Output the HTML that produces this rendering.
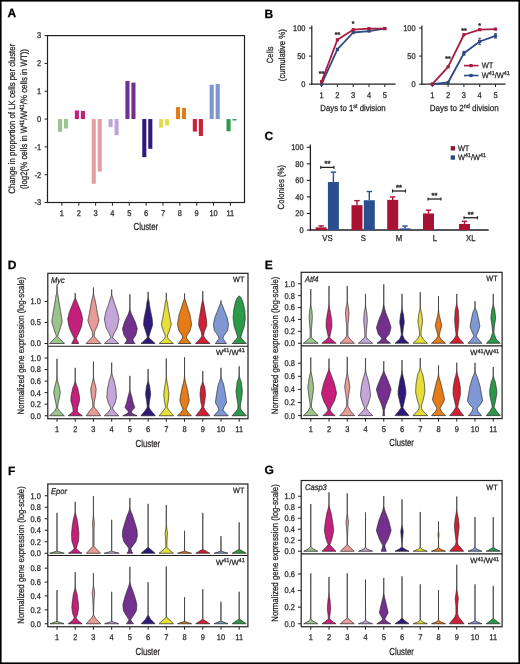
<!DOCTYPE html>
<html><head><meta charset="utf-8"><style>
html,body{margin:0;padding:0;background:#fff;}
svg{display:block;will-change:transform;font-family:"Liberation Sans", sans-serif;text-rendering:geometricPrecision;}
</style></head><body>
<svg width="520" height="664" viewBox="0 0 520 664">
<rect x="0" y="0" width="520" height="664" fill="#fff"/>
<rect x="0" y="0" width="520" height="664" fill="none" stroke="#000" stroke-width="3.2"/>
<text x="7.40" y="17.30" font-size="12" text-anchor="start" font-weight="bold" font-style="normal" fill="#000" stroke="#000" stroke-width="0.25" >A</text>
<rect x="47.5" y="35.6" width="197.0" height="166.9" fill="none" stroke="#231f20" stroke-width="1.2"/>
<line x1="44.60" y1="202.51" x2="47.50" y2="202.51" stroke="#231f20" stroke-width="1" />
<text transform="translate(41.20,205.41) scale(0.9,1)" x="0" y="0" font-size="8.3" text-anchor="end" font-weight="normal" font-style="normal" fill="#231f20" stroke="#231f20" stroke-width="0.25" >-3</text>
<line x1="44.60" y1="174.69" x2="47.50" y2="174.69" stroke="#231f20" stroke-width="1" />
<text transform="translate(41.20,177.59) scale(0.9,1)" x="0" y="0" font-size="8.3" text-anchor="end" font-weight="normal" font-style="normal" fill="#231f20" stroke="#231f20" stroke-width="0.25" >-2</text>
<line x1="44.60" y1="146.87" x2="47.50" y2="146.87" stroke="#231f20" stroke-width="1" />
<text transform="translate(41.20,149.77) scale(0.9,1)" x="0" y="0" font-size="8.3" text-anchor="end" font-weight="normal" font-style="normal" fill="#231f20" stroke="#231f20" stroke-width="0.25" >-1</text>
<line x1="44.60" y1="119.05" x2="47.50" y2="119.05" stroke="#231f20" stroke-width="1" />
<text transform="translate(41.20,121.95) scale(0.9,1)" x="0" y="0" font-size="8.3" text-anchor="end" font-weight="normal" font-style="normal" fill="#231f20" stroke="#231f20" stroke-width="0.25" >0</text>
<line x1="44.60" y1="91.23" x2="47.50" y2="91.23" stroke="#231f20" stroke-width="1" />
<text transform="translate(41.20,94.13) scale(0.9,1)" x="0" y="0" font-size="8.3" text-anchor="end" font-weight="normal" font-style="normal" fill="#231f20" stroke="#231f20" stroke-width="0.25" >1</text>
<line x1="44.60" y1="63.41" x2="47.50" y2="63.41" stroke="#231f20" stroke-width="1" />
<text transform="translate(41.20,66.31) scale(0.9,1)" x="0" y="0" font-size="8.3" text-anchor="end" font-weight="normal" font-style="normal" fill="#231f20" stroke="#231f20" stroke-width="0.25" >2</text>
<line x1="44.60" y1="35.59" x2="47.50" y2="35.59" stroke="#231f20" stroke-width="1" />
<text transform="translate(41.20,38.49) scale(0.9,1)" x="0" y="0" font-size="8.3" text-anchor="end" font-weight="normal" font-style="normal" fill="#231f20" stroke="#231f20" stroke-width="0.25" >3</text>
<rect x="58.00" y="119.05" width="4.10" height="12.80" fill="#9cc48e" />
<rect x="64.00" y="119.05" width="4.10" height="9.46" fill="#9cc48e" />
<line x1="61.90" y1="202.50" x2="61.90" y2="205.70" stroke="#231f20" stroke-width="1" />
<text transform="translate(61.90,216.30) scale(0.9,1)" x="0" y="0" font-size="8.3" text-anchor="middle" font-weight="normal" font-style="normal" fill="#231f20" stroke="#231f20" stroke-width="0.25" >1</text>
<rect x="74.85" y="110.43" width="4.10" height="8.62" fill="#c21f77" />
<rect x="80.85" y="110.98" width="4.10" height="8.07" fill="#c21f77" />
<line x1="78.75" y1="202.50" x2="78.75" y2="205.70" stroke="#231f20" stroke-width="1" />
<text transform="translate(78.75,216.30) scale(0.9,1)" x="0" y="0" font-size="8.3" text-anchor="middle" font-weight="normal" font-style="normal" fill="#231f20" stroke="#231f20" stroke-width="0.25" >2</text>
<rect x="91.70" y="119.05" width="4.10" height="64.82" fill="#e4a0a0" />
<rect x="97.70" y="119.05" width="4.10" height="52.58" fill="#e4a0a0" />
<line x1="95.60" y1="202.50" x2="95.60" y2="205.70" stroke="#231f20" stroke-width="1" />
<text transform="translate(95.60,216.30) scale(0.9,1)" x="0" y="0" font-size="8.3" text-anchor="middle" font-weight="normal" font-style="normal" fill="#231f20" stroke="#231f20" stroke-width="0.25" >3</text>
<rect x="108.55" y="119.05" width="4.10" height="8.07" fill="#c2a4d4" />
<rect x="114.55" y="119.05" width="4.10" height="16.14" fill="#c2a4d4" />
<line x1="112.45" y1="202.50" x2="112.45" y2="205.70" stroke="#231f20" stroke-width="1" />
<text transform="translate(112.45,216.30) scale(0.9,1)" x="0" y="0" font-size="8.3" text-anchor="middle" font-weight="normal" font-style="normal" fill="#231f20" stroke="#231f20" stroke-width="0.25" >4</text>
<rect x="125.40" y="80.94" width="4.10" height="38.11" fill="#703090" />
<rect x="131.40" y="82.61" width="4.10" height="36.44" fill="#703090" />
<line x1="129.30" y1="202.50" x2="129.30" y2="205.70" stroke="#231f20" stroke-width="1" />
<text transform="translate(129.30,216.30) scale(0.9,1)" x="0" y="0" font-size="8.3" text-anchor="middle" font-weight="normal" font-style="normal" fill="#231f20" stroke="#231f20" stroke-width="0.25" >5</text>
<rect x="142.25" y="119.05" width="4.10" height="38.11" fill="#2f1a78" />
<rect x="148.25" y="119.05" width="4.10" height="29.77" fill="#2f1a78" />
<line x1="146.15" y1="202.50" x2="146.15" y2="205.70" stroke="#231f20" stroke-width="1" />
<text transform="translate(146.15,216.30) scale(0.9,1)" x="0" y="0" font-size="8.3" text-anchor="middle" font-weight="normal" font-style="normal" fill="#231f20" stroke="#231f20" stroke-width="0.25" >6</text>
<rect x="159.10" y="119.05" width="4.10" height="8.62" fill="#e2dc4a" />
<rect x="165.10" y="119.05" width="4.10" height="6.40" fill="#e2dc4a" />
<line x1="163.00" y1="202.50" x2="163.00" y2="205.70" stroke="#231f20" stroke-width="1" />
<text transform="translate(163.00,216.30) scale(0.9,1)" x="0" y="0" font-size="8.3" text-anchor="middle" font-weight="normal" font-style="normal" fill="#231f20" stroke="#231f20" stroke-width="0.25" >7</text>
<rect x="175.95" y="107.09" width="4.10" height="11.96" fill="#e07c1a" />
<rect x="181.95" y="107.92" width="4.10" height="11.13" fill="#e07c1a" />
<line x1="179.85" y1="202.50" x2="179.85" y2="205.70" stroke="#231f20" stroke-width="1" />
<text transform="translate(179.85,216.30) scale(0.9,1)" x="0" y="0" font-size="8.3" text-anchor="middle" font-weight="normal" font-style="normal" fill="#231f20" stroke="#231f20" stroke-width="0.25" >8</text>
<rect x="192.80" y="119.05" width="4.10" height="12.52" fill="#cc2035" />
<rect x="198.80" y="119.05" width="4.10" height="16.97" fill="#cc2035" />
<line x1="196.70" y1="202.50" x2="196.70" y2="205.70" stroke="#231f20" stroke-width="1" />
<text transform="translate(196.70,216.30) scale(0.9,1)" x="0" y="0" font-size="8.3" text-anchor="middle" font-weight="normal" font-style="normal" fill="#231f20" stroke="#231f20" stroke-width="0.25" >9</text>
<rect x="209.65" y="84.83" width="4.10" height="34.22" fill="#7e96d0" />
<rect x="215.65" y="84.00" width="4.10" height="35.05" fill="#7e96d0" />
<line x1="213.55" y1="202.50" x2="213.55" y2="205.70" stroke="#231f20" stroke-width="1" />
<text transform="translate(213.55,216.30) scale(0.9,1)" x="0" y="0" font-size="8.3" text-anchor="middle" font-weight="normal" font-style="normal" fill="#231f20" stroke="#231f20" stroke-width="0.25" >10</text>
<rect x="226.50" y="119.05" width="4.10" height="12.24" fill="#2c9a4c" />
<rect x="232.50" y="119.05" width="4.10" height="1.39" fill="#2c9a4c" />
<line x1="230.40" y1="202.50" x2="230.40" y2="205.70" stroke="#231f20" stroke-width="1" />
<text transform="translate(230.40,216.30) scale(0.9,1)" x="0" y="0" font-size="8.3" text-anchor="middle" font-weight="normal" font-style="normal" fill="#231f20" stroke="#231f20" stroke-width="0.25" >11</text>
<text x="145.85" y="230.40" font-size="10.2" text-anchor="middle" font-weight="normal" font-style="normal" fill="#231f20" stroke="#231f20" stroke-width="0.25" textLength="24.6" lengthAdjust="spacingAndGlyphs" >Cluster</text>
<g transform="translate(15.4,118.75) rotate(-90)">
<text x="0.00" y="0.00" font-size="9.3" text-anchor="middle" font-weight="normal" font-style="normal" fill="#231f20" stroke="#231f20" stroke-width="0.25" textLength="150" lengthAdjust="spacingAndGlyphs" >Change in proportion of LK cells per cluster</text>
</g>
<g transform="translate(27.1,119) rotate(-90)">
<text x="0.00" y="0.00" font-size="9.3" text-anchor="middle" font-weight="normal" font-style="normal" fill="#231f20" stroke="#231f20" stroke-width="0.25" textLength="140" lengthAdjust="spacingAndGlyphs" >(log2(% cells in W<tspan font-size="6.3" dy="-3.3">41</tspan><tspan dy="3.3">/W</tspan><tspan font-size="6.3" dy="-3.3">41</tspan><tspan dy="3.3">/% cells in WT))</tspan></text>
</g>
<text x="264.50" y="17.60" font-size="12" text-anchor="start" font-weight="bold" font-style="normal" fill="#000" stroke="#000" stroke-width="0.25" >B</text>
<line x1="311.80" y1="25.40" x2="311.80" y2="84.70" stroke="#231f20" stroke-width="1.2" />
<line x1="311.20" y1="84.20" x2="395.60" y2="84.20" stroke="#231f20" stroke-width="1.2" />
<line x1="309.00" y1="84.20" x2="311.80" y2="84.20" stroke="#231f20" stroke-width="1" />
<text transform="translate(305.50,87.10) scale(0.9,1)" x="0" y="0" font-size="8.3" text-anchor="end" font-weight="normal" font-style="normal" fill="#231f20" stroke="#231f20" stroke-width="0.25" >0</text>
<line x1="309.00" y1="56.10" x2="311.80" y2="56.10" stroke="#231f20" stroke-width="1" />
<text transform="translate(305.50,59.00) scale(0.9,1)" x="0" y="0" font-size="8.3" text-anchor="end" font-weight="normal" font-style="normal" fill="#231f20" stroke="#231f20" stroke-width="0.25" >50</text>
<line x1="309.00" y1="28.00" x2="311.80" y2="28.00" stroke="#231f20" stroke-width="1" />
<text transform="translate(305.50,30.90) scale(0.9,1)" x="0" y="0" font-size="8.3" text-anchor="end" font-weight="normal" font-style="normal" fill="#231f20" stroke="#231f20" stroke-width="0.25" >100</text>
<line x1="321.60" y1="84.20" x2="321.60" y2="87.00" stroke="#231f20" stroke-width="1" />
<text transform="translate(321.60,97.90) scale(0.9,1)" x="0" y="0" font-size="8.3" text-anchor="middle" font-weight="normal" font-style="normal" fill="#231f20" stroke="#231f20" stroke-width="0.25" >1</text>
<line x1="337.40" y1="84.20" x2="337.40" y2="87.00" stroke="#231f20" stroke-width="1" />
<text transform="translate(337.40,97.90) scale(0.9,1)" x="0" y="0" font-size="8.3" text-anchor="middle" font-weight="normal" font-style="normal" fill="#231f20" stroke="#231f20" stroke-width="0.25" >2</text>
<line x1="353.20" y1="84.20" x2="353.20" y2="87.00" stroke="#231f20" stroke-width="1" />
<text transform="translate(353.20,97.90) scale(0.9,1)" x="0" y="0" font-size="8.3" text-anchor="middle" font-weight="normal" font-style="normal" fill="#231f20" stroke="#231f20" stroke-width="0.25" >3</text>
<line x1="369.00" y1="84.20" x2="369.00" y2="87.00" stroke="#231f20" stroke-width="1" />
<text transform="translate(369.00,97.90) scale(0.9,1)" x="0" y="0" font-size="8.3" text-anchor="middle" font-weight="normal" font-style="normal" fill="#231f20" stroke="#231f20" stroke-width="0.25" >4</text>
<line x1="384.80" y1="84.20" x2="384.80" y2="87.00" stroke="#231f20" stroke-width="1" />
<text transform="translate(384.80,97.90) scale(0.9,1)" x="0" y="0" font-size="8.3" text-anchor="middle" font-weight="normal" font-style="normal" fill="#231f20" stroke="#231f20" stroke-width="0.25" >5</text>
<polyline points="321.60,84.20 337.40,49.36 353.20,32.50 369.00,31.09 384.80,28.56" fill="none" stroke="#2e4a80" stroke-width="1.8" stroke-linejoin="round"/>
<rect x="320.00" y="82.60" width="3.20" height="3.20" fill="#2e4a80" />
<rect x="335.80" y="47.76" width="3.20" height="3.20" fill="#2e4a80" />
<rect x="351.60" y="30.90" width="3.20" height="3.20" fill="#2e4a80" />
<rect x="367.40" y="29.49" width="3.20" height="3.20" fill="#2e4a80" />
<rect x="383.20" y="26.96" width="3.20" height="3.20" fill="#2e4a80" />
<polyline points="321.60,81.67 337.40,39.80 353.20,29.69 369.00,28.56 384.80,28.56" fill="none" stroke="#ab1a40" stroke-width="1.8" stroke-linejoin="round"/>
<rect x="320.00" y="80.07" width="3.20" height="3.20" fill="#ab1a40" />
<rect x="335.80" y="38.20" width="3.20" height="3.20" fill="#ab1a40" />
<rect x="351.60" y="28.09" width="3.20" height="3.20" fill="#ab1a40" />
<rect x="367.40" y="26.96" width="3.20" height="3.20" fill="#ab1a40" />
<rect x="383.20" y="26.96" width="3.20" height="3.20" fill="#ab1a40" />
<text x="321.60" y="76.00" font-size="7" text-anchor="middle" font-weight="bold" font-style="normal" fill="#231f20" stroke="#231f20" stroke-width="0.25" >**</text>
<text x="337.40" y="36.50" font-size="7" text-anchor="middle" font-weight="bold" font-style="normal" fill="#231f20" stroke="#231f20" stroke-width="0.25" >**</text>
<text x="353.20" y="26.00" font-size="7" text-anchor="middle" font-weight="bold" font-style="normal" fill="#231f20" stroke="#231f20" stroke-width="0.25" >*</text>
<text x="353.00" y="111.20" font-size="8.8" text-anchor="middle" font-weight="normal" font-style="normal" fill="#231f20" stroke="#231f20" stroke-width="0.25" textLength="65.5" lengthAdjust="spacingAndGlyphs" >Days to 1<tspan font-size="6" dy="-3.2">st</tspan><tspan dy="3.2"> division</tspan></text>
<line x1="421.90" y1="25.40" x2="421.90" y2="84.70" stroke="#231f20" stroke-width="1.2" />
<line x1="421.30" y1="84.20" x2="505.50" y2="84.20" stroke="#231f20" stroke-width="1.2" />
<line x1="419.10" y1="84.20" x2="421.90" y2="84.20" stroke="#231f20" stroke-width="1" />
<text transform="translate(415.60,87.10) scale(0.9,1)" x="0" y="0" font-size="8.3" text-anchor="end" font-weight="normal" font-style="normal" fill="#231f20" stroke="#231f20" stroke-width="0.25" >0</text>
<line x1="419.10" y1="56.10" x2="421.90" y2="56.10" stroke="#231f20" stroke-width="1" />
<text transform="translate(415.60,59.00) scale(0.9,1)" x="0" y="0" font-size="8.3" text-anchor="end" font-weight="normal" font-style="normal" fill="#231f20" stroke="#231f20" stroke-width="0.25" >50</text>
<line x1="419.10" y1="28.00" x2="421.90" y2="28.00" stroke="#231f20" stroke-width="1" />
<text transform="translate(415.60,30.90) scale(0.9,1)" x="0" y="0" font-size="8.3" text-anchor="end" font-weight="normal" font-style="normal" fill="#231f20" stroke="#231f20" stroke-width="0.25" >100</text>
<line x1="432.30" y1="84.20" x2="432.30" y2="87.00" stroke="#231f20" stroke-width="1" />
<text transform="translate(432.30,97.90) scale(0.9,1)" x="0" y="0" font-size="8.3" text-anchor="middle" font-weight="normal" font-style="normal" fill="#231f20" stroke="#231f20" stroke-width="0.25" >1</text>
<line x1="448.10" y1="84.20" x2="448.10" y2="87.00" stroke="#231f20" stroke-width="1" />
<text transform="translate(448.10,97.90) scale(0.9,1)" x="0" y="0" font-size="8.3" text-anchor="middle" font-weight="normal" font-style="normal" fill="#231f20" stroke="#231f20" stroke-width="0.25" >2</text>
<line x1="463.90" y1="84.20" x2="463.90" y2="87.00" stroke="#231f20" stroke-width="1" />
<text transform="translate(463.90,97.90) scale(0.9,1)" x="0" y="0" font-size="8.3" text-anchor="middle" font-weight="normal" font-style="normal" fill="#231f20" stroke="#231f20" stroke-width="0.25" >3</text>
<line x1="479.70" y1="84.20" x2="479.70" y2="87.00" stroke="#231f20" stroke-width="1" />
<text transform="translate(479.70,97.90) scale(0.9,1)" x="0" y="0" font-size="8.3" text-anchor="middle" font-weight="normal" font-style="normal" fill="#231f20" stroke="#231f20" stroke-width="0.25" >4</text>
<line x1="495.50" y1="84.20" x2="495.50" y2="87.00" stroke="#231f20" stroke-width="1" />
<text transform="translate(495.50,97.90) scale(0.9,1)" x="0" y="0" font-size="8.3" text-anchor="middle" font-weight="normal" font-style="normal" fill="#231f20" stroke="#231f20" stroke-width="0.25" >5</text>
<polyline points="432.30,84.20 448.10,82.51 463.90,53.29 479.70,41.49 495.50,35.87" fill="none" stroke="#2e4a80" stroke-width="1.8" stroke-linejoin="round"/>
<rect x="430.70" y="82.60" width="3.20" height="3.20" fill="#2e4a80" />
<rect x="446.50" y="80.91" width="3.20" height="3.20" fill="#2e4a80" />
<rect x="462.30" y="51.69" width="3.20" height="3.20" fill="#2e4a80" />
<rect x="478.10" y="39.89" width="3.20" height="3.20" fill="#2e4a80" />
<rect x="493.90" y="34.27" width="3.20" height="3.20" fill="#2e4a80" />
<polyline points="432.30,84.20 448.10,66.78 463.90,34.74 479.70,29.69 495.50,29.12" fill="none" stroke="#ab1a40" stroke-width="1.8" stroke-linejoin="round"/>
<rect x="430.70" y="82.60" width="3.20" height="3.20" fill="#ab1a40" />
<rect x="446.50" y="65.18" width="3.20" height="3.20" fill="#ab1a40" />
<rect x="462.30" y="33.14" width="3.20" height="3.20" fill="#ab1a40" />
<rect x="478.10" y="28.09" width="3.20" height="3.20" fill="#ab1a40" />
<rect x="493.90" y="27.52" width="3.20" height="3.20" fill="#ab1a40" />
<line x1="463.90" y1="51.29" x2="463.90" y2="55.29" stroke="#2e4a80" stroke-width="0.9" />
<line x1="462.40" y1="51.29" x2="465.40" y2="51.29" stroke="#2e4a80" stroke-width="0.9" />
<line x1="462.40" y1="55.29" x2="465.40" y2="55.29" stroke="#2e4a80" stroke-width="0.9" />
<line x1="479.70" y1="38.29" x2="479.70" y2="44.69" stroke="#2e4a80" stroke-width="0.9" />
<line x1="478.20" y1="38.29" x2="481.20" y2="38.29" stroke="#2e4a80" stroke-width="0.9" />
<line x1="478.20" y1="44.69" x2="481.20" y2="44.69" stroke="#2e4a80" stroke-width="0.9" />
<line x1="495.50" y1="33.67" x2="495.50" y2="38.07" stroke="#2e4a80" stroke-width="0.9" />
<line x1="494.00" y1="33.67" x2="497.00" y2="33.67" stroke="#2e4a80" stroke-width="0.9" />
<line x1="494.00" y1="38.07" x2="497.00" y2="38.07" stroke="#2e4a80" stroke-width="0.9" />
<text x="448.10" y="61.30" font-size="7" text-anchor="middle" font-weight="bold" font-style="normal" fill="#231f20" stroke="#231f20" stroke-width="0.25" >**</text>
<text x="463.90" y="33.30" font-size="7" text-anchor="middle" font-weight="bold" font-style="normal" fill="#231f20" stroke="#231f20" stroke-width="0.25" >**</text>
<text x="479.70" y="28.00" font-size="7" text-anchor="middle" font-weight="bold" font-style="normal" fill="#231f20" stroke="#231f20" stroke-width="0.25" >*</text>
<text x="464.30" y="111.20" font-size="8.8" text-anchor="middle" font-weight="normal" font-style="normal" fill="#231f20" stroke="#231f20" stroke-width="0.25" textLength="69" lengthAdjust="spacingAndGlyphs" >Days to 2<tspan font-size="6" dy="-3.2">nd</tspan><tspan dy="3.2"> division</tspan></text>
<g transform="translate(273,54.8) rotate(-90)">
<text x="0.00" y="0.00" font-size="9.0" text-anchor="middle" font-weight="normal" font-style="normal" fill="#231f20" stroke="#231f20" stroke-width="0.25" textLength="16.8" lengthAdjust="spacingAndGlyphs" >Cells</text>
</g>
<g transform="translate(284.6,55.2) rotate(-90)">
<text x="0.00" y="0.00" font-size="9.0" text-anchor="middle" font-weight="normal" font-style="normal" fill="#231f20" stroke="#231f20" stroke-width="0.25" textLength="52" lengthAdjust="spacingAndGlyphs" >(cumulative %)</text>
</g>
<line x1="464.00" y1="65.60" x2="478.50" y2="65.60" stroke="#ab1a40" stroke-width="1.6" />
<rect x="469.40" y="64.00" width="3.20" height="3.20" fill="#ab1a40" />
<text transform="translate(481.70,68.30) scale(0.93,1)" x="0" y="0" font-size="8" text-anchor="start" font-weight="normal" font-style="normal" fill="#231f20" stroke="#231f20" stroke-width="0.25" >WT</text>
<line x1="464.00" y1="75.50" x2="478.50" y2="75.50" stroke="#2e4a80" stroke-width="1.6" />
<rect x="469.40" y="73.90" width="3.20" height="3.20" fill="#2e4a80" />
<text transform="translate(481.70,78.20) scale(0.93,1)" x="0" y="0" font-size="8" text-anchor="start" font-weight="normal" font-style="normal" fill="#231f20" stroke="#231f20" stroke-width="0.25" >W<tspan font-size="5.8" dy="-2.9">41</tspan><tspan dy="2.9">/W</tspan><tspan font-size="5.8" dy="-2.9">41</tspan></text>
<text x="264.60" y="140.10" font-size="12" text-anchor="start" font-weight="bold" font-style="normal" fill="#000" stroke="#000" stroke-width="0.25" >C</text>
<line x1="310.40" y1="144.50" x2="310.40" y2="230.60" stroke="#231f20" stroke-width="1.3" />
<line x1="309.80" y1="230.00" x2="488.75" y2="230.00" stroke="#231f20" stroke-width="1.3" />
<line x1="306.80" y1="230.00" x2="310.40" y2="230.00" stroke="#231f20" stroke-width="1.1" />
<text transform="translate(303.60,232.90) scale(0.9,1)" x="0" y="0" font-size="8.3" text-anchor="end" font-weight="normal" font-style="normal" fill="#231f20" stroke="#231f20" stroke-width="0.25" >0</text>
<line x1="306.80" y1="213.46" x2="310.40" y2="213.46" stroke="#231f20" stroke-width="1.1" />
<text transform="translate(303.60,216.36) scale(0.9,1)" x="0" y="0" font-size="8.3" text-anchor="end" font-weight="normal" font-style="normal" fill="#231f20" stroke="#231f20" stroke-width="0.25" >20</text>
<line x1="306.80" y1="196.92" x2="310.40" y2="196.92" stroke="#231f20" stroke-width="1.1" />
<text transform="translate(303.60,199.82) scale(0.9,1)" x="0" y="0" font-size="8.3" text-anchor="end" font-weight="normal" font-style="normal" fill="#231f20" stroke="#231f20" stroke-width="0.25" >40</text>
<line x1="306.80" y1="180.38" x2="310.40" y2="180.38" stroke="#231f20" stroke-width="1.1" />
<text transform="translate(303.60,183.28) scale(0.9,1)" x="0" y="0" font-size="8.3" text-anchor="end" font-weight="normal" font-style="normal" fill="#231f20" stroke="#231f20" stroke-width="0.25" >60</text>
<line x1="306.80" y1="163.84" x2="310.40" y2="163.84" stroke="#231f20" stroke-width="1.1" />
<text transform="translate(303.60,166.74) scale(0.9,1)" x="0" y="0" font-size="8.3" text-anchor="end" font-weight="normal" font-style="normal" fill="#231f20" stroke="#231f20" stroke-width="0.25" >80</text>
<line x1="306.80" y1="147.30" x2="310.40" y2="147.30" stroke="#231f20" stroke-width="1.1" />
<text transform="translate(303.60,150.20) scale(0.9,1)" x="0" y="0" font-size="8.3" text-anchor="end" font-weight="normal" font-style="normal" fill="#231f20" stroke="#231f20" stroke-width="0.25" >100</text>
<line x1="321.10" y1="227.35" x2="321.10" y2="225.87" stroke="#aa1234" stroke-width="1.4" />
<line x1="318.40" y1="225.87" x2="323.80" y2="225.87" stroke="#aa1234" stroke-width="1.4" />
<rect x="315.60" y="227.35" width="11.00" height="2.65" fill="#aa1234" />
<line x1="333.40" y1="182.03" x2="333.40" y2="172.11" stroke="#2a4f8f" stroke-width="1.4" />
<line x1="330.70" y1="172.11" x2="336.10" y2="172.11" stroke="#2a4f8f" stroke-width="1.4" />
<rect x="327.90" y="182.03" width="11.00" height="47.97" fill="#2a4f8f" />
<text transform="translate(327.40,240.60) scale(0.9,1)" x="0" y="0" font-size="8.6" text-anchor="middle" font-weight="normal" font-style="normal" fill="#231f20" stroke="#231f20" stroke-width="0.25" >VS</text>
<line x1="357.00" y1="205.19" x2="357.00" y2="200.64" stroke="#aa1234" stroke-width="1.4" />
<line x1="354.30" y1="200.64" x2="359.70" y2="200.64" stroke="#aa1234" stroke-width="1.4" />
<rect x="351.50" y="205.19" width="11.00" height="24.81" fill="#aa1234" />
<line x1="369.30" y1="200.23" x2="369.30" y2="191.54" stroke="#2a4f8f" stroke-width="1.4" />
<line x1="366.60" y1="191.54" x2="372.00" y2="191.54" stroke="#2a4f8f" stroke-width="1.4" />
<rect x="363.80" y="200.23" width="11.00" height="29.77" fill="#2a4f8f" />
<text transform="translate(363.30,240.60) scale(0.9,1)" x="0" y="0" font-size="8.6" text-anchor="middle" font-weight="normal" font-style="normal" fill="#231f20" stroke="#231f20" stroke-width="0.25" >S</text>
<line x1="392.70" y1="199.90" x2="392.70" y2="196.92" stroke="#aa1234" stroke-width="1.4" />
<line x1="390.00" y1="196.92" x2="395.40" y2="196.92" stroke="#aa1234" stroke-width="1.4" />
<rect x="387.20" y="199.90" width="11.00" height="30.10" fill="#aa1234" />
<line x1="405.00" y1="228.35" x2="405.00" y2="226.03" stroke="#2a4f8f" stroke-width="1.4" />
<line x1="402.30" y1="226.03" x2="407.70" y2="226.03" stroke="#2a4f8f" stroke-width="1.4" />
<rect x="399.50" y="228.35" width="11.00" height="1.65" fill="#2a4f8f" />
<text transform="translate(399.00,240.60) scale(0.9,1)" x="0" y="0" font-size="8.6" text-anchor="middle" font-weight="normal" font-style="normal" fill="#231f20" stroke="#231f20" stroke-width="0.25" >M</text>
<line x1="428.50" y1="213.46" x2="428.50" y2="210.15" stroke="#aa1234" stroke-width="1.4" />
<line x1="425.80" y1="210.15" x2="431.20" y2="210.15" stroke="#aa1234" stroke-width="1.4" />
<rect x="423.00" y="213.46" width="11.00" height="16.54" fill="#aa1234" />
<rect x="435.30" y="229.50" width="11.00" height="0.50" fill="#2a4f8f" />
<text transform="translate(434.80,240.60) scale(0.9,1)" x="0" y="0" font-size="8.6" text-anchor="middle" font-weight="normal" font-style="normal" fill="#231f20" stroke="#231f20" stroke-width="0.25" >L</text>
<line x1="464.50" y1="223.96" x2="464.50" y2="221.32" stroke="#aa1234" stroke-width="1.4" />
<line x1="461.80" y1="221.32" x2="467.20" y2="221.32" stroke="#aa1234" stroke-width="1.4" />
<rect x="459.00" y="223.96" width="11.00" height="6.04" fill="#aa1234" />
<rect x="471.30" y="229.67" width="11.00" height="0.33" fill="#2a4f8f" />
<text transform="translate(470.80,240.60) scale(0.9,1)" x="0" y="0" font-size="8.6" text-anchor="middle" font-weight="normal" font-style="normal" fill="#231f20" stroke="#231f20" stroke-width="0.25" >XL</text>
<line x1="320.80" y1="167.40" x2="334.00" y2="167.40" stroke="#231f20" stroke-width="1.3" />
<line x1="320.80" y1="165.80" x2="320.80" y2="169.00" stroke="#231f20" stroke-width="1.1" />
<line x1="334.00" y1="165.80" x2="334.00" y2="169.00" stroke="#231f20" stroke-width="1.1" />
<text x="327.40" y="166.40" font-size="7.4" text-anchor="middle" font-weight="bold" font-style="normal" fill="#231f20" stroke="#231f20" stroke-width="0.25" >**</text>
<line x1="392.50" y1="191.00" x2="405.50" y2="191.00" stroke="#231f20" stroke-width="1.3" />
<line x1="392.50" y1="189.40" x2="392.50" y2="192.60" stroke="#231f20" stroke-width="1.1" />
<line x1="405.50" y1="189.40" x2="405.50" y2="192.60" stroke="#231f20" stroke-width="1.1" />
<text x="399.00" y="190.00" font-size="7.4" text-anchor="middle" font-weight="bold" font-style="normal" fill="#231f20" stroke="#231f20" stroke-width="0.25" >**</text>
<line x1="428.00" y1="199.00" x2="441.00" y2="199.00" stroke="#231f20" stroke-width="1.3" />
<line x1="428.00" y1="197.40" x2="428.00" y2="200.60" stroke="#231f20" stroke-width="1.1" />
<line x1="441.00" y1="197.40" x2="441.00" y2="200.60" stroke="#231f20" stroke-width="1.1" />
<text x="434.50" y="198.00" font-size="7.4" text-anchor="middle" font-weight="bold" font-style="normal" fill="#231f20" stroke="#231f20" stroke-width="0.25" >**</text>
<line x1="464.00" y1="217.75" x2="477.50" y2="217.75" stroke="#231f20" stroke-width="1.3" />
<line x1="464.00" y1="216.15" x2="464.00" y2="219.35" stroke="#231f20" stroke-width="1.1" />
<line x1="477.50" y1="216.15" x2="477.50" y2="219.35" stroke="#231f20" stroke-width="1.1" />
<text x="470.75" y="216.75" font-size="7.4" text-anchor="middle" font-weight="bold" font-style="normal" fill="#231f20" stroke="#231f20" stroke-width="0.25" >**</text>
<g transform="translate(284.3,187.2) rotate(-90)">
<text x="0.00" y="0.00" font-size="9.0" text-anchor="middle" font-weight="normal" font-style="normal" fill="#231f20" stroke="#231f20" stroke-width="0.25" textLength="44.5" lengthAdjust="spacingAndGlyphs" >Colonies (%)</text>
</g>
<rect x="450.70" y="146.10" width="4.30" height="4.40" fill="#8e1a30" />
<text x="457.90" y="150.60" font-size="8" text-anchor="start" font-weight="normal" font-style="normal" fill="#231f20" stroke="#231f20" stroke-width="0.25" textLength="11.5" lengthAdjust="spacingAndGlyphs" >WT</text>
<rect x="450.70" y="155.30" width="4.30" height="4.40" fill="#2c4a7e" />
<text transform="translate(457.90,159.80) scale(0.93,1)" x="0" y="0" font-size="8" text-anchor="start" font-weight="normal" font-style="normal" fill="#231f20" stroke="#231f20" stroke-width="0.25" >W<tspan font-size="5.8" dy="-2.9">41</tspan><tspan dy="2.9">/W</tspan><tspan font-size="5.8" dy="-2.9">41</tspan></text>
<text x="7.70" y="268.70" font-size="12" text-anchor="start" font-weight="bold" font-style="normal" fill="#000" stroke="#000" stroke-width="0.25" >D</text>
<path d="M64.50,343.50 63.90,342.90 63.30,342.30 62.70,341.70 62.10,341.10 61.50,340.50 60.90,339.90 60.30,339.30 59.70,338.70 59.10,338.10 58.50,337.50 57.93,336.90 57.65,336.30 57.77,335.70 57.97,335.10 58.17,334.50 58.37,333.90 58.57,333.30 58.78,332.70 58.99,332.10 59.20,331.50 59.41,330.90 59.62,330.30 59.83,329.70 60.04,329.10 60.25,328.50 60.46,327.90 60.64,327.30 60.81,326.70 60.97,326.10 61.13,325.50 61.29,324.90 61.45,324.30 61.61,323.70 61.77,323.10 61.93,322.50 62.07,321.90 62.12,321.30 62.07,320.70 61.98,320.10 61.89,319.50 61.80,318.90 61.70,318.30 61.61,317.70 61.52,317.10 61.42,316.50 61.33,315.90 61.24,315.30 61.14,314.70 61.05,314.10 60.96,313.50 60.86,312.90 60.76,312.30 60.66,311.70 60.55,311.10 60.44,310.50 60.34,309.90 60.23,309.30 60.12,308.70 60.02,308.10 59.91,307.50 59.80,306.90 59.70,306.30 59.59,305.70 59.48,305.10 59.38,304.50 59.27,303.90 59.17,303.30 59.08,302.70 58.99,302.10 58.90,301.50 58.81,300.90 58.72,300.30 58.63,299.70 58.54,299.10 58.45,298.50 58.36,297.90 58.27,297.30 58.18,296.70 58.09,296.10 57.97,295.50 57.81,294.90 57.65,294.30 57.50,293.70 57.37,293.10 57.26,292.50 57.17,291.90 57.11,291.30 57.06,290.70 57.03,290.10 57.02,289.50 57.02,288.90 57.01,288.30 57.01,287.70 57.01,287.10 57.01,286.50 57.00,285.90 57.00,285.30 57.00,285.30 57.00,285.30 57.00,285.90 56.99,286.50 56.99,287.10 56.99,287.70 56.99,288.30 56.98,288.90 56.98,289.50 56.97,290.10 56.94,290.70 56.89,291.30 56.83,291.90 56.74,292.50 56.63,293.10 56.50,293.70 56.35,294.30 56.19,294.90 56.03,295.50 55.91,296.10 55.82,296.70 55.73,297.30 55.64,297.90 55.55,298.50 55.46,299.10 55.37,299.70 55.28,300.30 55.19,300.90 55.10,301.50 55.01,302.10 54.92,302.70 54.83,303.30 54.73,303.90 54.62,304.50 54.52,305.10 54.41,305.70 54.30,306.30 54.20,306.90 54.09,307.50 53.98,308.10 53.88,308.70 53.77,309.30 53.66,309.90 53.56,310.50 53.45,311.10 53.34,311.70 53.24,312.30 53.14,312.90 53.04,313.50 52.95,314.10 52.86,314.70 52.76,315.30 52.67,315.90 52.58,316.50 52.48,317.10 52.39,317.70 52.30,318.30 52.20,318.90 52.11,319.50 52.02,320.10 51.93,320.70 51.88,321.30 51.93,321.90 52.07,322.50 52.23,323.10 52.39,323.70 52.55,324.30 52.71,324.90 52.87,325.50 53.03,326.10 53.19,326.70 53.36,327.30 53.54,327.90 53.75,328.50 53.96,329.10 54.17,329.70 54.38,330.30 54.59,330.90 54.80,331.50 55.01,332.10 55.22,332.70 55.43,333.30 55.63,333.90 55.83,334.50 56.03,335.10 56.23,335.70 56.35,336.30 56.07,336.90 55.50,337.50 54.90,338.10 54.30,338.70 53.70,339.30 53.10,339.90 52.50,340.50 51.90,341.10 51.30,341.70 50.70,342.30 50.10,342.90 49.50,343.50Z" fill="#9cc48e" stroke="#231f20" stroke-width="0.7" stroke-linejoin="round"/>
<path d="M64.40,415.75 63.75,415.15 63.09,414.55 62.44,413.95 61.79,413.35 61.13,412.75 60.48,412.15 59.83,411.55 59.33,410.95 58.97,410.35 58.61,409.75 58.25,409.15 57.91,408.55 57.67,407.95 57.65,407.35 57.68,406.75 57.72,406.15 57.76,405.55 57.82,404.95 57.92,404.35 58.04,403.75 58.18,403.15 58.31,402.55 58.44,401.95 58.58,401.35 58.71,400.75 58.84,400.15 58.98,399.55 59.11,398.95 59.23,398.35 59.34,397.75 59.44,397.15 59.54,396.55 59.65,395.95 59.75,395.35 59.85,394.75 59.96,394.15 60.06,393.55 60.16,392.95 60.22,392.35 60.20,391.75 60.09,391.15 59.97,390.55 59.85,389.95 59.72,389.35 59.60,388.75 59.47,388.15 59.35,387.55 59.23,386.95 59.10,386.35 58.95,385.75 58.78,385.15 58.60,384.55 58.42,383.95 58.26,383.35 58.11,382.75 57.96,382.15 57.83,381.55 57.71,380.95 57.59,380.35 57.49,379.75 57.40,379.15 57.32,378.55 57.25,377.95 57.18,377.35 57.13,376.75 57.09,376.15 57.06,375.55 57.04,374.95 57.03,374.35 57.02,373.75 57.02,373.15 57.02,372.55 57.02,371.95 57.02,371.35 57.02,370.75 57.01,370.15 57.01,369.55 57.01,368.95 57.01,368.35 57.01,367.75 57.01,367.15 57.01,366.55 57.01,365.95 57.01,365.35 57.01,364.75 57.01,364.15 57.01,363.55 57.01,362.95 57.00,362.35 57.00,361.75 57.00,361.15 57.00,360.55 57.00,359.95 57.00,359.35 57.00,358.85 57.00,359.35 57.00,359.95 57.00,360.55 57.00,361.15 57.00,361.75 57.00,362.35 56.99,362.95 56.99,363.55 56.99,364.15 56.99,364.75 56.99,365.35 56.99,365.95 56.99,366.55 56.99,367.15 56.99,367.75 56.99,368.35 56.99,368.95 56.99,369.55 56.99,370.15 56.98,370.75 56.98,371.35 56.98,371.95 56.98,372.55 56.98,373.15 56.98,373.75 56.97,374.35 56.96,374.95 56.94,375.55 56.91,376.15 56.87,376.75 56.82,377.35 56.75,377.95 56.68,378.55 56.60,379.15 56.51,379.75 56.41,380.35 56.29,380.95 56.17,381.55 56.04,382.15 55.89,382.75 55.74,383.35 55.58,383.95 55.40,384.55 55.22,385.15 55.05,385.75 54.90,386.35 54.77,386.95 54.65,387.55 54.53,388.15 54.40,388.75 54.28,389.35 54.15,389.95 54.03,390.55 53.91,391.15 53.80,391.75 53.78,392.35 53.84,392.95 53.94,393.55 54.04,394.15 54.15,394.75 54.25,395.35 54.35,395.95 54.46,396.55 54.56,397.15 54.66,397.75 54.77,398.35 54.89,398.95 55.02,399.55 55.16,400.15 55.29,400.75 55.42,401.35 55.56,401.95 55.69,402.55 55.82,403.15 55.96,403.75 56.08,404.35 56.18,404.95 56.24,405.55 56.28,406.15 56.32,406.75 56.35,407.35 56.33,407.95 56.09,408.55 55.75,409.15 55.39,409.75 55.03,410.35 54.67,410.95 54.17,411.55 53.52,412.15 52.87,412.75 52.21,413.35 51.56,413.95 50.91,414.55 50.25,415.15 49.60,415.75Z" fill="#9cc48e" stroke="#231f20" stroke-width="0.7" stroke-linejoin="round"/>
<path d="M78.72,343.50 78.43,342.90 78.15,342.30 77.86,341.70 77.55,341.10 77.20,340.50 76.85,339.90 76.51,339.30 76.28,338.70 76.50,338.10 76.74,337.50 76.98,336.90 77.23,336.30 77.51,335.70 77.79,335.10 78.08,334.50 78.36,333.90 78.65,333.30 78.93,332.70 79.22,332.10 79.51,331.50 79.79,330.90 80.07,330.30 80.31,329.70 80.52,329.10 80.72,328.50 80.92,327.90 81.12,327.30 81.32,326.70 81.52,326.10 81.69,325.50 81.81,324.90 81.90,324.30 81.99,323.70 82.08,323.10 82.17,322.50 82.26,321.90 82.35,321.30 82.44,320.70 82.53,320.10 82.61,319.50 82.65,318.90 82.59,318.30 82.46,317.70 82.32,317.10 82.17,316.50 82.03,315.90 81.89,315.30 81.74,314.70 81.60,314.10 81.46,313.50 81.31,312.90 81.12,312.30 80.90,311.70 80.66,311.10 80.42,310.50 80.18,309.90 79.94,309.30 79.70,308.70 79.46,308.10 79.22,307.50 78.98,306.90 78.74,306.30 78.50,305.70 78.26,305.10 78.02,304.50 77.78,303.90 77.54,303.30 77.30,302.70 77.06,302.10 76.82,301.50 76.57,300.90 76.31,300.30 76.04,299.70 75.80,299.10 75.60,298.50 75.45,297.90 75.34,297.30 75.27,296.70 75.25,296.10 75.24,295.50 75.23,294.90 75.23,294.30 75.22,293.70 75.22,293.10 75.22,293.00 75.22,293.10 75.22,293.70 75.21,294.30 75.21,294.90 75.20,295.50 75.19,296.10 75.17,296.70 75.10,297.30 74.99,297.90 74.84,298.50 74.64,299.10 74.40,299.70 74.13,300.30 73.87,300.90 73.62,301.50 73.38,302.10 73.14,302.70 72.90,303.30 72.66,303.90 72.42,304.50 72.18,305.10 71.94,305.70 71.70,306.30 71.46,306.90 71.22,307.50 70.98,308.10 70.74,308.70 70.50,309.30 70.26,309.90 70.02,310.50 69.78,311.10 69.54,311.70 69.32,312.30 69.13,312.90 68.98,313.50 68.84,314.10 68.70,314.70 68.55,315.30 68.41,315.90 68.27,316.50 68.12,317.10 67.98,317.70 67.85,318.30 67.79,318.90 67.83,319.50 67.91,320.10 68.00,320.70 68.09,321.30 68.18,321.90 68.27,322.50 68.36,323.10 68.45,323.70 68.54,324.30 68.63,324.90 68.75,325.50 68.92,326.10 69.12,326.70 69.32,327.30 69.52,327.90 69.72,328.50 69.92,329.10 70.13,329.70 70.37,330.30 70.65,330.90 70.93,331.50 71.22,332.10 71.51,332.70 71.79,333.30 72.08,333.90 72.36,334.50 72.65,335.10 72.93,335.70 73.21,336.30 73.46,336.90 73.70,337.50 73.94,338.10 74.16,338.70 73.93,339.30 73.59,339.90 73.24,340.50 72.89,341.10 72.58,341.70 72.29,342.30 72.01,342.90 71.72,343.50Z" fill="#c41f7a" stroke="#231f20" stroke-width="0.7" stroke-linejoin="round"/>
<path d="M82.42,415.75 81.57,415.15 80.71,414.55 79.86,413.95 79.24,413.35 78.66,412.75 78.09,412.15 77.51,411.55 77.27,410.95 77.33,410.35 77.40,409.75 77.47,409.15 77.54,408.55 77.61,407.95 77.69,407.35 77.82,406.75 77.99,406.15 78.17,405.55 78.34,404.95 78.52,404.35 78.70,403.75 78.88,403.15 79.06,402.55 79.23,401.95 79.41,401.35 79.54,400.75 79.58,400.15 79.57,399.55 79.54,398.95 79.51,398.35 79.48,397.75 79.45,397.15 79.40,396.55 79.31,395.95 79.20,395.35 79.08,394.75 78.96,394.15 78.84,393.55 78.72,392.95 78.60,392.35 78.48,391.75 78.36,391.15 78.24,390.55 78.12,389.95 78.00,389.35 77.88,388.75 77.73,388.15 77.51,387.55 77.25,386.95 76.98,386.35 76.73,385.75 76.50,385.15 76.30,384.55 76.11,383.95 75.93,383.35 75.78,382.75 75.65,382.15 75.54,381.55 75.44,380.95 75.37,380.35 75.31,379.75 75.27,379.15 75.25,378.55 75.24,377.95 75.24,377.35 75.24,376.75 75.24,376.15 75.23,375.55 75.23,374.95 75.23,374.35 75.23,373.75 75.23,373.15 75.23,372.55 75.23,371.95 75.23,371.35 75.23,370.75 75.22,370.15 75.22,369.55 75.22,368.95 75.22,368.35 75.22,367.85 75.22,368.35 75.22,368.95 75.22,369.55 75.22,370.15 75.21,370.75 75.21,371.35 75.21,371.95 75.21,372.55 75.21,373.15 75.21,373.75 75.21,374.35 75.21,374.95 75.21,375.55 75.20,376.15 75.20,376.75 75.20,377.35 75.20,377.95 75.19,378.55 75.17,379.15 75.13,379.75 75.07,380.35 75.00,380.95 74.90,381.55 74.79,382.15 74.66,382.75 74.51,383.35 74.33,383.95 74.14,384.55 73.94,385.15 73.71,385.75 73.46,386.35 73.19,386.95 72.93,387.55 72.71,388.15 72.56,388.75 72.44,389.35 72.32,389.95 72.20,390.55 72.08,391.15 71.96,391.75 71.84,392.35 71.72,392.95 71.60,393.55 71.48,394.15 71.36,394.75 71.24,395.35 71.13,395.95 71.04,396.55 70.99,397.15 70.96,397.75 70.93,398.35 70.90,398.95 70.87,399.55 70.86,400.15 70.90,400.75 71.03,401.35 71.21,401.95 71.38,402.55 71.56,403.15 71.74,403.75 71.92,404.35 72.10,404.95 72.27,405.55 72.45,406.15 72.62,406.75 72.75,407.35 72.83,407.95 72.90,408.55 72.97,409.15 73.04,409.75 73.11,410.35 73.17,410.95 72.93,411.55 72.35,412.15 71.78,412.75 71.20,413.35 70.58,413.95 69.73,414.55 68.87,415.15 68.02,415.75Z" fill="#c41f7a" stroke="#231f20" stroke-width="0.7" stroke-linejoin="round"/>
<path d="M100.84,343.50 100.26,342.90 99.67,342.30 99.09,341.70 98.51,341.10 97.93,340.50 97.35,339.90 96.78,339.30 96.21,338.70 95.65,338.10 95.08,337.50 94.54,336.90 94.22,336.30 94.22,335.70 94.28,335.10 94.34,334.50 94.40,333.90 94.46,333.30 94.52,332.70 94.59,332.10 94.71,331.50 94.94,330.90 95.22,330.30 95.50,329.70 95.79,329.10 96.08,328.50 96.37,327.90 96.66,327.30 96.93,326.70 97.17,326.10 97.37,325.50 97.57,324.90 97.77,324.30 97.97,323.70 98.17,323.10 98.37,322.50 98.57,321.90 98.77,321.30 98.91,320.70 98.92,320.10 98.81,319.50 98.67,318.90 98.54,318.30 98.40,317.70 98.26,317.10 98.13,316.50 97.99,315.90 97.85,315.30 97.71,314.70 97.58,314.10 97.45,313.50 97.34,312.90 97.25,312.30 97.15,311.70 97.05,311.10 96.96,310.50 96.86,309.90 96.76,309.30 96.67,308.70 96.57,308.10 96.47,307.50 96.38,306.90 96.28,306.30 96.18,305.70 96.08,305.10 95.97,304.50 95.84,303.90 95.71,303.30 95.58,302.70 95.45,302.10 95.32,301.50 95.19,300.90 95.05,300.30 94.92,299.70 94.79,299.10 94.66,298.50 94.52,297.90 94.37,297.30 94.20,296.70 94.03,296.10 93.89,295.50 93.77,294.90 93.67,294.30 93.59,293.70 93.53,293.10 93.49,292.50 93.47,291.90 93.46,291.30 93.46,290.70 93.45,290.10 93.45,289.50 93.45,288.90 93.44,288.30 93.44,287.70 93.44,287.50 93.44,287.70 93.44,288.30 93.43,288.90 93.43,289.50 93.43,290.10 93.42,290.70 93.42,291.30 93.41,291.90 93.39,292.50 93.35,293.10 93.29,293.70 93.21,294.30 93.11,294.90 92.99,295.50 92.85,296.10 92.68,296.70 92.51,297.30 92.36,297.90 92.22,298.50 92.09,299.10 91.96,299.70 91.83,300.30 91.69,300.90 91.56,301.50 91.43,302.10 91.30,302.70 91.17,303.30 91.04,303.90 90.91,304.50 90.80,305.10 90.70,305.70 90.60,306.30 90.50,306.90 90.41,307.50 90.31,308.10 90.21,308.70 90.12,309.30 90.02,309.90 89.92,310.50 89.83,311.10 89.73,311.70 89.63,312.30 89.54,312.90 89.43,313.50 89.30,314.10 89.17,314.70 89.03,315.30 88.89,315.90 88.75,316.50 88.62,317.10 88.48,317.70 88.34,318.30 88.21,318.90 88.07,319.50 87.96,320.10 87.97,320.70 88.11,321.30 88.31,321.90 88.51,322.50 88.71,323.10 88.91,323.70 89.11,324.30 89.31,324.90 89.51,325.50 89.71,326.10 89.95,326.70 90.22,327.30 90.51,327.90 90.80,328.50 91.09,329.10 91.38,329.70 91.66,330.30 91.94,330.90 92.17,331.50 92.29,332.10 92.36,332.70 92.42,333.30 92.48,333.90 92.54,334.50 92.60,335.10 92.66,335.70 92.66,336.30 92.34,336.90 91.80,337.50 91.23,338.10 90.67,338.70 90.10,339.30 89.53,339.90 88.95,340.50 88.37,341.10 87.79,341.70 87.21,342.30 86.62,342.90 86.04,343.50Z" fill="#e89c98" stroke="#231f20" stroke-width="0.7" stroke-linejoin="round"/>
<path d="M100.64,415.75 100.21,415.15 99.79,414.55 99.36,413.95 98.93,413.35 98.51,412.75 98.08,412.15 97.65,411.55 97.20,410.95 96.71,410.35 96.23,409.75 95.74,409.15 95.25,408.55 94.77,407.95 94.33,407.35 94.10,406.75 94.07,406.15 94.10,405.55 94.12,404.95 94.14,404.35 94.16,403.75 94.19,403.15 94.21,402.55 94.25,401.95 94.34,401.35 94.47,400.75 94.60,400.15 94.74,399.55 94.87,398.95 95.01,398.35 95.15,397.75 95.28,397.15 95.40,396.55 95.49,395.95 95.55,395.35 95.61,394.75 95.67,394.15 95.73,393.55 95.79,392.95 95.86,392.35 95.92,391.75 95.98,391.15 96.04,390.55 96.10,389.95 96.13,389.35 96.09,388.75 95.98,388.15 95.84,387.55 95.69,386.95 95.55,386.35 95.41,385.75 95.27,385.15 95.13,384.55 94.98,383.95 94.81,383.35 94.63,382.75 94.46,382.15 94.31,381.55 94.16,380.95 94.03,380.35 93.92,379.75 93.81,379.15 93.72,378.55 93.65,377.95 93.58,377.35 93.54,376.75 93.50,376.15 93.48,375.55 93.46,374.95 93.46,374.35 93.46,373.75 93.46,373.15 93.46,372.55 93.46,371.95 93.45,371.35 93.45,370.75 93.45,370.15 93.45,369.55 93.45,368.95 93.45,368.35 93.45,367.75 93.45,367.15 93.45,366.55 93.45,365.95 93.45,365.35 93.44,364.75 93.44,364.15 93.44,363.55 93.44,362.95 93.44,362.35 93.44,361.75 93.44,361.55 93.44,361.75 93.44,362.35 93.44,362.95 93.44,363.55 93.44,364.15 93.44,364.75 93.43,365.35 93.43,365.95 93.43,366.55 93.43,367.15 93.43,367.75 93.43,368.35 93.43,368.95 93.43,369.55 93.43,370.15 93.43,370.75 93.43,371.35 93.42,371.95 93.42,372.55 93.42,373.15 93.42,373.75 93.42,374.35 93.42,374.95 93.40,375.55 93.38,376.15 93.34,376.75 93.30,377.35 93.23,377.95 93.16,378.55 93.07,379.15 92.96,379.75 92.85,380.35 92.72,380.95 92.57,381.55 92.42,382.15 92.25,382.75 92.07,383.35 91.90,383.95 91.75,384.55 91.61,385.15 91.47,385.75 91.33,386.35 91.19,386.95 91.04,387.55 90.90,388.15 90.79,388.75 90.75,389.35 90.78,389.95 90.84,390.55 90.90,391.15 90.96,391.75 91.02,392.35 91.09,392.95 91.15,393.55 91.21,394.15 91.27,394.75 91.33,395.35 91.39,395.95 91.48,396.55 91.60,397.15 91.73,397.75 91.87,398.35 92.01,398.95 92.14,399.55 92.28,400.15 92.41,400.75 92.54,401.35 92.63,401.95 92.67,402.55 92.69,403.15 92.72,403.75 92.74,404.35 92.76,404.95 92.78,405.55 92.81,406.15 92.78,406.75 92.55,407.35 92.11,407.95 91.63,408.55 91.14,409.15 90.65,409.75 90.17,410.35 89.68,410.95 89.23,411.55 88.80,412.15 88.37,412.75 87.95,413.35 87.52,413.95 87.09,414.55 86.67,415.15 86.24,415.75Z" fill="#e89c98" stroke="#231f20" stroke-width="0.7" stroke-linejoin="round"/>
<path d="M118.76,343.50 118.10,342.90 117.43,342.30 116.77,341.70 116.10,341.10 115.46,340.50 114.86,339.90 114.26,339.30 113.66,338.70 113.07,338.10 112.55,337.50 112.71,336.90 112.94,336.30 113.18,335.70 113.42,335.10 113.66,334.50 113.91,333.90 114.18,333.30 114.49,332.70 114.81,332.10 115.13,331.50 115.45,330.90 115.77,330.30 116.09,329.70 116.41,329.10 116.73,328.50 117.03,327.90 117.26,327.30 117.42,326.70 117.55,326.10 117.67,325.50 117.79,324.90 117.92,324.30 118.04,323.70 118.16,323.10 118.28,322.50 118.41,321.90 118.53,321.30 118.65,320.70 118.78,320.10 118.87,319.50 118.87,318.90 118.78,318.30 118.66,317.70 118.53,317.10 118.41,316.50 118.29,315.90 118.17,315.30 118.05,314.70 117.93,314.10 117.80,313.50 117.68,312.90 117.56,312.30 117.40,311.70 117.21,311.10 116.99,310.50 116.77,309.90 116.56,309.30 116.34,308.70 116.12,308.10 115.91,307.50 115.69,306.90 115.47,306.30 115.26,305.70 115.04,305.10 114.82,304.50 114.61,303.90 114.41,303.30 114.23,302.70 114.05,302.10 113.88,301.50 113.70,300.90 113.53,300.30 113.35,299.70 113.18,299.10 113.00,298.50 112.79,297.90 112.56,297.30 112.34,296.70 112.14,296.10 111.98,295.50 111.86,294.90 111.77,294.30 111.71,293.70 111.69,293.10 111.68,292.50 111.67,291.90 111.67,291.30 111.67,290.70 111.66,290.10 111.66,289.60 111.66,290.10 111.65,290.70 111.65,291.30 111.65,291.90 111.64,292.50 111.63,293.10 111.61,293.70 111.55,294.30 111.46,294.90 111.34,295.50 111.18,296.10 110.98,296.70 110.76,297.30 110.53,297.90 110.32,298.50 110.14,299.10 109.97,299.70 109.79,300.30 109.62,300.90 109.44,301.50 109.27,302.10 109.09,302.70 108.91,303.30 108.71,303.90 108.50,304.50 108.28,305.10 108.06,305.70 107.85,306.30 107.63,306.90 107.41,307.50 107.20,308.10 106.98,308.70 106.76,309.30 106.55,309.90 106.33,310.50 106.11,311.10 105.92,311.70 105.76,312.30 105.64,312.90 105.52,313.50 105.39,314.10 105.27,314.70 105.15,315.30 105.03,315.90 104.91,316.50 104.79,317.10 104.66,317.70 104.54,318.30 104.45,318.90 104.45,319.50 104.54,320.10 104.67,320.70 104.79,321.30 104.91,321.90 105.04,322.50 105.16,323.10 105.28,323.70 105.40,324.30 105.53,324.90 105.65,325.50 105.77,326.10 105.90,326.70 106.06,327.30 106.29,327.90 106.59,328.50 106.91,329.10 107.23,329.70 107.55,330.30 107.87,330.90 108.19,331.50 108.51,332.10 108.83,332.70 109.14,333.30 109.41,333.90 109.66,334.50 109.90,335.10 110.14,335.70 110.38,336.30 110.61,336.90 110.77,337.50 110.25,338.10 109.66,338.70 109.06,339.30 108.46,339.90 107.86,340.50 107.22,341.10 106.55,341.70 105.89,342.30 105.22,342.90 104.56,343.50Z" fill="#c4a6d8" stroke="#231f20" stroke-width="0.7" stroke-linejoin="round"/>
<path d="M118.86,415.75 118.23,415.15 117.61,414.55 116.98,413.95 116.35,413.35 115.73,412.75 115.10,412.15 114.47,411.55 114.01,410.95 113.68,410.35 113.36,409.75 113.04,409.15 112.75,408.55 112.61,407.95 112.84,407.35 113.14,406.75 113.46,406.15 113.77,405.55 114.08,404.95 114.39,404.35 114.66,403.75 114.86,403.15 115.05,402.55 115.22,401.95 115.40,401.35 115.58,400.75 115.76,400.15 115.94,399.55 116.11,398.95 116.29,398.35 116.44,397.75 116.51,397.15 116.48,396.55 116.44,395.95 116.38,395.35 116.33,394.75 116.28,394.15 116.23,393.55 116.19,392.95 116.13,392.35 116.08,391.75 116.03,391.15 115.98,390.55 115.94,389.95 115.88,389.35 115.79,388.75 115.67,388.15 115.54,387.55 115.42,386.95 115.29,386.35 115.17,385.75 115.04,385.15 114.91,384.55 114.79,383.95 114.66,383.35 114.53,382.75 114.41,382.15 114.28,381.55 114.15,380.95 114.03,380.35 113.88,379.75 113.68,379.15 113.44,378.55 113.20,377.95 112.98,377.35 112.78,376.75 112.60,376.15 112.43,375.55 112.28,374.95 112.15,374.35 112.03,373.75 111.93,373.15 111.85,372.55 111.78,371.95 111.74,371.35 111.71,370.75 111.69,370.15 111.68,369.55 111.68,368.95 111.68,368.35 111.67,367.75 111.67,367.15 111.67,366.55 111.67,365.95 111.67,365.35 111.67,364.75 111.66,364.15 111.66,363.55 111.66,362.95 111.66,362.55 111.66,362.95 111.66,363.55 111.66,364.15 111.65,364.75 111.65,365.35 111.65,365.95 111.65,366.55 111.65,367.15 111.65,367.75 111.64,368.35 111.64,368.95 111.64,369.55 111.63,370.15 111.61,370.75 111.58,371.35 111.54,371.95 111.47,372.55 111.39,373.15 111.29,373.75 111.17,374.35 111.04,374.95 110.89,375.55 110.72,376.15 110.54,376.75 110.34,377.35 110.12,377.95 109.88,378.55 109.64,379.15 109.44,379.75 109.29,380.35 109.17,380.95 109.04,381.55 108.91,382.15 108.79,382.75 108.66,383.35 108.53,383.95 108.41,384.55 108.28,385.15 108.15,385.75 108.03,386.35 107.90,386.95 107.78,387.55 107.65,388.15 107.53,388.75 107.44,389.35 107.38,389.95 107.33,390.55 107.28,391.15 107.23,391.75 107.19,392.35 107.13,392.95 107.08,393.55 107.03,394.15 106.98,394.75 106.94,395.35 106.88,395.95 106.83,396.55 106.81,397.15 106.88,397.75 107.03,398.35 107.21,398.95 107.38,399.55 107.56,400.15 107.74,400.75 107.92,401.35 108.10,401.95 108.27,402.55 108.46,403.15 108.66,403.75 108.93,404.35 109.24,404.95 109.55,405.55 109.86,406.15 110.18,406.75 110.48,407.35 110.71,407.95 110.57,408.55 110.28,409.15 109.96,409.75 109.64,410.35 109.31,410.95 108.85,411.55 108.22,412.15 107.59,412.75 106.97,413.35 106.34,413.95 105.71,414.55 105.09,415.15 104.46,415.75Z" fill="#c4a6d8" stroke="#231f20" stroke-width="0.7" stroke-linejoin="round"/>
<path d="M135.08,343.50 134.59,342.90 134.11,342.30 133.62,341.70 133.31,341.10 133.17,340.50 133.02,339.90 132.89,339.30 133.30,338.70 133.72,338.10 134.14,337.50 134.55,336.90 134.97,336.30 135.39,335.70 135.76,335.10 135.98,334.50 136.12,333.90 136.26,333.30 136.39,332.70 136.52,332.10 136.66,331.50 136.79,330.90 136.92,330.30 137.06,329.70 137.16,329.10 137.16,328.50 137.04,327.90 136.86,327.30 136.69,326.70 136.51,326.10 136.33,325.50 136.15,324.90 135.97,324.30 135.80,323.70 135.62,323.10 135.42,322.50 135.18,321.90 134.90,321.30 134.62,320.70 134.33,320.10 134.05,319.50 133.76,318.90 133.48,318.30 133.19,317.70 132.90,317.10 132.62,316.50 132.33,315.90 132.04,315.30 131.76,314.70 131.50,314.10 131.25,313.50 131.03,312.90 130.83,312.30 130.65,311.70 130.49,311.10 130.35,310.50 130.22,309.90 130.12,309.30 130.04,308.70 129.98,308.10 129.94,307.50 129.91,306.90 129.90,306.30 129.90,305.70 129.90,305.10 129.90,304.50 129.90,303.90 129.89,303.30 129.89,302.70 129.89,302.10 129.89,301.50 129.89,300.90 129.89,300.30 129.89,299.70 129.89,299.10 129.89,298.50 129.89,297.90 129.88,297.30 129.88,296.70 129.88,296.10 129.88,295.50 129.88,294.90 129.88,294.30 129.88,294.30 129.88,294.30 129.88,294.90 129.88,295.50 129.88,296.10 129.88,296.70 129.88,297.30 129.87,297.90 129.87,298.50 129.87,299.10 129.87,299.70 129.87,300.30 129.87,300.90 129.87,301.50 129.87,302.10 129.87,302.70 129.87,303.30 129.86,303.90 129.86,304.50 129.86,305.10 129.86,305.70 129.86,306.30 129.85,306.90 129.82,307.50 129.78,308.10 129.72,308.70 129.64,309.30 129.54,309.90 129.41,310.50 129.27,311.10 129.11,311.70 128.93,312.30 128.73,312.90 128.51,313.50 128.26,314.10 128.00,314.70 127.72,315.30 127.43,315.90 127.14,316.50 126.86,317.10 126.57,317.70 126.28,318.30 126.00,318.90 125.71,319.50 125.43,320.10 125.14,320.70 124.86,321.30 124.58,321.90 124.34,322.50 124.14,323.10 123.96,323.70 123.79,324.30 123.61,324.90 123.43,325.50 123.25,326.10 123.07,326.70 122.90,327.30 122.72,327.90 122.60,328.50 122.60,329.10 122.70,329.70 122.84,330.30 122.97,330.90 123.10,331.50 123.24,332.10 123.37,332.70 123.50,333.30 123.64,333.90 123.78,334.50 124.00,335.10 124.37,335.70 124.79,336.30 125.21,336.90 125.62,337.50 126.04,338.10 126.46,338.70 126.87,339.30 126.74,339.90 126.59,340.50 126.45,341.10 126.14,341.70 125.65,342.30 125.17,342.90 124.68,343.50Z" fill="#73308f" stroke="#231f20" stroke-width="0.7" stroke-linejoin="round"/>
<path d="M136.98,415.75 135.70,415.15 134.43,414.55 133.16,413.95 131.88,413.35 131.74,412.75 131.59,412.15 131.45,411.55 131.68,410.95 132.23,410.35 132.80,409.75 133.37,409.15 133.93,408.55 134.45,407.95 134.70,407.35 134.57,406.75 134.35,406.15 134.13,405.55 133.91,404.95 133.68,404.35 133.45,403.75 133.24,403.15 133.05,402.55 132.90,401.95 132.77,401.35 132.64,400.75 132.50,400.15 132.37,399.55 132.24,398.95 132.10,398.35 131.97,397.75 131.83,397.15 131.68,396.55 131.51,395.95 131.31,395.35 131.13,394.75 130.96,394.15 130.80,393.55 130.65,392.95 130.52,392.35 130.40,391.75 130.29,391.15 130.20,390.55 130.12,389.95 130.05,389.35 130.00,388.75 129.95,388.15 129.93,387.55 129.91,386.95 129.90,386.35 129.90,385.75 129.90,385.15 129.90,384.55 129.90,383.95 129.89,383.35 129.89,382.75 129.89,382.15 129.89,381.55 129.89,380.95 129.89,380.35 129.89,379.75 129.89,379.15 129.89,378.55 129.88,377.95 129.88,377.35 129.88,376.75 129.88,376.15 129.88,375.85 129.88,376.15 129.88,376.75 129.88,377.35 129.88,377.95 129.87,378.55 129.87,379.15 129.87,379.75 129.87,380.35 129.87,380.95 129.87,381.55 129.87,382.15 129.87,382.75 129.87,383.35 129.86,383.95 129.86,384.55 129.86,385.15 129.86,385.75 129.86,386.35 129.85,386.95 129.83,387.55 129.81,388.15 129.76,388.75 129.71,389.35 129.64,389.95 129.56,390.55 129.47,391.15 129.36,391.75 129.24,392.35 129.11,392.95 128.96,393.55 128.80,394.15 128.63,394.75 128.45,395.35 128.25,395.95 128.08,396.55 127.93,397.15 127.79,397.75 127.66,398.35 127.52,398.95 127.39,399.55 127.26,400.15 127.12,400.75 126.99,401.35 126.86,401.95 126.71,402.55 126.52,403.15 126.30,403.75 126.08,404.35 125.85,404.95 125.63,405.55 125.41,406.15 125.19,406.75 125.06,407.35 125.31,407.95 125.83,408.55 126.39,409.15 126.96,409.75 127.53,410.35 128.08,410.95 128.31,411.55 128.17,412.15 128.02,412.75 127.88,413.35 126.60,413.95 125.33,414.55 124.05,415.15 122.78,415.75Z" fill="#73308f" stroke="#231f20" stroke-width="0.7" stroke-linejoin="round"/>
<path d="M155.20,343.50 154.53,342.90 153.85,342.30 153.17,341.70 152.50,341.10 151.82,340.50 151.20,339.90 150.60,339.30 150.00,338.70 149.40,338.10 148.86,337.50 148.87,336.90 149.03,336.30 149.20,335.70 149.38,335.10 149.56,334.50 149.74,333.90 149.92,333.30 150.10,332.70 150.27,332.10 150.45,331.50 150.64,330.90 150.83,330.30 151.03,329.70 151.23,329.10 151.43,328.50 151.63,327.90 151.83,327.30 152.03,326.70 152.23,326.10 152.43,325.50 152.59,324.90 152.64,324.30 152.61,323.70 152.55,323.10 152.49,322.50 152.44,321.90 152.38,321.30 152.32,320.70 152.27,320.10 152.21,319.50 152.15,318.90 152.08,318.30 151.97,317.70 151.85,317.10 151.73,316.50 151.60,315.90 151.48,315.30 151.35,314.70 151.23,314.10 151.10,313.50 150.98,312.90 150.85,312.30 150.73,311.70 150.61,311.10 150.48,310.50 150.36,309.90 150.23,309.30 150.11,308.70 149.99,308.10 149.88,307.50 149.80,306.90 149.72,306.30 149.64,305.70 149.56,305.10 149.49,304.50 149.41,303.90 149.33,303.30 149.25,302.70 149.17,302.10 149.06,301.50 148.91,300.90 148.74,300.30 148.59,299.70 148.46,299.10 148.35,298.50 148.26,297.90 148.20,297.30 148.15,296.70 148.13,296.10 148.12,295.50 148.12,294.90 148.11,294.30 148.11,293.70 148.11,293.10 148.10,292.50 148.10,291.90 148.10,292.50 148.09,293.10 148.09,293.70 148.09,294.30 148.08,294.90 148.08,295.50 148.07,296.10 148.05,296.70 148.00,297.30 147.94,297.90 147.85,298.50 147.74,299.10 147.61,299.70 147.46,300.30 147.29,300.90 147.14,301.50 147.03,302.10 146.95,302.70 146.87,303.30 146.79,303.90 146.71,304.50 146.64,305.10 146.56,305.70 146.48,306.30 146.40,306.90 146.32,307.50 146.21,308.10 146.09,308.70 145.97,309.30 145.84,309.90 145.72,310.50 145.59,311.10 145.47,311.70 145.35,312.30 145.22,312.90 145.10,313.50 144.97,314.10 144.85,314.70 144.72,315.30 144.60,315.90 144.47,316.50 144.35,317.10 144.23,317.70 144.12,318.30 144.05,318.90 143.99,319.50 143.93,320.10 143.88,320.70 143.82,321.30 143.76,321.90 143.71,322.50 143.65,323.10 143.59,323.70 143.56,324.30 143.61,324.90 143.77,325.50 143.97,326.10 144.17,326.70 144.37,327.30 144.57,327.90 144.77,328.50 144.97,329.10 145.17,329.70 145.37,330.30 145.56,330.90 145.75,331.50 145.93,332.10 146.10,332.70 146.28,333.30 146.46,333.90 146.64,334.50 146.82,335.10 147.00,335.70 147.17,336.30 147.33,336.90 147.34,337.50 146.80,338.10 146.20,338.70 145.60,339.30 145.00,339.90 144.38,340.50 143.70,341.10 143.03,341.70 142.35,342.30 141.67,342.90 141.00,343.50Z" fill="#2e1a7a" stroke="#231f20" stroke-width="0.7" stroke-linejoin="round"/>
<path d="M155.30,415.75 154.80,415.15 154.29,414.55 153.79,413.95 153.29,413.35 152.78,412.75 152.28,412.15 151.78,411.55 151.27,410.95 150.78,410.35 150.39,409.75 150.05,409.15 149.72,408.55 149.39,407.95 149.10,407.35 148.97,406.75 149.00,406.15 149.06,405.55 149.13,404.95 149.20,404.35 149.26,403.75 149.33,403.15 149.39,402.55 149.46,401.95 149.52,401.35 149.60,400.75 149.69,400.15 149.79,399.55 149.90,398.95 150.00,398.35 150.11,397.75 150.21,397.15 150.32,396.55 150.42,395.95 150.53,395.35 150.61,394.75 150.64,394.15 150.59,393.55 150.52,392.95 150.44,392.35 150.36,391.75 150.29,391.15 150.21,390.55 150.13,389.95 150.05,389.35 149.98,388.75 149.90,388.15 149.82,387.55 149.74,386.95 149.66,386.35 149.53,385.75 149.36,385.15 149.17,384.55 148.99,383.95 148.83,383.35 148.69,382.75 148.56,382.15 148.45,381.55 148.35,380.95 148.27,380.35 148.21,379.75 148.17,379.15 148.14,378.55 148.13,377.95 148.12,377.35 148.12,376.75 148.12,376.15 148.11,375.55 148.11,374.95 148.11,374.35 148.11,373.75 148.11,373.15 148.11,372.55 148.11,371.95 148.11,371.35 148.10,370.75 148.10,370.15 148.10,369.55 148.10,368.95 148.10,369.55 148.10,370.15 148.10,370.75 148.09,371.35 148.09,371.95 148.09,372.55 148.09,373.15 148.09,373.75 148.09,374.35 148.09,374.95 148.09,375.55 148.08,376.15 148.08,376.75 148.08,377.35 148.07,377.95 148.06,378.55 148.03,379.15 147.99,379.75 147.93,380.35 147.85,380.95 147.75,381.55 147.64,382.15 147.51,382.75 147.37,383.35 147.21,383.95 147.03,384.55 146.84,385.15 146.67,385.75 146.54,386.35 146.46,386.95 146.38,387.55 146.30,388.15 146.22,388.75 146.15,389.35 146.07,389.95 145.99,390.55 145.91,391.15 145.84,391.75 145.76,392.35 145.68,392.95 145.61,393.55 145.56,394.15 145.59,394.75 145.67,395.35 145.78,395.95 145.88,396.55 145.99,397.15 146.09,397.75 146.20,398.35 146.30,398.95 146.41,399.55 146.51,400.15 146.60,400.75 146.68,401.35 146.74,401.95 146.81,402.55 146.87,403.15 146.94,403.75 147.00,404.35 147.07,404.95 147.14,405.55 147.20,406.15 147.23,406.75 147.10,407.35 146.81,407.95 146.48,408.55 146.15,409.15 145.81,409.75 145.42,410.35 144.93,410.95 144.42,411.55 143.92,412.15 143.42,412.75 142.91,413.35 142.41,413.95 141.91,414.55 141.40,415.15 140.90,415.75Z" fill="#2e1a7a" stroke="#231f20" stroke-width="0.7" stroke-linejoin="round"/>
<path d="M173.42,343.50 172.68,342.90 171.93,342.30 171.19,341.70 170.54,341.10 169.98,340.50 169.41,339.90 168.85,339.30 168.29,338.70 167.83,338.10 167.69,337.50 167.57,336.90 167.46,336.30 167.40,335.70 167.55,335.10 167.78,334.50 168.03,333.90 168.28,333.30 168.53,332.70 168.78,332.10 169.03,331.50 169.26,330.90 169.48,330.30 169.67,329.70 169.86,329.10 170.05,328.50 170.24,327.90 170.43,327.30 170.62,326.70 170.81,326.10 171.00,325.50 171.16,324.90 171.22,324.30 171.15,323.70 171.03,323.10 170.90,322.50 170.77,321.90 170.65,321.30 170.52,320.70 170.40,320.10 170.27,319.50 170.15,318.90 170.02,318.30 169.91,317.70 169.79,317.10 169.68,316.50 169.56,315.90 169.45,315.30 169.33,314.70 169.22,314.10 169.11,313.50 168.99,312.90 168.88,312.30 168.76,311.70 168.65,311.10 168.54,310.50 168.43,309.90 168.33,309.30 168.24,308.70 168.15,308.10 168.06,307.50 167.97,306.90 167.88,306.30 167.80,305.70 167.71,305.10 167.62,304.50 167.53,303.90 167.44,303.30 167.33,302.70 167.18,302.10 167.01,301.50 166.86,300.90 166.72,300.30 166.60,299.70 166.51,299.10 166.44,298.50 166.38,297.90 166.36,297.30 166.34,296.70 166.34,296.10 166.33,295.50 166.33,294.90 166.33,294.30 166.32,293.70 166.32,293.10 166.32,292.90 166.32,293.10 166.32,293.70 166.31,294.30 166.31,294.90 166.31,295.50 166.30,296.10 166.30,296.70 166.28,297.30 166.26,297.90 166.20,298.50 166.13,299.10 166.04,299.70 165.92,300.30 165.78,300.90 165.63,301.50 165.46,302.10 165.31,302.70 165.20,303.30 165.11,303.90 165.02,304.50 164.93,305.10 164.84,305.70 164.76,306.30 164.67,306.90 164.58,307.50 164.49,308.10 164.40,308.70 164.31,309.30 164.21,309.90 164.10,310.50 163.99,311.10 163.88,311.70 163.76,312.30 163.65,312.90 163.53,313.50 163.42,314.10 163.31,314.70 163.19,315.30 163.08,315.90 162.96,316.50 162.85,317.10 162.73,317.70 162.62,318.30 162.49,318.90 162.37,319.50 162.24,320.10 162.12,320.70 161.99,321.30 161.87,321.90 161.74,322.50 161.61,323.10 161.49,323.70 161.42,324.30 161.48,324.90 161.64,325.50 161.83,326.10 162.02,326.70 162.21,327.30 162.40,327.90 162.59,328.50 162.78,329.10 162.97,329.70 163.16,330.30 163.38,330.90 163.61,331.50 163.86,332.10 164.11,332.70 164.36,333.30 164.61,333.90 164.86,334.50 165.09,335.10 165.24,335.70 165.18,336.30 165.07,336.90 164.95,337.50 164.81,338.10 164.35,338.70 163.79,339.30 163.23,339.90 162.66,340.50 162.10,341.10 161.45,341.70 160.71,342.30 159.96,342.90 159.22,343.50Z" fill="#e6df3a" stroke="#231f20" stroke-width="0.7" stroke-linejoin="round"/>
<path d="M173.52,415.75 173.02,415.15 172.51,414.55 172.01,413.95 171.51,413.35 171.00,412.75 170.50,412.15 170.00,411.55 169.49,410.95 168.99,410.35 168.59,409.75 168.24,409.15 167.89,408.55 167.54,407.95 167.24,407.35 167.13,406.75 167.21,406.15 167.33,405.55 167.46,404.95 167.58,404.35 167.70,403.75 167.83,403.15 167.95,402.55 168.07,401.95 168.16,401.35 168.23,400.75 168.29,400.15 168.36,399.55 168.42,398.95 168.49,398.35 168.55,397.75 168.62,397.15 168.68,396.55 168.75,395.95 168.81,395.35 168.86,394.75 168.87,394.15 168.81,393.55 168.74,392.95 168.66,392.35 168.58,391.75 168.51,391.15 168.43,390.55 168.35,389.95 168.27,389.35 168.20,388.75 168.12,388.15 168.04,387.55 167.96,386.95 167.88,386.35 167.78,385.75 167.67,385.15 167.54,384.55 167.41,383.95 167.30,383.35 167.19,382.75 167.09,382.15 166.99,381.55 166.90,380.95 166.82,380.35 166.74,379.75 166.67,379.15 166.61,378.55 166.55,377.95 166.51,377.35 166.46,376.75 166.43,376.15 166.40,375.55 166.37,374.95 166.36,374.35 166.35,373.75 166.34,373.15 166.34,372.55 166.34,371.95 166.34,371.35 166.34,370.75 166.34,370.15 166.34,369.55 166.33,368.95 166.33,368.35 166.33,367.75 166.33,367.15 166.33,366.55 166.33,365.95 166.33,365.35 166.33,364.75 166.33,364.15 166.33,363.55 166.33,362.95 166.33,362.35 166.32,361.75 166.32,361.15 166.32,360.55 166.32,359.95 166.32,359.35 166.32,358.75 166.32,358.35 166.32,358.75 166.32,359.35 166.32,359.95 166.32,360.55 166.32,361.15 166.32,361.75 166.31,362.35 166.31,362.95 166.31,363.55 166.31,364.15 166.31,364.75 166.31,365.35 166.31,365.95 166.31,366.55 166.31,367.15 166.31,367.75 166.31,368.35 166.31,368.95 166.30,369.55 166.30,370.15 166.30,370.75 166.30,371.35 166.30,371.95 166.30,372.55 166.30,373.15 166.29,373.75 166.28,374.35 166.27,374.95 166.24,375.55 166.21,376.15 166.18,376.75 166.13,377.35 166.09,377.95 166.03,378.55 165.97,379.15 165.90,379.75 165.82,380.35 165.74,380.95 165.65,381.55 165.55,382.15 165.45,382.75 165.34,383.35 165.23,383.95 165.10,384.55 164.97,385.15 164.86,385.75 164.76,386.35 164.68,386.95 164.60,387.55 164.52,388.15 164.44,388.75 164.37,389.35 164.29,389.95 164.21,390.55 164.13,391.15 164.06,391.75 163.98,392.35 163.90,392.95 163.83,393.55 163.77,394.15 163.78,394.75 163.83,395.35 163.89,395.95 163.96,396.55 164.02,397.15 164.09,397.75 164.15,398.35 164.22,398.95 164.28,399.55 164.35,400.15 164.41,400.75 164.48,401.35 164.57,401.95 164.69,402.55 164.81,403.15 164.94,403.75 165.06,404.35 165.18,404.95 165.31,405.55 165.43,406.15 165.51,406.75 165.40,407.35 165.10,407.95 164.75,408.55 164.40,409.15 164.05,409.75 163.65,410.35 163.15,410.95 162.64,411.55 162.14,412.15 161.64,412.75 161.13,413.35 160.63,413.95 160.13,414.55 159.62,415.15 159.12,415.75Z" fill="#e6df3a" stroke="#231f20" stroke-width="0.7" stroke-linejoin="round"/>
<path d="M190.94,343.50 190.40,342.90 189.85,342.30 189.31,341.70 188.81,341.10 188.34,340.50 187.87,339.90 187.40,339.30 186.93,338.70 186.57,338.10 186.54,337.50 186.54,336.90 186.58,336.30 186.83,335.70 187.20,335.10 187.60,334.50 187.99,333.90 188.39,333.30 188.79,332.70 189.18,332.10 189.57,331.50 189.91,330.90 190.15,330.30 190.32,329.70 190.47,329.10 190.62,328.50 190.78,327.90 190.93,327.30 191.08,326.70 191.23,326.10 191.39,325.50 191.51,324.90 191.56,324.30 191.50,323.70 191.41,323.10 191.31,322.50 191.21,321.90 191.11,321.30 191.01,320.70 190.91,320.10 190.81,319.50 190.71,318.90 190.61,318.30 190.51,317.70 190.41,317.10 190.31,316.50 190.21,315.90 190.10,315.30 189.95,314.70 189.77,314.10 189.57,313.50 189.36,312.90 189.16,312.30 188.96,311.70 188.76,311.10 188.55,310.50 188.35,309.90 188.15,309.30 187.95,308.70 187.74,308.10 187.55,307.50 187.36,306.90 187.18,306.30 187.00,305.70 186.82,305.10 186.64,304.50 186.46,303.90 186.28,303.30 186.10,302.70 185.92,302.10 185.71,301.50 185.46,300.90 185.21,300.30 185.00,299.70 184.83,299.10 184.71,298.50 184.62,297.90 184.58,297.30 184.56,296.70 184.55,296.10 184.55,295.50 184.55,294.90 184.54,294.30 184.54,293.70 184.54,293.50 184.54,293.70 184.54,294.30 184.53,294.90 184.53,295.50 184.53,296.10 184.52,296.70 184.50,297.30 184.46,297.90 184.37,298.50 184.25,299.10 184.08,299.70 183.87,300.30 183.62,300.90 183.37,301.50 183.16,302.10 182.98,302.70 182.80,303.30 182.62,303.90 182.44,304.50 182.26,305.10 182.08,305.70 181.90,306.30 181.72,306.90 181.53,307.50 181.34,308.10 181.13,308.70 180.93,309.30 180.73,309.90 180.53,310.50 180.32,311.10 180.12,311.70 179.92,312.30 179.72,312.90 179.51,313.50 179.31,314.10 179.13,314.70 178.98,315.30 178.87,315.90 178.77,316.50 178.67,317.10 178.57,317.70 178.47,318.30 178.37,318.90 178.27,319.50 178.17,320.10 178.07,320.70 177.97,321.30 177.87,321.90 177.77,322.50 177.67,323.10 177.58,323.70 177.52,324.30 177.57,324.90 177.69,325.50 177.85,326.10 178.00,326.70 178.15,327.30 178.30,327.90 178.46,328.50 178.61,329.10 178.76,329.70 178.93,330.30 179.17,330.90 179.51,331.50 179.90,332.10 180.29,332.70 180.69,333.30 181.09,333.90 181.48,334.50 181.88,335.10 182.25,335.70 182.50,336.30 182.54,336.90 182.54,337.50 182.51,338.10 182.15,338.70 181.68,339.30 181.21,339.90 180.74,340.50 180.27,341.10 179.77,341.70 179.23,342.30 178.68,342.90 178.14,343.50Z" fill="#e57c17" stroke="#231f20" stroke-width="0.7" stroke-linejoin="round"/>
<path d="M191.44,415.75 190.84,415.15 190.24,414.55 189.64,413.95 189.04,413.35 188.44,412.75 187.91,412.15 187.54,411.55 187.16,410.95 186.79,410.35 186.42,409.75 186.13,409.15 186.33,408.55 186.60,407.95 186.88,407.35 187.16,406.75 187.43,406.15 187.66,405.55 187.86,404.95 188.05,404.35 188.25,403.75 188.44,403.15 188.63,402.55 188.82,401.95 189.01,401.35 189.14,400.75 189.15,400.15 189.08,399.55 189.00,398.95 188.91,398.35 188.83,397.75 188.74,397.15 188.65,396.55 188.57,395.95 188.48,395.35 188.39,394.75 188.29,394.15 188.17,393.55 188.04,392.95 187.92,392.35 187.79,391.75 187.66,391.15 187.54,390.55 187.41,389.95 187.28,389.35 187.15,388.75 187.03,388.15 186.90,387.55 186.77,386.95 186.64,386.35 186.49,385.75 186.31,385.15 186.13,384.55 185.95,383.95 185.78,383.35 185.63,382.75 185.48,382.15 185.35,381.55 185.22,380.95 185.11,380.35 185.01,379.75 184.92,379.15 184.83,378.55 184.76,377.95 184.70,377.35 184.66,376.75 184.62,376.15 184.59,375.55 184.57,374.95 184.56,374.35 184.56,373.75 184.56,373.15 184.56,372.55 184.56,371.95 184.56,371.35 184.56,370.75 184.56,370.15 184.55,369.55 184.55,368.95 184.55,368.35 184.55,367.75 184.55,367.15 184.55,366.55 184.55,365.95 184.55,365.35 184.55,364.75 184.55,364.15 184.55,363.55 184.55,362.95 184.55,362.35 184.55,361.75 184.54,361.15 184.54,360.55 184.54,359.95 184.54,359.35 184.54,358.75 184.54,358.15 184.54,357.55 184.54,357.25 184.54,357.55 184.54,358.15 184.54,358.75 184.54,359.35 184.54,359.95 184.54,360.55 184.54,361.15 184.53,361.75 184.53,362.35 184.53,362.95 184.53,363.55 184.53,364.15 184.53,364.75 184.53,365.35 184.53,365.95 184.53,366.55 184.53,367.15 184.53,367.75 184.53,368.35 184.53,368.95 184.53,369.55 184.52,370.15 184.52,370.75 184.52,371.35 184.52,371.95 184.52,372.55 184.52,373.15 184.52,373.75 184.52,374.35 184.51,374.95 184.49,375.55 184.46,376.15 184.42,376.75 184.38,377.35 184.32,377.95 184.25,378.55 184.16,379.15 184.07,379.75 183.97,380.35 183.86,380.95 183.73,381.55 183.60,382.15 183.45,382.75 183.30,383.35 183.13,383.95 182.95,384.55 182.77,385.15 182.59,385.75 182.44,386.35 182.31,386.95 182.18,387.55 182.05,388.15 181.93,388.75 181.80,389.35 181.67,389.95 181.54,390.55 181.42,391.15 181.29,391.75 181.16,392.35 181.04,392.95 180.91,393.55 180.79,394.15 180.69,394.75 180.60,395.35 180.51,395.95 180.43,396.55 180.34,397.15 180.25,397.75 180.17,398.35 180.08,398.95 180.00,399.55 179.93,400.15 179.94,400.75 180.07,401.35 180.26,401.95 180.45,402.55 180.64,403.15 180.83,403.75 181.03,404.35 181.22,404.95 181.42,405.55 181.65,406.15 181.92,406.75 182.20,407.35 182.48,407.95 182.75,408.55 182.95,409.15 182.66,409.75 182.29,410.35 181.91,410.95 181.54,411.55 181.16,412.15 180.64,412.75 180.04,413.35 179.44,413.95 178.84,414.55 178.24,415.15 177.64,415.75Z" fill="#e57c17" stroke="#231f20" stroke-width="0.7" stroke-linejoin="round"/>
<path d="M210.06,343.50 209.45,342.90 208.83,342.30 208.22,341.70 207.60,341.10 206.99,340.50 206.37,339.90 205.76,339.30 205.35,338.70 204.94,338.10 204.52,337.50 204.11,336.90 203.75,336.30 203.66,335.70 203.73,335.10 203.83,334.50 203.93,333.90 204.03,333.30 204.13,332.70 204.25,332.10 204.44,331.50 204.67,330.90 204.91,330.30 205.15,329.70 205.40,329.10 205.64,328.50 205.88,327.90 206.13,327.30 206.37,326.70 206.61,326.10 206.77,325.50 206.82,324.90 206.79,324.30 206.76,323.70 206.72,323.10 206.69,322.50 206.66,321.90 206.62,321.30 206.58,320.70 206.53,320.10 206.44,319.50 206.34,318.90 206.23,318.30 206.13,317.70 206.03,317.10 205.93,316.50 205.82,315.90 205.72,315.30 205.62,314.70 205.51,314.10 205.41,313.50 205.31,312.90 205.21,312.30 205.10,311.70 205.00,311.10 204.90,310.50 204.80,309.90 204.70,309.30 204.60,308.70 204.50,308.10 204.41,307.50 204.31,306.90 204.21,306.30 204.11,305.70 204.02,305.10 203.92,304.50 203.82,303.90 203.69,303.30 203.54,302.70 203.39,302.10 203.26,301.50 203.14,300.90 203.04,300.30 202.96,299.70 202.89,299.10 202.84,298.50 202.81,297.90 202.79,297.30 202.78,296.70 202.78,296.10 202.77,295.50 202.77,294.90 202.77,294.30 202.77,293.70 202.77,293.10 202.76,292.50 202.76,291.90 202.76,291.30 202.76,291.10 202.76,291.30 202.76,291.90 202.76,292.50 202.75,293.10 202.75,293.70 202.75,294.30 202.75,294.90 202.75,295.50 202.74,296.10 202.74,296.70 202.73,297.30 202.71,297.90 202.68,298.50 202.63,299.10 202.56,299.70 202.48,300.30 202.38,300.90 202.26,301.50 202.13,302.10 201.98,302.70 201.83,303.30 201.70,303.90 201.60,304.50 201.50,305.10 201.41,305.70 201.31,306.30 201.21,306.90 201.11,307.50 201.02,308.10 200.92,308.70 200.82,309.30 200.72,309.90 200.62,310.50 200.52,311.10 200.42,311.70 200.31,312.30 200.21,312.90 200.11,313.50 200.01,314.10 199.90,314.70 199.80,315.30 199.70,315.90 199.59,316.50 199.49,317.10 199.39,317.70 199.29,318.30 199.18,318.90 199.08,319.50 198.99,320.10 198.94,320.70 198.90,321.30 198.86,321.90 198.83,322.50 198.80,323.10 198.76,323.70 198.73,324.30 198.70,324.90 198.75,325.50 198.91,326.10 199.15,326.70 199.39,327.30 199.63,327.90 199.88,328.50 200.12,329.10 200.37,329.70 200.61,330.30 200.85,330.90 201.08,331.50 201.27,332.10 201.39,332.70 201.49,333.30 201.59,333.90 201.69,334.50 201.79,335.10 201.86,335.70 201.77,336.30 201.41,336.90 201.00,337.50 200.58,338.10 200.17,338.70 199.76,339.30 199.15,339.90 198.53,340.50 197.92,341.10 197.30,341.70 196.69,342.30 196.07,342.90 195.46,343.50Z" fill="#d21f35" stroke="#231f20" stroke-width="0.7" stroke-linejoin="round"/>
<path d="M209.76,415.75 209.28,415.15 208.80,414.55 208.31,413.95 207.83,413.35 207.35,412.75 206.87,412.15 206.38,411.55 205.90,410.95 205.43,410.35 205.05,409.75 204.71,409.15 204.38,408.55 204.05,407.95 203.77,407.35 203.68,406.75 203.76,406.15 203.90,405.55 204.04,404.95 204.17,404.35 204.31,403.75 204.44,403.15 204.58,402.55 204.70,401.95 204.79,401.35 204.86,400.75 204.92,400.15 204.98,399.55 205.04,398.95 205.10,398.35 205.17,397.75 205.23,397.15 205.29,396.55 205.35,395.95 205.41,395.35 205.46,394.75 205.47,394.15 205.43,393.55 205.37,392.95 205.31,392.35 205.25,391.75 205.19,391.15 205.12,390.55 205.06,389.95 205.00,389.35 204.94,388.75 204.88,388.15 204.81,387.55 204.69,386.95 204.47,386.35 204.20,385.75 203.96,385.15 203.73,384.55 203.53,383.95 203.36,383.35 203.20,382.75 203.07,382.15 202.97,381.55 202.89,380.95 202.83,380.35 202.80,379.75 202.78,379.15 202.78,378.55 202.78,377.95 202.78,377.35 202.77,376.75 202.77,376.15 202.77,375.55 202.77,374.95 202.77,374.35 202.77,373.75 202.77,373.15 202.76,372.55 202.76,371.95 202.76,371.35 202.76,371.05 202.76,371.35 202.76,371.95 202.76,372.55 202.75,373.15 202.75,373.75 202.75,374.35 202.75,374.95 202.75,375.55 202.75,376.15 202.75,376.75 202.74,377.35 202.74,377.95 202.74,378.55 202.74,379.15 202.72,379.75 202.69,380.35 202.63,380.95 202.55,381.55 202.45,382.15 202.32,382.75 202.16,383.35 201.99,383.95 201.79,384.55 201.56,385.15 201.32,385.75 201.05,386.35 200.83,386.95 200.71,387.55 200.64,388.15 200.58,388.75 200.52,389.35 200.46,389.95 200.40,390.55 200.33,391.15 200.27,391.75 200.21,392.35 200.15,392.95 200.09,393.55 200.05,394.15 200.06,394.75 200.11,395.35 200.17,395.95 200.23,396.55 200.29,397.15 200.35,397.75 200.42,398.35 200.48,398.95 200.54,399.55 200.60,400.15 200.66,400.75 200.73,401.35 200.82,401.95 200.94,402.55 201.08,403.15 201.21,403.75 201.35,404.35 201.48,404.95 201.62,405.55 201.76,406.15 201.84,406.75 201.75,407.35 201.47,407.95 201.14,408.55 200.81,409.15 200.47,409.75 200.09,410.35 199.62,410.95 199.13,411.55 198.65,412.15 198.17,412.75 197.69,413.35 197.21,413.95 196.72,414.55 196.24,415.15 195.76,415.75Z" fill="#d21f35" stroke="#231f20" stroke-width="0.7" stroke-linejoin="round"/>
<path d="M226.48,343.50 226.05,342.90 225.62,342.30 225.19,341.70 224.76,341.10 224.31,340.50 223.87,339.90 223.43,339.30 223.00,338.70 223.10,338.10 223.21,337.50 223.33,336.90 223.48,336.30 223.80,335.70 224.23,335.10 224.69,334.50 225.14,333.90 225.59,333.30 226.05,332.70 226.50,332.10 226.94,331.50 227.32,330.90 227.55,330.30 227.67,329.70 227.78,329.10 227.88,328.50 227.99,327.90 228.09,327.30 228.20,326.70 228.30,326.10 228.41,325.50 228.49,324.90 228.49,324.30 228.40,323.70 228.28,323.10 228.15,322.50 228.02,321.90 227.89,321.30 227.76,320.70 227.63,320.10 227.50,319.50 227.37,318.90 227.24,318.30 227.11,317.70 226.94,317.10 226.73,316.50 226.49,315.90 226.25,315.30 226.01,314.70 225.76,314.10 225.52,313.50 225.28,312.90 225.03,312.30 224.79,311.70 224.55,311.10 224.30,310.50 224.07,309.90 223.85,309.30 223.64,308.70 223.44,308.10 223.23,307.50 223.03,306.90 222.82,306.30 222.61,305.70 222.34,305.10 221.98,304.50 221.61,303.90 221.32,303.30 221.13,302.70 221.03,302.10 221.00,301.50 220.99,300.90 220.98,300.50 220.97,300.90 220.96,301.50 220.93,302.10 220.83,302.70 220.64,303.30 220.35,303.90 219.98,304.50 219.62,305.10 219.35,305.70 219.14,306.30 218.93,306.90 218.73,307.50 218.52,308.10 218.32,308.70 218.11,309.30 217.89,309.90 217.66,310.50 217.41,311.10 217.17,311.70 216.93,312.30 216.68,312.90 216.44,313.50 216.20,314.10 215.95,314.70 215.71,315.30 215.47,315.90 215.23,316.50 215.02,317.10 214.85,317.70 214.72,318.30 214.59,318.90 214.46,319.50 214.33,320.10 214.20,320.70 214.07,321.30 213.94,321.90 213.81,322.50 213.68,323.10 213.56,323.70 213.47,324.30 213.47,324.90 213.55,325.50 213.66,326.10 213.76,326.70 213.87,327.30 213.97,327.90 214.08,328.50 214.18,329.10 214.29,329.70 214.41,330.30 214.64,330.90 215.02,331.50 215.46,332.10 215.91,332.70 216.37,333.30 216.82,333.90 217.27,334.50 217.73,335.10 218.16,335.70 218.48,336.30 218.63,336.90 218.75,337.50 218.86,338.10 218.96,338.70 218.53,339.30 218.09,339.90 217.65,340.50 217.20,341.10 216.77,341.70 216.34,342.30 215.91,342.90 215.48,343.50Z" fill="#7f98d4" stroke="#231f20" stroke-width="0.7" stroke-linejoin="round"/>
<path d="M228.18,415.75 227.63,415.15 227.08,414.55 226.53,413.95 225.98,413.35 225.42,412.75 224.85,412.15 224.29,411.55 223.73,410.95 223.20,410.35 223.13,409.75 223.30,409.15 223.50,408.55 223.69,407.95 223.90,407.35 224.18,406.75 224.52,406.15 224.89,405.55 225.25,404.95 225.61,404.35 225.98,403.75 226.30,403.15 226.47,402.55 226.47,401.95 226.40,401.35 226.32,400.75 226.24,400.15 226.16,399.55 226.08,398.95 226.00,398.35 225.93,397.75 225.85,397.15 225.77,396.55 225.69,395.95 225.61,395.35 225.53,394.75 225.44,394.15 225.33,393.55 225.22,392.95 225.10,392.35 224.99,391.75 224.88,391.15 224.76,390.55 224.65,389.95 224.54,389.35 224.42,388.75 224.31,388.15 224.20,387.55 224.08,386.95 223.97,386.35 223.86,385.75 223.74,385.15 223.63,384.55 223.49,383.95 223.28,383.35 223.02,382.75 222.76,382.15 222.52,381.55 222.29,380.95 222.09,380.35 221.90,379.75 221.73,379.15 221.58,378.55 221.44,377.95 221.33,377.35 221.23,376.75 221.15,376.15 221.09,375.55 221.05,374.95 221.02,374.35 221.00,373.75 221.00,373.15 221.00,372.55 220.99,371.95 220.99,371.35 220.99,370.75 220.99,370.15 220.99,369.55 220.98,368.95 220.98,368.35 220.98,367.85 220.98,368.35 220.98,368.95 220.97,369.55 220.97,370.15 220.97,370.75 220.97,371.35 220.97,371.95 220.96,372.55 220.96,373.15 220.96,373.75 220.94,374.35 220.91,374.95 220.87,375.55 220.81,376.15 220.73,376.75 220.63,377.35 220.52,377.95 220.38,378.55 220.23,379.15 220.06,379.75 219.87,380.35 219.67,380.95 219.44,381.55 219.20,382.15 218.94,382.75 218.68,383.35 218.47,383.95 218.33,384.55 218.22,385.15 218.10,385.75 217.99,386.35 217.88,386.95 217.76,387.55 217.65,388.15 217.54,388.75 217.42,389.35 217.31,389.95 217.20,390.55 217.08,391.15 216.97,391.75 216.86,392.35 216.74,392.95 216.63,393.55 216.52,394.15 216.43,394.75 216.35,395.35 216.27,395.95 216.19,396.55 216.11,397.15 216.03,397.75 215.96,398.35 215.88,398.95 215.80,399.55 215.72,400.15 215.64,400.75 215.56,401.35 215.49,401.95 215.49,402.55 215.66,403.15 215.98,403.75 216.35,404.35 216.71,404.95 217.07,405.55 217.44,406.15 217.78,406.75 218.06,407.35 218.27,407.95 218.46,408.55 218.66,409.15 218.83,409.75 218.76,410.35 218.23,410.95 217.67,411.55 217.10,412.15 216.54,412.75 215.98,413.35 215.43,413.95 214.88,414.55 214.33,415.15 213.78,415.75Z" fill="#7f98d4" stroke="#231f20" stroke-width="0.7" stroke-linejoin="round"/>
<path d="M246.30,343.50 245.70,342.90 245.10,342.30 244.50,341.70 243.90,341.10 243.38,340.50 242.89,339.90 242.40,339.30 241.92,338.70 241.43,338.10 240.97,337.50 240.83,336.90 240.98,336.30 241.17,335.70 241.36,335.10 241.54,334.50 241.74,333.90 241.94,333.30 242.14,332.70 242.34,332.10 242.54,331.50 242.75,330.90 242.95,330.30 243.15,329.70 243.36,329.10 243.56,328.50 243.76,327.90 243.96,327.30 244.13,326.70 244.26,326.10 244.34,325.50 244.42,324.90 244.50,324.30 244.58,323.70 244.65,323.10 244.73,322.50 244.81,321.90 244.89,321.30 244.96,320.70 245.04,320.10 245.12,319.50 245.20,318.90 245.25,318.30 245.26,317.70 245.23,317.10 245.19,316.50 245.14,315.90 245.10,315.30 245.06,314.70 245.01,314.10 244.97,313.50 244.93,312.90 244.89,312.30 244.84,311.70 244.80,311.10 244.76,310.50 244.70,309.90 244.60,309.30 244.46,308.70 244.32,308.10 244.18,307.50 244.04,306.90 243.90,306.30 243.76,305.70 243.62,305.10 243.48,304.50 243.34,303.90 243.19,303.30 243.05,302.70 242.91,302.10 242.75,301.50 242.54,300.90 242.27,300.30 241.99,299.70 241.70,299.10 241.41,298.50 241.13,297.90 240.78,297.30 240.23,296.70 239.63,296.10 239.20,295.90 238.77,296.10 238.17,296.70 237.62,297.30 237.27,297.90 236.99,298.50 236.70,299.10 236.41,299.70 236.13,300.30 235.86,300.90 235.65,301.50 235.49,302.10 235.35,302.70 235.21,303.30 235.06,303.90 234.92,304.50 234.78,305.10 234.64,305.70 234.50,306.30 234.36,306.90 234.22,307.50 234.08,308.10 233.94,308.70 233.80,309.30 233.70,309.90 233.64,310.50 233.60,311.10 233.56,311.70 233.51,312.30 233.47,312.90 233.43,313.50 233.39,314.10 233.34,314.70 233.30,315.30 233.26,315.90 233.21,316.50 233.17,317.10 233.14,317.70 233.15,318.30 233.20,318.90 233.28,319.50 233.36,320.10 233.44,320.70 233.51,321.30 233.59,321.90 233.67,322.50 233.75,323.10 233.82,323.70 233.90,324.30 233.98,324.90 234.06,325.50 234.14,326.10 234.27,326.70 234.44,327.30 234.64,327.90 234.84,328.50 235.04,329.10 235.25,329.70 235.45,330.30 235.65,330.90 235.86,331.50 236.06,332.10 236.26,332.70 236.46,333.30 236.66,333.90 236.86,334.50 237.04,335.10 237.23,335.70 237.42,336.30 237.57,336.90 237.43,337.50 236.97,338.10 236.48,338.70 236.00,339.30 235.51,339.90 235.02,340.50 234.50,341.10 233.90,341.70 233.30,342.30 232.70,342.90 232.10,343.50Z" fill="#2a9a48" stroke="#231f20" stroke-width="0.7" stroke-linejoin="round"/>
<path d="M246.40,415.75 245.84,415.15 245.27,414.55 244.71,413.95 244.14,413.35 243.58,412.75 243.04,412.15 242.58,411.55 242.11,410.95 241.64,410.35 241.17,409.75 240.76,409.15 240.67,408.55 240.62,407.95 240.57,407.35 240.53,406.75 240.49,406.15 240.45,405.55 240.44,404.95 240.50,404.35 240.59,403.75 240.70,403.15 240.80,402.55 240.91,401.95 241.01,401.35 241.12,400.75 241.23,400.15 241.33,399.55 241.44,398.95 241.54,398.35 241.64,397.75 241.73,397.15 241.80,396.55 241.87,395.95 241.93,395.35 242.00,394.75 242.07,394.15 242.13,393.55 242.20,392.95 242.27,392.35 242.33,391.75 242.36,391.15 242.32,390.55 242.25,389.95 242.17,389.35 242.10,388.75 242.02,388.15 241.95,387.55 241.87,386.95 241.79,386.35 241.72,385.75 241.64,385.15 241.57,384.55 241.49,383.95 241.41,383.35 241.34,382.75 241.25,382.15 241.11,381.55 240.89,380.95 240.64,380.35 240.41,379.75 240.20,379.15 240.01,378.55 239.84,377.95 239.69,377.35 239.56,376.75 239.46,376.15 239.37,375.55 239.31,374.95 239.26,374.35 239.23,373.75 239.22,373.15 239.22,372.55 239.22,371.95 239.21,371.35 239.21,370.75 239.21,370.15 239.21,369.55 239.21,368.95 239.21,368.35 239.20,367.75 239.20,367.15 239.20,366.55 239.20,366.35 239.20,366.55 239.20,367.15 239.20,367.75 239.19,368.35 239.19,368.95 239.19,369.55 239.19,370.15 239.19,370.75 239.19,371.35 239.18,371.95 239.18,372.55 239.18,373.15 239.17,373.75 239.14,374.35 239.09,374.95 239.03,375.55 238.94,376.15 238.84,376.75 238.71,377.35 238.56,377.95 238.39,378.55 238.20,379.15 237.99,379.75 237.76,380.35 237.51,380.95 237.29,381.55 237.15,382.15 237.06,382.75 236.99,383.35 236.91,383.95 236.83,384.55 236.76,385.15 236.68,385.75 236.61,386.35 236.53,386.95 236.45,387.55 236.38,388.15 236.30,388.75 236.23,389.35 236.15,389.95 236.08,390.55 236.04,391.15 236.07,391.75 236.13,392.35 236.20,392.95 236.27,393.55 236.33,394.15 236.40,394.75 236.47,395.35 236.53,395.95 236.60,396.55 236.67,397.15 236.76,397.75 236.86,398.35 236.96,398.95 237.07,399.55 237.17,400.15 237.28,400.75 237.39,401.35 237.49,401.95 237.60,402.55 237.70,403.15 237.81,403.75 237.90,404.35 237.96,404.95 237.95,405.55 237.91,406.15 237.87,406.75 237.83,407.35 237.78,407.95 237.73,408.55 237.64,409.15 237.23,409.75 236.76,410.35 236.29,410.95 235.82,411.55 235.36,412.15 234.82,412.75 234.26,413.35 233.69,413.95 233.13,414.55 232.56,415.15 232.00,415.75Z" fill="#2a9a48" stroke="#231f20" stroke-width="0.7" stroke-linejoin="round"/>
<rect x="47.8" y="273.3" width="200.2" height="145.45" fill="none" stroke="#231f20" stroke-width="1.2"/>
<line x1="47.80" y1="346.25" x2="248.00" y2="346.25" stroke="#231f20" stroke-width="1.2" />
<text transform="translate(51.00,282.50) scale(0.92,1)" x="0" y="0" font-size="8.2" text-anchor="start" font-weight="normal" font-style="italic" fill="#231f20" stroke="#231f20" stroke-width="0.25" >Myc</text>
<text transform="translate(244.40,282.40) scale(0.93,1)" x="0" y="0" font-size="7.8" text-anchor="end" font-weight="normal" font-style="normal" fill="#231f20" stroke="#231f20" stroke-width="0.25" >WT</text>
<text x="244.80" y="355.00" font-size="7.6" text-anchor="end" font-weight="normal" font-style="normal" fill="#231f20" stroke="#231f20" stroke-width="0.25" >W<tspan font-size="5.6" dy="-2.9">41</tspan><tspan dy="2.9">/W</tspan><tspan font-size="5.6" dy="-2.9">41</tspan></text>
<line x1="44.60" y1="343.50" x2="47.80" y2="343.50" stroke="#231f20" stroke-width="1" />
<text transform="translate(40.80,346.40) scale(0.9,1)" x="0" y="0" font-size="8.3" text-anchor="end" font-weight="normal" font-style="normal" fill="#231f20" stroke="#231f20" stroke-width="0.25" >0.0</text>
<line x1="44.60" y1="322.50" x2="47.80" y2="322.50" stroke="#231f20" stroke-width="1" />
<text transform="translate(40.80,325.40) scale(0.9,1)" x="0" y="0" font-size="8.3" text-anchor="end" font-weight="normal" font-style="normal" fill="#231f20" stroke="#231f20" stroke-width="0.25" >0.5</text>
<line x1="44.60" y1="301.50" x2="47.80" y2="301.50" stroke="#231f20" stroke-width="1" />
<text transform="translate(40.80,304.40) scale(0.9,1)" x="0" y="0" font-size="8.3" text-anchor="end" font-weight="normal" font-style="normal" fill="#231f20" stroke="#231f20" stroke-width="0.25" >1.0</text>
<line x1="44.60" y1="415.75" x2="47.80" y2="415.75" stroke="#231f20" stroke-width="1" />
<text transform="translate(40.80,418.65) scale(0.9,1)" x="0" y="0" font-size="8.3" text-anchor="end" font-weight="normal" font-style="normal" fill="#231f20" stroke="#231f20" stroke-width="0.25" >0.0</text>
<line x1="44.60" y1="404.20" x2="47.80" y2="404.20" stroke="#231f20" stroke-width="1" />
<text transform="translate(40.80,407.10) scale(0.9,1)" x="0" y="0" font-size="8.3" text-anchor="end" font-weight="normal" font-style="normal" fill="#231f20" stroke="#231f20" stroke-width="0.25" >0.2</text>
<line x1="44.60" y1="392.65" x2="47.80" y2="392.65" stroke="#231f20" stroke-width="1" />
<text transform="translate(40.80,395.55) scale(0.9,1)" x="0" y="0" font-size="8.3" text-anchor="end" font-weight="normal" font-style="normal" fill="#231f20" stroke="#231f20" stroke-width="0.25" >0.4</text>
<line x1="44.60" y1="381.10" x2="47.80" y2="381.10" stroke="#231f20" stroke-width="1" />
<text transform="translate(40.80,384.00) scale(0.9,1)" x="0" y="0" font-size="8.3" text-anchor="end" font-weight="normal" font-style="normal" fill="#231f20" stroke="#231f20" stroke-width="0.25" >0.6</text>
<line x1="44.60" y1="369.55" x2="47.80" y2="369.55" stroke="#231f20" stroke-width="1" />
<text transform="translate(40.80,372.45) scale(0.9,1)" x="0" y="0" font-size="8.3" text-anchor="end" font-weight="normal" font-style="normal" fill="#231f20" stroke="#231f20" stroke-width="0.25" >0.8</text>
<line x1="44.60" y1="358.00" x2="47.80" y2="358.00" stroke="#231f20" stroke-width="1" />
<text transform="translate(40.80,360.90) scale(0.9,1)" x="0" y="0" font-size="8.3" text-anchor="end" font-weight="normal" font-style="normal" fill="#231f20" stroke="#231f20" stroke-width="0.25" >1.0</text>
<line x1="57.00" y1="418.75" x2="57.00" y2="421.75" stroke="#231f20" stroke-width="1" />
<text transform="translate(57.00,432.35) scale(0.9,1)" x="0" y="0" font-size="8.3" text-anchor="middle" font-weight="normal" font-style="normal" fill="#231f20" stroke="#231f20" stroke-width="0.25" >1</text>
<line x1="75.22" y1="418.75" x2="75.22" y2="421.75" stroke="#231f20" stroke-width="1" />
<text transform="translate(75.22,432.35) scale(0.9,1)" x="0" y="0" font-size="8.3" text-anchor="middle" font-weight="normal" font-style="normal" fill="#231f20" stroke="#231f20" stroke-width="0.25" >2</text>
<line x1="93.44" y1="418.75" x2="93.44" y2="421.75" stroke="#231f20" stroke-width="1" />
<text transform="translate(93.44,432.35) scale(0.9,1)" x="0" y="0" font-size="8.3" text-anchor="middle" font-weight="normal" font-style="normal" fill="#231f20" stroke="#231f20" stroke-width="0.25" >3</text>
<line x1="111.66" y1="418.75" x2="111.66" y2="421.75" stroke="#231f20" stroke-width="1" />
<text transform="translate(111.66,432.35) scale(0.9,1)" x="0" y="0" font-size="8.3" text-anchor="middle" font-weight="normal" font-style="normal" fill="#231f20" stroke="#231f20" stroke-width="0.25" >4</text>
<line x1="129.88" y1="418.75" x2="129.88" y2="421.75" stroke="#231f20" stroke-width="1" />
<text transform="translate(129.88,432.35) scale(0.9,1)" x="0" y="0" font-size="8.3" text-anchor="middle" font-weight="normal" font-style="normal" fill="#231f20" stroke="#231f20" stroke-width="0.25" >5</text>
<line x1="148.10" y1="418.75" x2="148.10" y2="421.75" stroke="#231f20" stroke-width="1" />
<text transform="translate(148.10,432.35) scale(0.9,1)" x="0" y="0" font-size="8.3" text-anchor="middle" font-weight="normal" font-style="normal" fill="#231f20" stroke="#231f20" stroke-width="0.25" >6</text>
<line x1="166.32" y1="418.75" x2="166.32" y2="421.75" stroke="#231f20" stroke-width="1" />
<text transform="translate(166.32,432.35) scale(0.9,1)" x="0" y="0" font-size="8.3" text-anchor="middle" font-weight="normal" font-style="normal" fill="#231f20" stroke="#231f20" stroke-width="0.25" >7</text>
<line x1="184.54" y1="418.75" x2="184.54" y2="421.75" stroke="#231f20" stroke-width="1" />
<text transform="translate(184.54,432.35) scale(0.9,1)" x="0" y="0" font-size="8.3" text-anchor="middle" font-weight="normal" font-style="normal" fill="#231f20" stroke="#231f20" stroke-width="0.25" >8</text>
<line x1="202.76" y1="418.75" x2="202.76" y2="421.75" stroke="#231f20" stroke-width="1" />
<text transform="translate(202.76,432.35) scale(0.9,1)" x="0" y="0" font-size="8.3" text-anchor="middle" font-weight="normal" font-style="normal" fill="#231f20" stroke="#231f20" stroke-width="0.25" >9</text>
<line x1="220.98" y1="418.75" x2="220.98" y2="421.75" stroke="#231f20" stroke-width="1" />
<text transform="translate(220.98,432.35) scale(0.9,1)" x="0" y="0" font-size="8.3" text-anchor="middle" font-weight="normal" font-style="normal" fill="#231f20" stroke="#231f20" stroke-width="0.25" >10</text>
<line x1="239.20" y1="418.75" x2="239.20" y2="421.75" stroke="#231f20" stroke-width="1" />
<text transform="translate(239.20,432.35) scale(0.9,1)" x="0" y="0" font-size="8.3" text-anchor="middle" font-weight="normal" font-style="normal" fill="#231f20" stroke="#231f20" stroke-width="0.25" >11</text>
<text x="147.90" y="446.55" font-size="10.2" text-anchor="middle" font-weight="normal" font-style="normal" fill="#231f20" stroke="#231f20" stroke-width="0.25" textLength="24.6" lengthAdjust="spacingAndGlyphs" >Cluster</text>
<g transform="translate(23.9,345.65) rotate(-90)">
<text x="0.00" y="0.00" font-size="9.3" text-anchor="middle" font-weight="normal" font-style="normal" fill="#231f20" stroke="#231f20" stroke-width="0.25" textLength="137.5" lengthAdjust="spacingAndGlyphs" >Normalized gene expression (log-scale)</text>
</g>
<text x="264.80" y="268.70" font-size="12" text-anchor="start" font-weight="bold" font-style="normal" fill="#000" stroke="#000" stroke-width="0.25" >E</text>
<path d="M318.15,343.25 317.37,342.65 316.60,342.05 315.82,341.45 315.04,340.85 314.27,340.25 313.57,339.65 313.01,339.05 312.46,338.45 311.91,337.85 311.41,337.25 311.36,336.65 311.35,336.05 311.35,335.45 311.35,334.85 311.35,334.25 311.35,333.65 311.35,333.05 311.35,332.45 311.35,331.85 311.35,331.25 311.38,330.65 311.42,330.05 311.46,329.45 311.51,328.85 311.56,328.25 311.61,327.65 311.66,327.05 311.71,326.45 311.76,325.85 311.80,325.25 311.85,324.65 311.90,324.05 311.95,323.45 311.99,322.85 312.03,322.25 312.06,321.65 312.10,321.05 312.14,320.45 312.18,319.85 312.22,319.25 312.25,318.65 312.29,318.05 312.32,317.45 312.32,316.85 312.29,316.25 312.26,315.65 312.22,315.05 312.18,314.45 312.14,313.85 312.11,313.25 312.07,312.65 312.03,312.05 311.99,311.45 311.93,310.85 311.83,310.25 311.70,309.65 311.57,309.05 311.45,308.45 311.34,307.85 311.24,307.25 311.15,306.65 311.07,306.05 311.00,305.45 310.94,304.85 310.89,304.25 310.85,303.65 310.82,303.05 310.79,302.45 310.78,301.85 310.77,301.25 310.77,300.65 310.77,300.05 310.77,299.45 310.77,298.85 310.77,298.25 310.76,297.65 310.76,297.05 310.76,296.45 310.76,295.85 310.76,295.25 310.76,294.65 310.76,294.05 310.76,293.45 310.76,292.85 310.76,292.25 310.75,291.65 310.75,291.05 310.75,290.45 310.75,289.85 310.75,289.25 310.75,289.05 310.75,289.25 310.75,289.85 310.75,290.45 310.75,291.05 310.75,291.65 310.74,292.25 310.74,292.85 310.74,293.45 310.74,294.05 310.74,294.65 310.74,295.25 310.74,295.85 310.74,296.45 310.74,297.05 310.74,297.65 310.73,298.25 310.73,298.85 310.73,299.45 310.73,300.05 310.73,300.65 310.73,301.25 310.72,301.85 310.71,302.45 310.68,303.05 310.65,303.65 310.61,304.25 310.56,304.85 310.50,305.45 310.43,306.05 310.35,306.65 310.26,307.25 310.16,307.85 310.05,308.45 309.93,309.05 309.80,309.65 309.67,310.25 309.57,310.85 309.51,311.45 309.47,312.05 309.43,312.65 309.39,313.25 309.36,313.85 309.32,314.45 309.28,315.05 309.24,315.65 309.21,316.25 309.18,316.85 309.18,317.45 309.21,318.05 309.25,318.65 309.28,319.25 309.32,319.85 309.36,320.45 309.40,321.05 309.44,321.65 309.47,322.25 309.51,322.85 309.55,323.45 309.60,324.05 309.65,324.65 309.70,325.25 309.74,325.85 309.79,326.45 309.84,327.05 309.89,327.65 309.94,328.25 309.99,328.85 310.04,329.45 310.08,330.05 310.12,330.65 310.15,331.25 310.15,331.85 310.15,332.45 310.15,333.05 310.15,333.65 310.15,334.25 310.15,334.85 310.15,335.45 310.15,336.05 310.14,336.65 310.09,337.25 309.59,337.85 309.04,338.45 308.49,339.05 307.93,339.65 307.23,340.25 306.46,340.85 305.68,341.45 304.90,342.05 304.13,342.65 303.35,343.25Z" fill="#9cc48e" stroke="#231f20" stroke-width="0.7" stroke-linejoin="round"/>
<path d="M318.15,415.60 317.52,415.00 316.89,414.40 316.26,413.80 315.64,413.20 315.01,412.60 314.38,412.00 313.75,411.40 313.42,410.80 313.08,410.20 312.75,409.60 312.41,409.00 312.08,408.40 311.75,407.80 311.47,407.20 311.39,406.60 311.40,406.00 311.43,405.40 311.46,404.80 311.49,404.20 311.52,403.60 311.56,403.00 311.64,402.40 311.73,401.80 311.83,401.20 311.92,400.60 312.02,400.00 312.12,399.40 312.21,398.80 312.31,398.20 312.41,397.60 312.51,397.00 312.60,396.40 312.70,395.80 312.78,395.20 312.85,394.60 312.91,394.00 312.97,393.40 313.04,392.80 313.10,392.20 313.16,391.60 313.23,391.00 313.29,390.40 313.35,389.80 313.42,389.20 313.48,388.60 313.54,388.00 313.59,387.40 313.59,386.80 313.53,386.20 313.44,385.60 313.36,385.00 313.27,384.40 313.18,383.80 313.09,383.20 313.00,382.60 312.91,382.00 312.82,381.40 312.74,380.80 312.65,380.20 312.56,379.60 312.47,379.00 312.38,378.40 312.29,377.80 312.16,377.20 312.01,376.60 311.86,376.00 311.72,375.40 311.59,374.80 311.47,374.20 311.36,373.60 311.26,373.00 311.16,372.40 311.08,371.80 311.01,371.20 310.95,370.60 310.89,370.00 310.85,369.40 310.82,368.80 310.79,368.20 310.78,367.60 310.77,367.00 310.77,366.40 310.77,365.80 310.77,365.20 310.76,364.60 310.76,364.00 310.76,363.40 310.76,362.80 310.76,362.20 310.76,361.60 310.76,361.00 310.76,360.40 310.75,359.80 310.75,359.20 310.75,358.60 310.75,358.00 310.75,357.40 310.75,357.40 310.75,357.40 310.75,358.00 310.75,358.60 310.75,359.20 310.75,359.80 310.74,360.40 310.74,361.00 310.74,361.60 310.74,362.20 310.74,362.80 310.74,363.40 310.74,364.00 310.74,364.60 310.73,365.20 310.73,365.80 310.73,366.40 310.73,367.00 310.72,367.60 310.71,368.20 310.68,368.80 310.65,369.40 310.61,370.00 310.55,370.60 310.49,371.20 310.42,371.80 310.34,372.40 310.24,373.00 310.14,373.60 310.03,374.20 309.91,374.80 309.78,375.40 309.64,376.00 309.49,376.60 309.34,377.20 309.21,377.80 309.12,378.40 309.03,379.00 308.94,379.60 308.85,380.20 308.76,380.80 308.68,381.40 308.59,382.00 308.50,382.60 308.41,383.20 308.32,383.80 308.23,384.40 308.14,385.00 308.06,385.60 307.97,386.20 307.91,386.80 307.91,387.40 307.96,388.00 308.02,388.60 308.08,389.20 308.15,389.80 308.21,390.40 308.27,391.00 308.34,391.60 308.40,392.20 308.46,392.80 308.53,393.40 308.59,394.00 308.65,394.60 308.72,395.20 308.80,395.80 308.90,396.40 308.99,397.00 309.09,397.60 309.19,398.20 309.29,398.80 309.38,399.40 309.48,400.00 309.58,400.60 309.67,401.20 309.77,401.80 309.86,402.40 309.94,403.00 309.98,403.60 310.01,404.20 310.04,404.80 310.07,405.40 310.10,406.00 310.11,406.60 310.03,407.20 309.75,407.80 309.42,408.40 309.09,409.00 308.75,409.60 308.42,410.20 308.08,410.80 307.75,411.40 307.12,412.00 306.49,412.60 305.86,413.20 305.24,413.80 304.61,414.40 303.98,415.00 303.35,415.60Z" fill="#9cc48e" stroke="#231f20" stroke-width="0.7" stroke-linejoin="round"/>
<path d="M336.20,343.25 335.43,342.65 334.67,342.05 333.90,341.45 333.14,340.85 332.41,340.25 331.85,339.65 331.28,339.05 330.72,338.45 330.17,337.85 329.67,337.25 329.75,336.65 329.88,336.05 330.02,335.45 330.16,334.85 330.30,334.25 330.44,333.65 330.57,333.05 330.70,332.45 330.83,331.85 330.95,331.25 331.07,330.65 331.20,330.05 331.32,329.45 331.45,328.85 331.57,328.25 331.69,327.65 331.80,327.05 331.87,326.45 331.87,325.85 331.86,325.25 331.84,324.65 331.82,324.05 331.80,323.45 331.78,322.85 331.76,322.25 331.74,321.65 331.72,321.05 331.69,320.45 331.63,319.85 331.54,319.25 331.44,318.65 331.34,318.05 331.25,317.45 331.15,316.85 331.05,316.25 330.95,315.65 330.86,315.05 330.76,314.45 330.66,313.85 330.56,313.25 330.45,312.65 330.32,312.05 330.19,311.45 330.07,310.85 329.95,310.25 329.84,309.65 329.74,309.05 329.65,308.45 329.56,307.85 329.48,307.25 329.40,306.65 329.33,306.05 329.27,305.45 329.22,304.85 329.17,304.25 329.13,303.65 329.09,303.05 329.07,302.45 329.05,301.85 329.03,301.25 329.03,300.65 329.02,300.05 329.02,299.45 329.02,298.85 329.02,298.25 329.02,297.65 329.02,297.05 329.01,296.45 329.01,295.85 329.01,295.25 329.01,294.65 329.01,294.05 329.01,293.45 329.01,292.85 329.01,292.25 329.01,291.65 329.01,291.05 329.01,290.45 329.01,289.85 329.00,289.25 329.00,288.65 329.00,288.05 329.00,287.45 329.00,286.85 329.00,286.25 329.00,285.95 329.00,286.25 329.00,286.85 329.00,287.45 329.00,288.05 329.00,288.65 329.00,289.25 328.99,289.85 328.99,290.45 328.99,291.05 328.99,291.65 328.99,292.25 328.99,292.85 328.99,293.45 328.99,294.05 328.99,294.65 328.99,295.25 328.99,295.85 328.99,296.45 328.98,297.05 328.98,297.65 328.98,298.25 328.98,298.85 328.98,299.45 328.98,300.05 328.97,300.65 328.97,301.25 328.95,301.85 328.93,302.45 328.91,303.05 328.87,303.65 328.83,304.25 328.78,304.85 328.73,305.45 328.67,306.05 328.60,306.65 328.52,307.25 328.44,307.85 328.35,308.45 328.26,309.05 328.16,309.65 328.05,310.25 327.93,310.85 327.81,311.45 327.68,312.05 327.55,312.65 327.44,313.25 327.34,313.85 327.24,314.45 327.14,315.05 327.05,315.65 326.95,316.25 326.85,316.85 326.75,317.45 326.66,318.05 326.56,318.65 326.46,319.25 326.37,319.85 326.31,320.45 326.28,321.05 326.26,321.65 326.24,322.25 326.22,322.85 326.20,323.45 326.18,324.05 326.16,324.65 326.14,325.25 326.13,325.85 326.13,326.45 326.20,327.05 326.31,327.65 326.43,328.25 326.55,328.85 326.68,329.45 326.80,330.05 326.93,330.65 327.05,331.25 327.17,331.85 327.30,332.45 327.43,333.05 327.56,333.65 327.70,334.25 327.84,334.85 327.98,335.45 328.12,336.05 328.25,336.65 328.33,337.25 327.83,337.85 327.28,338.45 326.72,339.05 326.15,339.65 325.59,340.25 324.86,340.85 324.10,341.45 323.33,342.05 322.57,342.65 321.80,343.25Z" fill="#c41f7a" stroke="#231f20" stroke-width="0.7" stroke-linejoin="round"/>
<path d="M335.20,415.60 334.43,415.00 333.66,414.40 332.89,413.80 332.27,413.20 331.80,412.60 331.33,412.00 330.86,411.40 330.40,410.80 330.07,410.20 330.22,409.60 330.41,409.00 330.59,408.40 330.78,407.80 331.00,407.20 331.29,406.60 331.61,406.00 331.94,405.40 332.28,404.80 332.61,404.20 332.94,403.60 333.28,403.00 333.61,402.40 333.94,401.80 334.26,401.20 334.53,400.60 334.73,400.00 334.90,399.40 335.07,398.80 335.24,398.20 335.41,397.60 335.58,397.00 335.75,396.40 335.92,395.80 336.09,395.20 336.26,394.60 336.42,394.00 336.51,393.40 336.46,392.80 336.33,392.20 336.20,391.60 336.07,391.00 335.94,390.40 335.80,389.80 335.67,389.20 335.54,388.60 335.41,388.00 335.27,387.40 335.14,386.80 335.01,386.20 334.88,385.60 334.74,385.00 334.61,384.40 334.44,383.80 334.24,383.20 334.02,382.60 333.80,382.00 333.58,381.40 333.36,380.80 333.14,380.20 332.92,379.60 332.69,379.00 332.47,378.40 332.25,377.80 332.03,377.20 331.81,376.60 331.59,376.00 331.37,375.40 331.14,374.80 330.90,374.20 330.65,373.60 330.41,373.00 330.19,372.40 329.98,371.80 329.80,371.20 329.63,370.60 329.49,370.00 329.36,369.40 329.26,368.80 329.17,368.20 329.11,367.60 329.06,367.00 329.04,366.40 329.02,365.80 329.02,365.20 329.02,364.60 329.01,364.00 329.01,363.40 329.01,362.80 329.01,362.20 329.01,361.60 329.01,361.00 329.01,360.40 329.00,359.80 329.00,359.20 329.00,358.60 329.00,358.50 329.00,358.60 329.00,359.20 329.00,359.80 328.99,360.40 328.99,361.00 328.99,361.60 328.99,362.20 328.99,362.80 328.99,363.40 328.99,364.00 328.98,364.60 328.98,365.20 328.98,365.80 328.96,366.40 328.94,367.00 328.89,367.60 328.83,368.20 328.74,368.80 328.64,369.40 328.51,370.00 328.37,370.60 328.20,371.20 328.02,371.80 327.81,372.40 327.59,373.00 327.35,373.60 327.10,374.20 326.86,374.80 326.63,375.40 326.41,376.00 326.19,376.60 325.97,377.20 325.75,377.80 325.53,378.40 325.31,379.00 325.08,379.60 324.86,380.20 324.64,380.80 324.42,381.40 324.20,382.00 323.98,382.60 323.76,383.20 323.56,383.80 323.39,384.40 323.26,385.00 323.12,385.60 322.99,386.20 322.86,386.80 322.73,387.40 322.59,388.00 322.46,388.60 322.33,389.20 322.20,389.80 322.06,390.40 321.93,391.00 321.80,391.60 321.67,392.20 321.54,392.80 321.49,393.40 321.58,394.00 321.74,394.60 321.91,395.20 322.08,395.80 322.25,396.40 322.42,397.00 322.59,397.60 322.76,398.20 322.93,398.80 323.10,399.40 323.27,400.00 323.47,400.60 323.74,401.20 324.06,401.80 324.39,402.40 324.72,403.00 325.06,403.60 325.39,404.20 325.72,404.80 326.06,405.40 326.39,406.00 326.71,406.60 327.00,407.20 327.22,407.80 327.41,408.40 327.59,409.00 327.78,409.60 327.93,410.20 327.60,410.80 327.14,411.40 326.67,412.00 326.20,412.60 325.73,413.20 325.11,413.80 324.34,414.40 323.57,415.00 322.80,415.60Z" fill="#c41f7a" stroke="#231f20" stroke-width="0.7" stroke-linejoin="round"/>
<path d="M354.45,343.25 353.80,342.65 353.16,342.05 352.51,341.45 351.87,340.85 351.22,340.25 350.57,339.65 350.03,339.05 349.57,338.45 349.12,337.85 348.68,337.25 348.24,336.65 347.91,336.05 347.86,335.45 347.85,334.85 347.85,334.25 347.85,333.65 347.85,333.05 347.85,332.45 347.85,331.85 347.85,331.25 347.85,330.65 347.85,330.05 347.85,329.45 347.85,328.85 347.85,328.25 347.85,327.65 347.85,327.05 347.85,326.45 347.86,325.85 347.89,325.25 347.95,324.65 348.02,324.05 348.09,323.45 348.16,322.85 348.22,322.25 348.29,321.65 348.36,321.05 348.42,320.45 348.48,319.85 348.53,319.25 348.58,318.65 348.63,318.05 348.68,317.45 348.73,316.85 348.77,316.25 348.82,315.65 348.87,315.05 348.92,314.45 348.97,313.85 349.01,313.25 349.00,312.65 348.96,312.05 348.89,311.45 348.82,310.85 348.75,310.25 348.68,309.65 348.61,309.05 348.54,308.45 348.46,307.85 348.35,307.25 348.22,306.65 348.09,306.05 347.97,305.45 347.86,304.85 347.76,304.25 347.67,303.65 347.59,303.05 347.52,302.45 347.46,301.85 347.40,301.25 347.36,300.65 347.32,300.05 347.30,299.45 347.28,298.85 347.27,298.25 347.27,297.65 347.27,297.05 347.27,296.45 347.27,295.85 347.27,295.25 347.26,294.65 347.26,294.05 347.26,293.45 347.26,292.85 347.26,292.25 347.26,291.65 347.26,291.05 347.26,290.45 347.26,289.85 347.26,289.25 347.25,288.65 347.25,288.05 347.25,287.45 347.25,286.85 347.25,286.25 347.25,285.95 347.25,286.25 347.25,286.85 347.25,287.45 347.25,288.05 347.25,288.65 347.24,289.25 347.24,289.85 347.24,290.45 347.24,291.05 347.24,291.65 347.24,292.25 347.24,292.85 347.24,293.45 347.24,294.05 347.24,294.65 347.23,295.25 347.23,295.85 347.23,296.45 347.23,297.05 347.23,297.65 347.23,298.25 347.22,298.85 347.20,299.45 347.18,300.05 347.14,300.65 347.10,301.25 347.04,301.85 346.98,302.45 346.91,303.05 346.83,303.65 346.74,304.25 346.64,304.85 346.53,305.45 346.41,306.05 346.28,306.65 346.15,307.25 346.04,307.85 345.96,308.45 345.89,309.05 345.82,309.65 345.75,310.25 345.68,310.85 345.61,311.45 345.54,312.05 345.50,312.65 345.49,313.25 345.53,313.85 345.58,314.45 345.63,315.05 345.68,315.65 345.73,316.25 345.77,316.85 345.82,317.45 345.87,318.05 345.92,318.65 345.97,319.25 346.02,319.85 346.08,320.45 346.14,321.05 346.21,321.65 346.28,322.25 346.34,322.85 346.41,323.45 346.48,324.05 346.55,324.65 346.61,325.25 346.64,325.85 346.65,326.45 346.65,327.05 346.65,327.65 346.65,328.25 346.65,328.85 346.65,329.45 346.65,330.05 346.65,330.65 346.65,331.25 346.65,331.85 346.65,332.45 346.65,333.05 346.65,333.65 346.65,334.25 346.65,334.85 346.64,335.45 346.59,336.05 346.26,336.65 345.82,337.25 345.38,337.85 344.93,338.45 344.47,339.05 343.93,339.65 343.28,340.25 342.63,340.85 341.99,341.45 341.34,342.05 340.70,342.65 340.05,343.25Z" fill="#e89c98" stroke="#231f20" stroke-width="0.7" stroke-linejoin="round"/>
<path d="M354.65,415.60 354.09,415.00 353.54,414.40 352.98,413.80 352.42,413.20 351.86,412.60 351.31,412.00 350.75,411.40 350.42,410.80 350.09,410.20 349.77,409.60 349.44,409.00 349.11,408.40 348.78,407.80 348.45,407.20 348.14,406.60 347.93,406.00 347.86,405.40 347.85,404.80 347.85,404.20 347.85,403.60 347.85,403.00 347.85,402.40 347.85,401.80 347.86,401.20 347.89,400.60 347.96,400.00 348.05,399.40 348.13,398.80 348.22,398.20 348.30,397.60 348.38,397.00 348.47,396.40 348.55,395.80 348.64,395.20 348.72,394.60 348.81,394.00 348.90,393.40 348.99,392.80 349.08,392.20 349.17,391.60 349.26,391.00 349.34,390.40 349.43,389.80 349.52,389.20 349.61,388.60 349.70,388.00 349.77,387.40 349.79,386.80 349.73,386.20 349.64,385.60 349.55,385.00 349.46,384.40 349.37,383.80 349.29,383.20 349.20,382.60 349.11,382.00 349.02,381.40 348.93,380.80 348.84,380.20 348.73,379.60 348.60,379.00 348.46,378.40 348.32,377.80 348.19,377.20 348.07,376.60 347.96,376.00 347.86,375.40 347.76,374.80 347.67,374.20 347.60,373.60 347.53,373.00 347.47,372.40 347.41,371.80 347.37,371.20 347.33,370.60 347.31,370.00 347.29,369.40 347.28,368.80 347.27,368.20 347.27,367.60 347.27,367.00 347.27,366.40 347.27,365.80 347.26,365.20 347.26,364.60 347.26,364.00 347.26,363.40 347.26,362.80 347.26,362.20 347.26,361.60 347.26,361.00 347.26,360.40 347.26,359.80 347.25,359.20 347.25,358.60 347.25,358.00 347.25,357.40 347.25,356.90 347.25,357.40 347.25,358.00 347.25,358.60 347.25,359.20 347.24,359.80 347.24,360.40 347.24,361.00 347.24,361.60 347.24,362.20 347.24,362.80 347.24,363.40 347.24,364.00 347.24,364.60 347.24,365.20 347.23,365.80 347.23,366.40 347.23,367.00 347.23,367.60 347.23,368.20 347.22,368.80 347.21,369.40 347.19,370.00 347.17,370.60 347.13,371.20 347.09,371.80 347.03,372.40 346.97,373.00 346.90,373.60 346.83,374.20 346.74,374.80 346.64,375.40 346.54,376.00 346.43,376.60 346.31,377.20 346.18,377.80 346.04,378.40 345.90,379.00 345.77,379.60 345.66,380.20 345.57,380.80 345.48,381.40 345.39,382.00 345.30,382.60 345.21,383.20 345.13,383.80 345.04,384.40 344.95,385.00 344.86,385.60 344.77,386.20 344.71,386.80 344.73,387.40 344.80,388.00 344.89,388.60 344.98,389.20 345.07,389.80 345.16,390.40 345.24,391.00 345.33,391.60 345.42,392.20 345.51,392.80 345.60,393.40 345.69,394.00 345.78,394.60 345.86,395.20 345.95,395.80 346.03,396.40 346.12,397.00 346.20,397.60 346.28,398.20 346.37,398.80 346.45,399.40 346.54,400.00 346.61,400.60 346.64,401.20 346.65,401.80 346.65,402.40 346.65,403.00 346.65,403.60 346.65,404.20 346.65,404.80 346.64,405.40 346.57,406.00 346.36,406.60 346.05,407.20 345.72,407.80 345.39,408.40 345.06,409.00 344.73,409.60 344.41,410.20 344.08,410.80 343.75,411.40 343.19,412.00 342.64,412.60 342.08,413.20 341.52,413.80 340.96,414.40 340.41,415.00 339.85,415.60Z" fill="#e89c98" stroke="#231f20" stroke-width="0.7" stroke-linejoin="round"/>
<path d="M372.70,343.25 371.93,342.65 371.17,342.05 370.40,341.45 369.64,340.85 368.91,340.25 368.37,339.65 367.83,339.05 367.28,338.45 366.75,337.85 366.25,337.25 366.19,336.65 366.16,336.05 366.14,335.45 366.13,334.85 366.12,334.25 366.14,333.65 366.19,333.05 366.25,332.45 366.31,331.85 366.36,331.25 366.42,330.65 366.48,330.05 366.53,329.45 366.59,328.85 366.64,328.25 366.70,327.65 366.75,327.05 366.81,326.45 366.86,325.85 366.91,325.25 366.96,324.65 367.02,324.05 367.07,323.45 367.12,322.85 367.17,322.25 367.23,321.65 367.28,321.05 367.31,320.45 367.31,319.85 367.27,319.25 367.23,318.65 367.18,318.05 367.13,317.45 367.09,316.85 367.04,316.25 366.99,315.65 366.95,315.05 366.90,314.45 366.85,313.85 366.81,313.25 366.76,312.65 366.70,312.05 366.59,311.45 366.46,310.85 366.33,310.25 366.21,309.65 366.09,309.05 365.99,308.45 365.90,307.85 365.82,307.25 365.74,306.65 365.68,306.05 365.63,305.45 365.59,304.85 365.56,304.25 365.54,303.65 365.53,303.05 365.52,302.45 365.52,301.85 365.52,301.25 365.52,300.65 365.51,300.05 365.51,299.45 365.51,298.85 365.51,298.25 365.51,297.65 365.51,297.05 365.51,296.45 365.50,295.85 365.50,295.25 365.50,294.65 365.50,294.05 365.50,293.85 365.50,294.05 365.50,294.65 365.50,295.25 365.50,295.85 365.49,296.45 365.49,297.05 365.49,297.65 365.49,298.25 365.49,298.85 365.49,299.45 365.49,300.05 365.48,300.65 365.48,301.25 365.48,301.85 365.48,302.45 365.47,303.05 365.46,303.65 365.44,304.25 365.41,304.85 365.37,305.45 365.32,306.05 365.26,306.65 365.18,307.25 365.10,307.85 365.01,308.45 364.91,309.05 364.79,309.65 364.67,310.25 364.54,310.85 364.41,311.45 364.30,312.05 364.24,312.65 364.19,313.25 364.15,313.85 364.10,314.45 364.05,315.05 364.01,315.65 363.96,316.25 363.91,316.85 363.87,317.45 363.82,318.05 363.77,318.65 363.73,319.25 363.69,319.85 363.69,320.45 363.72,321.05 363.77,321.65 363.83,322.25 363.88,322.85 363.93,323.45 363.98,324.05 364.04,324.65 364.09,325.25 364.14,325.85 364.19,326.45 364.25,327.05 364.30,327.65 364.36,328.25 364.41,328.85 364.47,329.45 364.52,330.05 364.58,330.65 364.64,331.25 364.69,331.85 364.75,332.45 364.81,333.05 364.86,333.65 364.88,334.25 364.87,334.85 364.86,335.45 364.84,336.05 364.81,336.65 364.75,337.25 364.25,337.85 363.72,338.45 363.17,339.05 362.63,339.65 362.09,340.25 361.36,340.85 360.60,341.45 359.83,342.05 359.07,342.65 358.30,343.25Z" fill="#c4a6d8" stroke="#231f20" stroke-width="0.7" stroke-linejoin="round"/>
<path d="M372.90,415.60 372.27,415.00 371.64,414.40 371.01,413.80 370.39,413.20 369.76,412.60 369.13,412.00 368.50,411.40 368.09,410.80 367.68,410.20 367.26,409.60 366.85,409.00 366.50,408.40 366.51,407.80 366.72,407.20 366.96,406.60 367.21,406.00 367.46,405.40 367.71,404.80 367.96,404.20 368.21,403.60 368.44,403.00 368.64,402.40 368.81,401.80 368.98,401.20 369.15,400.60 369.32,400.00 369.49,399.40 369.66,398.80 369.83,398.20 370.00,397.60 370.17,397.00 370.34,396.40 370.48,395.80 370.54,395.20 370.50,394.60 370.43,394.00 370.36,393.40 370.29,392.80 370.22,392.20 370.15,391.60 370.08,391.00 370.01,390.40 369.94,389.80 369.87,389.20 369.80,388.60 369.73,388.00 369.66,387.40 369.59,386.80 369.51,386.20 369.40,385.60 369.26,385.00 369.12,384.40 368.98,383.80 368.84,383.20 368.70,382.60 368.56,382.00 368.42,381.40 368.28,380.80 368.14,380.20 367.99,379.60 367.85,379.00 367.71,378.40 367.56,377.80 367.38,377.20 367.18,376.60 366.97,376.00 366.78,375.40 366.60,374.80 366.44,374.20 366.29,373.60 366.15,373.00 366.03,372.40 365.92,371.80 365.82,371.20 365.74,370.60 365.67,370.00 365.62,369.40 365.58,368.80 365.55,368.20 365.53,367.60 365.52,367.00 365.52,366.40 365.52,365.80 365.52,365.20 365.51,364.60 365.51,364.00 365.51,363.40 365.51,362.80 365.51,362.20 365.51,361.60 365.51,361.00 365.51,360.40 365.50,359.80 365.50,359.20 365.50,358.60 365.50,358.00 365.50,358.60 365.50,359.20 365.50,359.80 365.49,360.40 365.49,361.00 365.49,361.60 365.49,362.20 365.49,362.80 365.49,363.40 365.49,364.00 365.49,364.60 365.48,365.20 365.48,365.80 365.48,366.40 365.48,367.00 365.47,367.60 365.45,368.20 365.42,368.80 365.38,369.40 365.33,370.00 365.26,370.60 365.18,371.20 365.08,371.80 364.97,372.40 364.85,373.00 364.71,373.60 364.56,374.20 364.40,374.80 364.22,375.40 364.03,376.00 363.82,376.60 363.62,377.20 363.44,377.80 363.29,378.40 363.15,379.00 363.01,379.60 362.86,380.20 362.72,380.80 362.58,381.40 362.44,382.00 362.30,382.60 362.16,383.20 362.02,383.80 361.88,384.40 361.74,385.00 361.60,385.60 361.49,386.20 361.41,386.80 361.34,387.40 361.27,388.00 361.20,388.60 361.13,389.20 361.06,389.80 360.99,390.40 360.92,391.00 360.85,391.60 360.78,392.20 360.71,392.80 360.64,393.40 360.57,394.00 360.50,394.60 360.46,395.20 360.52,395.80 360.66,396.40 360.83,397.00 361.00,397.60 361.17,398.20 361.34,398.80 361.51,399.40 361.68,400.00 361.85,400.60 362.02,401.20 362.19,401.80 362.36,402.40 362.56,403.00 362.79,403.60 363.04,404.20 363.29,404.80 363.54,405.40 363.79,406.00 364.04,406.60 364.28,407.20 364.49,407.80 364.50,408.40 364.15,409.00 363.74,409.60 363.32,410.20 362.91,410.80 362.50,411.40 361.87,412.00 361.24,412.60 360.61,413.20 359.99,413.80 359.36,414.40 358.73,415.00 358.10,415.60Z" fill="#c4a6d8" stroke="#231f20" stroke-width="0.7" stroke-linejoin="round"/>
<path d="M390.55,343.25 389.76,342.65 388.98,342.05 388.19,341.45 387.41,340.85 386.70,340.25 386.42,339.65 386.13,339.05 385.86,338.45 386.10,337.85 386.58,337.25 387.08,336.65 387.58,336.05 388.08,335.45 388.58,334.85 389.03,334.25 389.33,333.65 389.53,333.05 389.70,332.45 389.87,331.85 390.04,331.25 390.21,330.65 390.38,330.05 390.54,329.45 390.71,328.85 390.87,328.25 390.94,327.65 390.85,327.05 390.68,326.45 390.49,325.85 390.30,325.25 390.12,324.65 389.93,324.05 389.74,323.45 389.56,322.85 389.37,322.25 389.19,321.65 389.00,321.05 388.80,320.45 388.58,319.85 388.34,319.25 388.10,318.65 387.86,318.05 387.61,317.45 387.37,316.85 387.13,316.25 386.89,315.65 386.64,315.05 386.40,314.45 386.16,313.85 385.92,313.25 385.70,312.65 385.51,312.05 385.33,311.45 385.16,310.85 385.00,310.25 384.85,309.65 384.72,309.05 384.59,308.45 384.47,307.85 384.36,307.25 384.26,306.65 384.17,306.05 384.08,305.45 384.01,304.85 383.95,304.25 383.90,303.65 383.85,303.05 383.82,302.45 383.80,301.85 383.78,301.25 383.77,300.65 383.77,300.05 383.77,299.45 383.77,298.85 383.77,298.25 383.77,297.65 383.77,297.05 383.76,296.45 383.76,295.85 383.76,295.25 383.76,294.65 383.76,294.05 383.76,293.45 383.76,292.85 383.76,292.25 383.76,291.65 383.76,291.05 383.76,290.45 383.76,289.85 383.76,289.25 383.76,288.65 383.75,288.05 383.75,287.45 383.75,286.85 383.75,286.25 383.75,285.65 383.75,285.05 383.75,284.45 383.75,284.35 383.75,284.45 383.75,285.05 383.75,285.65 383.75,286.25 383.75,286.85 383.75,287.45 383.75,288.05 383.74,288.65 383.74,289.25 383.74,289.85 383.74,290.45 383.74,291.05 383.74,291.65 383.74,292.25 383.74,292.85 383.74,293.45 383.74,294.05 383.74,294.65 383.74,295.25 383.74,295.85 383.74,296.45 383.73,297.05 383.73,297.65 383.73,298.25 383.73,298.85 383.73,299.45 383.73,300.05 383.73,300.65 383.72,301.25 383.70,301.85 383.68,302.45 383.65,303.05 383.60,303.65 383.55,304.25 383.49,304.85 383.42,305.45 383.33,306.05 383.24,306.65 383.14,307.25 383.03,307.85 382.91,308.45 382.78,309.05 382.65,309.65 382.50,310.25 382.34,310.85 382.17,311.45 381.99,312.05 381.80,312.65 381.58,313.25 381.34,313.85 381.10,314.45 380.86,315.05 380.61,315.65 380.37,316.25 380.13,316.85 379.89,317.45 379.64,318.05 379.40,318.65 379.16,319.25 378.92,319.85 378.70,320.45 378.50,321.05 378.31,321.65 378.13,322.25 377.94,322.85 377.76,323.45 377.57,324.05 377.38,324.65 377.20,325.25 377.01,325.85 376.82,326.45 376.65,327.05 376.56,327.65 376.63,328.25 376.79,328.85 376.96,329.45 377.12,330.05 377.29,330.65 377.46,331.25 377.63,331.85 377.80,332.45 377.97,333.05 378.17,333.65 378.47,334.25 378.92,334.85 379.42,335.45 379.92,336.05 380.42,336.65 380.92,337.25 381.40,337.85 381.64,338.45 381.37,339.05 381.08,339.65 380.80,340.25 380.09,340.85 379.31,341.45 378.52,342.05 377.74,342.65 376.95,343.25Z" fill="#73308f" stroke="#231f20" stroke-width="0.7" stroke-linejoin="round"/>
<path d="M384.75,415.60 384.64,415.00 384.52,414.40 384.41,413.80 384.35,413.20 384.35,412.60 384.35,412.00 384.35,411.40 384.35,410.80 384.39,410.20 384.54,409.60 384.69,409.00 384.85,408.40 385.01,407.80 385.17,407.20 385.33,406.60 385.49,406.00 385.65,405.40 385.85,404.80 386.08,404.20 386.33,403.60 386.58,403.00 386.83,402.40 387.08,401.80 387.33,401.20 387.58,400.60 387.83,400.00 388.08,399.40 388.33,398.80 388.58,398.20 388.83,397.60 389.07,397.00 389.28,396.40 389.45,395.80 389.61,395.20 389.76,394.60 389.92,394.00 390.07,393.40 390.23,392.80 390.38,392.20 390.53,391.60 390.69,391.00 390.84,390.40 390.98,389.80 391.03,389.20 390.91,388.60 390.70,388.00 390.48,387.40 390.25,386.80 390.02,386.20 389.80,385.60 389.57,385.00 389.35,384.40 389.12,383.80 388.90,383.20 388.67,382.60 388.43,382.00 388.19,381.40 387.96,380.80 387.72,380.20 387.48,379.60 387.24,379.00 387.00,378.40 386.77,377.80 386.53,377.20 386.27,376.60 385.97,376.00 385.65,375.40 385.36,374.80 385.08,374.20 384.84,373.60 384.62,373.00 384.42,372.40 384.26,371.80 384.11,371.20 384.00,370.60 383.90,370.00 383.84,369.40 383.80,368.80 383.78,368.20 383.77,367.60 383.77,367.00 383.76,366.40 383.76,365.80 383.76,365.20 383.76,364.60 383.76,364.00 383.76,363.40 383.75,362.80 383.75,362.20 383.75,361.60 383.75,361.10 383.75,361.60 383.75,362.20 383.75,362.80 383.74,363.40 383.74,364.00 383.74,364.60 383.74,365.20 383.74,365.80 383.74,366.40 383.73,367.00 383.73,367.60 383.72,368.20 383.70,368.80 383.66,369.40 383.60,370.00 383.50,370.60 383.39,371.20 383.24,371.80 383.08,372.40 382.88,373.00 382.66,373.60 382.42,374.20 382.14,374.80 381.85,375.40 381.53,376.00 381.23,376.60 380.97,377.20 380.73,377.80 380.50,378.40 380.26,379.00 380.02,379.60 379.78,380.20 379.54,380.80 379.31,381.40 379.07,382.00 378.83,382.60 378.60,383.20 378.38,383.80 378.15,384.40 377.93,385.00 377.70,385.60 377.48,386.20 377.25,386.80 377.02,387.40 376.80,388.00 376.59,388.60 376.47,389.20 376.52,389.80 376.66,390.40 376.81,391.00 376.97,391.60 377.12,392.20 377.27,392.80 377.43,393.40 377.58,394.00 377.74,394.60 377.89,395.20 378.05,395.80 378.22,396.40 378.43,397.00 378.67,397.60 378.92,398.20 379.17,398.80 379.42,399.40 379.67,400.00 379.92,400.60 380.17,401.20 380.42,401.80 380.67,402.40 380.92,403.00 381.17,403.60 381.42,404.20 381.65,404.80 381.85,405.40 382.01,406.00 382.17,406.60 382.33,407.20 382.49,407.80 382.65,408.40 382.81,409.00 382.96,409.60 383.11,410.20 383.15,410.80 383.15,411.40 383.15,412.00 383.15,412.60 383.15,413.20 383.09,413.80 382.98,414.40 382.86,415.00 382.75,415.60Z" fill="#73308f" stroke="#231f20" stroke-width="0.7" stroke-linejoin="round"/>
<path d="M408.90,343.25 408.22,342.65 407.55,342.05 406.87,341.45 406.19,340.85 405.52,340.25 404.84,339.65 404.37,339.05 404.09,338.45 403.82,337.85 403.55,337.25 403.28,336.65 403.01,336.05 402.76,335.45 402.66,334.85 402.68,334.25 402.74,333.65 402.80,333.05 402.85,332.45 402.91,331.85 402.97,331.25 403.02,330.65 403.08,330.05 403.14,329.45 403.20,328.85 403.29,328.25 403.39,327.65 403.50,327.05 403.60,326.45 403.71,325.85 403.81,325.25 403.92,324.65 404.02,324.05 404.13,323.45 404.21,322.85 404.25,322.25 404.21,321.65 404.15,321.05 404.08,320.45 404.02,319.85 403.95,319.25 403.89,318.65 403.82,318.05 403.76,317.45 403.69,316.85 403.63,316.25 403.56,315.65 403.47,315.05 403.34,314.45 403.20,313.85 403.06,313.25 402.92,312.65 402.80,312.05 402.69,311.45 402.58,310.85 402.49,310.25 402.40,309.65 402.32,309.05 402.25,308.45 402.19,307.85 402.14,307.25 402.10,306.65 402.07,306.05 402.05,305.45 402.03,304.85 402.02,304.25 402.02,303.65 402.02,303.05 402.02,302.45 402.02,301.85 402.01,301.25 402.01,300.65 402.01,300.05 402.01,299.45 402.01,298.85 402.01,298.25 402.01,297.65 402.01,297.05 402.01,296.45 402.00,295.85 402.00,295.25 402.00,294.65 402.00,294.05 402.00,293.85 402.00,294.05 402.00,294.65 402.00,295.25 402.00,295.85 401.99,296.45 401.99,297.05 401.99,297.65 401.99,298.25 401.99,298.85 401.99,299.45 401.99,300.05 401.99,300.65 401.99,301.25 401.98,301.85 401.98,302.45 401.98,303.05 401.98,303.65 401.98,304.25 401.97,304.85 401.95,305.45 401.93,306.05 401.90,306.65 401.86,307.25 401.81,307.85 401.75,308.45 401.68,309.05 401.60,309.65 401.51,310.25 401.42,310.85 401.31,311.45 401.20,312.05 401.08,312.65 400.94,313.25 400.80,313.85 400.66,314.45 400.53,315.05 400.44,315.65 400.37,316.25 400.31,316.85 400.24,317.45 400.18,318.05 400.11,318.65 400.05,319.25 399.98,319.85 399.92,320.45 399.85,321.05 399.79,321.65 399.75,322.25 399.79,322.85 399.87,323.45 399.98,324.05 400.08,324.65 400.19,325.25 400.29,325.85 400.40,326.45 400.50,327.05 400.61,327.65 400.71,328.25 400.80,328.85 400.86,329.45 400.92,330.05 400.98,330.65 401.03,331.25 401.09,331.85 401.15,332.45 401.20,333.05 401.26,333.65 401.32,334.25 401.34,334.85 401.24,335.45 400.99,336.05 400.72,336.65 400.45,337.25 400.18,337.85 399.91,338.45 399.63,339.05 399.16,339.65 398.48,340.25 397.81,340.85 397.13,341.45 396.45,342.05 395.78,342.65 395.10,343.25Z" fill="#2e1a7a" stroke="#231f20" stroke-width="0.7" stroke-linejoin="round"/>
<path d="M409.00,415.60 408.50,415.00 408.00,414.40 407.50,413.80 407.00,413.20 406.50,412.60 406.00,412.00 405.50,411.40 405.06,410.80 404.62,410.20 404.19,409.60 403.75,409.00 403.32,408.40 402.97,407.80 402.95,407.20 403.07,406.60 403.23,406.00 403.38,405.40 403.52,404.80 403.68,404.20 403.82,403.60 403.97,403.00 404.11,402.40 404.25,401.80 404.38,401.20 404.51,400.60 404.65,400.00 404.78,399.40 404.92,398.80 405.05,398.20 405.18,397.60 405.32,397.00 405.45,396.40 405.59,395.80 405.72,395.20 405.83,394.60 405.88,394.00 405.88,393.40 405.86,392.80 405.85,392.20 405.83,391.60 405.82,391.00 405.79,390.40 405.72,389.80 405.63,389.20 405.53,388.60 405.43,388.00 405.32,387.40 405.22,386.80 405.12,386.20 405.02,385.60 404.92,385.00 404.82,384.40 404.71,383.80 404.61,383.20 404.51,382.60 404.41,382.00 404.31,381.40 404.20,380.80 404.10,380.20 403.97,379.60 403.81,379.00 403.62,378.40 403.45,377.80 403.28,377.20 403.12,376.60 402.98,376.00 402.84,375.40 402.72,374.80 402.61,374.20 402.50,373.60 402.41,373.00 402.32,372.40 402.25,371.80 402.19,371.20 402.14,370.60 402.09,370.00 402.06,369.40 402.04,368.80 402.03,368.20 402.02,367.60 402.02,367.00 402.02,366.40 402.01,365.80 402.01,365.20 402.01,364.60 402.01,364.00 402.01,363.40 402.01,362.80 402.01,362.20 402.00,361.60 402.00,361.00 402.00,360.40 402.00,360.10 402.00,360.40 402.00,361.00 402.00,361.60 401.99,362.20 401.99,362.80 401.99,363.40 401.99,364.00 401.99,364.60 401.99,365.20 401.99,365.80 401.98,366.40 401.98,367.00 401.98,367.60 401.97,368.20 401.96,368.80 401.94,369.40 401.91,370.00 401.86,370.60 401.81,371.20 401.75,371.80 401.68,372.40 401.59,373.00 401.50,373.60 401.39,374.20 401.28,374.80 401.16,375.40 401.02,376.00 400.88,376.60 400.72,377.20 400.55,377.80 400.38,378.40 400.19,379.00 400.03,379.60 399.90,380.20 399.80,380.80 399.69,381.40 399.59,382.00 399.49,382.60 399.39,383.20 399.29,383.80 399.18,384.40 399.08,385.00 398.98,385.60 398.88,386.20 398.78,386.80 398.68,387.40 398.57,388.00 398.47,388.60 398.37,389.20 398.28,389.80 398.21,390.40 398.18,391.00 398.17,391.60 398.15,392.20 398.14,392.80 398.12,393.40 398.12,394.00 398.17,394.60 398.28,395.20 398.41,395.80 398.55,396.40 398.68,397.00 398.82,397.60 398.95,398.20 399.08,398.80 399.22,399.40 399.35,400.00 399.49,400.60 399.62,401.20 399.75,401.80 399.89,402.40 400.03,403.00 400.18,403.60 400.32,404.20 400.48,404.80 400.62,405.40 400.77,406.00 400.93,406.60 401.05,407.20 401.03,407.80 400.68,408.40 400.25,409.00 399.81,409.60 399.38,410.20 398.94,410.80 398.50,411.40 398.00,412.00 397.50,412.60 397.00,413.20 396.50,413.80 396.00,414.40 395.50,415.00 395.00,415.60Z" fill="#2e1a7a" stroke="#231f20" stroke-width="0.7" stroke-linejoin="round"/>
<path d="M427.45,343.25 426.80,342.65 426.16,342.05 425.51,341.45 424.87,340.85 424.22,340.25 423.57,339.65 423.08,339.05 422.74,338.45 422.39,337.85 422.05,337.25 421.71,336.65 421.36,336.05 421.05,335.45 420.91,334.85 420.93,334.25 420.99,333.65 421.05,333.05 421.10,332.45 421.16,331.85 421.22,331.25 421.27,330.65 421.33,330.05 421.39,329.45 421.45,328.85 421.53,328.25 421.61,327.65 421.70,327.05 421.79,326.45 421.88,325.85 421.97,325.25 422.06,324.65 422.15,324.05 422.24,323.45 422.33,322.85 422.42,322.25 422.49,321.65 422.50,321.05 422.45,320.45 422.39,319.85 422.32,319.25 422.26,318.65 422.19,318.05 422.13,317.45 422.06,316.85 422.00,316.25 421.93,315.65 421.87,315.05 421.80,314.45 421.69,313.85 421.54,313.25 421.38,312.65 421.22,312.05 421.08,311.45 420.95,310.85 420.83,310.25 420.72,309.65 420.62,309.05 420.54,308.45 420.46,307.85 420.40,307.25 420.35,306.65 420.32,306.05 420.29,305.45 420.28,304.85 420.27,304.25 420.27,303.65 420.27,303.05 420.27,302.45 420.27,301.85 420.26,301.25 420.26,300.65 420.26,300.05 420.26,299.45 420.26,298.85 420.26,298.25 420.26,297.65 420.26,297.05 420.26,296.45 420.26,295.85 420.25,295.25 420.25,294.65 420.25,294.05 420.25,293.45 420.25,292.85 420.25,292.25 420.25,292.85 420.25,293.45 420.25,294.05 420.25,294.65 420.25,295.25 420.24,295.85 420.24,296.45 420.24,297.05 420.24,297.65 420.24,298.25 420.24,298.85 420.24,299.45 420.24,300.05 420.24,300.65 420.24,301.25 420.23,301.85 420.23,302.45 420.23,303.05 420.23,303.65 420.23,304.25 420.22,304.85 420.21,305.45 420.18,306.05 420.15,306.65 420.10,307.25 420.04,307.85 419.96,308.45 419.88,309.05 419.78,309.65 419.67,310.25 419.55,310.85 419.42,311.45 419.28,312.05 419.12,312.65 418.96,313.25 418.81,313.85 418.70,314.45 418.63,315.05 418.57,315.65 418.50,316.25 418.44,316.85 418.37,317.45 418.31,318.05 418.24,318.65 418.18,319.25 418.11,319.85 418.05,320.45 418.00,321.05 418.01,321.65 418.08,322.25 418.17,322.85 418.26,323.45 418.35,324.05 418.44,324.65 418.53,325.25 418.62,325.85 418.71,326.45 418.80,327.05 418.89,327.65 418.97,328.25 419.05,328.85 419.11,329.45 419.17,330.05 419.23,330.65 419.28,331.25 419.34,331.85 419.40,332.45 419.45,333.05 419.51,333.65 419.57,334.25 419.59,334.85 419.45,335.45 419.14,336.05 418.79,336.65 418.45,337.25 418.11,337.85 417.76,338.45 417.42,339.05 416.93,339.65 416.28,340.25 415.63,340.85 414.99,341.45 414.34,342.05 413.70,342.65 413.05,343.25Z" fill="#e6df3a" stroke="#231f20" stroke-width="0.7" stroke-linejoin="round"/>
<path d="M427.65,415.60 427.01,415.00 426.38,414.40 425.74,413.80 425.10,413.20 424.46,412.60 423.93,412.00 423.44,411.40 422.96,410.80 422.48,410.20 422.01,409.60 421.72,409.00 421.61,408.40 421.52,407.80 421.42,407.20 421.34,406.60 421.35,406.00 421.47,405.40 421.66,404.80 421.84,404.20 422.03,403.60 422.22,403.00 422.41,402.40 422.59,401.80 422.78,401.20 422.97,400.60 423.15,400.00 423.31,399.40 423.45,398.80 423.58,398.20 423.72,397.60 423.85,397.00 423.99,396.40 424.12,395.80 424.25,395.20 424.39,394.60 424.52,394.00 424.65,393.40 424.78,392.80 424.85,392.20 424.86,391.60 424.83,391.00 424.80,390.40 424.77,389.80 424.73,389.20 424.70,388.60 424.67,388.00 424.64,387.40 424.61,386.80 424.57,386.20 424.54,385.60 424.51,385.00 424.47,384.40 424.41,383.80 424.32,383.20 424.22,382.60 424.11,382.00 424.00,381.40 423.90,380.80 423.79,380.20 423.68,379.60 423.57,379.00 423.47,378.40 423.36,377.80 423.25,377.20 423.14,376.60 423.04,376.00 422.93,375.40 422.80,374.80 422.62,374.20 422.36,373.60 422.08,373.00 421.82,372.40 421.58,371.80 421.36,371.20 421.16,370.60 420.98,370.00 420.83,369.40 420.69,368.80 420.57,368.20 420.47,367.60 420.40,367.00 420.34,366.40 420.30,365.80 420.28,365.20 420.27,364.60 420.27,364.00 420.27,363.40 420.26,362.80 420.26,362.20 420.26,361.60 420.26,361.00 420.26,360.40 420.26,359.80 420.25,359.20 420.25,358.60 420.25,358.00 420.25,358.60 420.25,359.20 420.24,359.80 420.24,360.40 420.24,361.00 420.24,361.60 420.24,362.20 420.24,362.80 420.23,363.40 420.23,364.00 420.23,364.60 420.22,365.20 420.20,365.80 420.16,366.40 420.10,367.00 420.03,367.60 419.93,368.20 419.81,368.80 419.67,369.40 419.52,370.00 419.34,370.60 419.14,371.20 418.92,371.80 418.68,372.40 418.42,373.00 418.14,373.60 417.88,374.20 417.70,374.80 417.57,375.40 417.46,376.00 417.36,376.60 417.25,377.20 417.14,377.80 417.03,378.40 416.93,379.00 416.82,379.60 416.71,380.20 416.60,380.80 416.50,381.40 416.39,382.00 416.28,382.60 416.18,383.20 416.09,383.80 416.03,384.40 415.99,385.00 415.96,385.60 415.93,386.20 415.89,386.80 415.86,387.40 415.83,388.00 415.80,388.60 415.77,389.20 415.73,389.80 415.70,390.40 415.67,391.00 415.64,391.60 415.65,392.20 415.72,392.80 415.85,393.40 415.98,394.00 416.11,394.60 416.25,395.20 416.38,395.80 416.51,396.40 416.65,397.00 416.78,397.60 416.92,398.20 417.05,398.80 417.19,399.40 417.35,400.00 417.53,400.60 417.72,401.20 417.91,401.80 418.09,402.40 418.28,403.00 418.47,403.60 418.66,404.20 418.84,404.80 419.03,405.40 419.15,406.00 419.16,406.60 419.08,407.20 418.98,407.80 418.89,408.40 418.78,409.00 418.49,409.60 418.02,410.20 417.54,410.80 417.06,411.40 416.57,412.00 416.04,412.60 415.40,413.20 414.76,413.80 414.12,414.40 413.49,415.00 412.85,415.60Z" fill="#e6df3a" stroke="#231f20" stroke-width="0.7" stroke-linejoin="round"/>
<path d="M445.50,343.25 444.79,342.65 444.09,342.05 443.38,341.45 442.68,340.85 441.97,340.25 441.37,339.65 440.98,339.05 440.59,338.45 440.20,337.85 439.81,337.25 439.44,336.65 439.19,336.05 439.26,335.45 439.38,334.85 439.51,334.25 439.64,333.65 439.76,333.05 439.90,332.45 440.04,331.85 440.20,331.25 440.37,330.65 440.53,330.05 440.70,329.45 440.87,328.85 441.04,328.25 441.21,327.65 441.38,327.05 441.55,326.45 441.68,325.85 441.69,325.25 441.58,324.65 441.44,324.05 441.29,323.45 441.14,322.85 441.00,322.25 440.85,321.65 440.71,321.05 440.56,320.45 440.41,319.85 440.27,319.25 440.12,318.65 439.97,318.05 439.81,317.45 439.66,316.85 439.51,316.25 439.38,315.65 439.25,315.05 439.14,314.45 439.03,313.85 438.94,313.25 438.85,312.65 438.78,312.05 438.71,311.45 438.66,310.85 438.61,310.25 438.58,309.65 438.55,309.05 438.53,308.45 438.52,307.85 438.52,307.25 438.52,306.65 438.52,306.05 438.52,305.45 438.52,304.85 438.51,304.25 438.51,303.65 438.51,303.05 438.51,302.45 438.51,301.85 438.51,301.25 438.51,300.65 438.51,300.05 438.51,299.45 438.50,298.85 438.50,298.25 438.50,297.65 438.50,297.05 438.50,296.45 438.50,295.95 438.50,296.45 438.50,297.05 438.50,297.65 438.50,298.25 438.50,298.85 438.49,299.45 438.49,300.05 438.49,300.65 438.49,301.25 438.49,301.85 438.49,302.45 438.49,303.05 438.49,303.65 438.49,304.25 438.48,304.85 438.48,305.45 438.48,306.05 438.48,306.65 438.48,307.25 438.48,307.85 438.47,308.45 438.45,309.05 438.42,309.65 438.39,310.25 438.34,310.85 438.29,311.45 438.22,312.05 438.15,312.65 438.06,313.25 437.97,313.85 437.86,314.45 437.75,315.05 437.62,315.65 437.49,316.25 437.34,316.85 437.19,317.45 437.03,318.05 436.88,318.65 436.73,319.25 436.59,319.85 436.44,320.45 436.29,321.05 436.15,321.65 436.00,322.25 435.86,322.85 435.71,323.45 435.56,324.05 435.42,324.65 435.31,325.25 435.32,325.85 435.45,326.45 435.62,327.05 435.79,327.65 435.96,328.25 436.13,328.85 436.30,329.45 436.47,330.05 436.63,330.65 436.80,331.25 436.96,331.85 437.10,332.45 437.24,333.05 437.36,333.65 437.49,334.25 437.62,334.85 437.74,335.45 437.81,336.05 437.56,336.65 437.19,337.25 436.80,337.85 436.41,338.45 436.02,339.05 435.63,339.65 435.03,340.25 434.32,340.85 433.62,341.45 432.91,342.05 432.21,342.65 431.50,343.25Z" fill="#e57c17" stroke="#231f20" stroke-width="0.7" stroke-linejoin="round"/>
<path d="M445.50,415.60 444.93,415.00 444.36,414.40 443.79,413.80 443.21,413.20 442.64,412.60 442.07,412.00 441.50,411.40 441.22,410.80 440.94,410.20 440.66,409.60 440.38,409.00 440.16,408.40 440.28,407.80 440.60,407.20 440.95,406.60 441.31,406.00 441.67,405.40 442.02,404.80 442.37,404.20 442.69,403.60 442.99,403.00 443.28,402.40 443.57,401.80 443.87,401.20 444.16,400.60 444.40,400.00 444.48,399.40 444.40,398.80 444.27,398.20 444.14,397.60 444.00,397.00 443.87,396.40 443.74,395.80 443.61,395.20 443.47,394.60 443.34,394.00 443.21,393.40 443.07,392.80 442.94,392.20 442.81,391.60 442.68,391.00 442.54,390.40 442.40,389.80 442.26,389.20 442.12,388.60 441.98,388.00 441.83,387.40 441.69,386.80 441.55,386.20 441.40,385.60 441.26,385.00 441.12,384.40 440.98,383.80 440.83,383.20 440.69,382.60 440.53,382.00 440.33,381.40 440.11,380.80 439.89,380.20 439.69,379.60 439.51,379.00 439.34,378.40 439.18,377.80 439.05,377.20 438.93,376.60 438.82,376.00 438.73,375.40 438.66,374.80 438.60,374.20 438.56,373.60 438.54,373.00 438.52,372.40 438.52,371.80 438.52,371.20 438.51,370.60 438.51,370.00 438.51,369.40 438.51,368.80 438.51,368.20 438.51,367.60 438.50,367.00 438.50,366.40 438.50,365.80 438.50,365.40 438.50,365.80 438.50,366.40 438.50,367.00 438.49,367.60 438.49,368.20 438.49,368.80 438.49,369.40 438.49,370.00 438.49,370.60 438.48,371.20 438.48,371.80 438.48,372.40 438.46,373.00 438.44,373.60 438.40,374.20 438.34,374.80 438.27,375.40 438.18,376.00 438.07,376.60 437.95,377.20 437.82,377.80 437.66,378.40 437.49,379.00 437.31,379.60 437.11,380.20 436.89,380.80 436.67,381.40 436.47,382.00 436.31,382.60 436.17,383.20 436.02,383.80 435.88,384.40 435.74,385.00 435.60,385.60 435.45,386.20 435.31,386.80 435.17,387.40 435.02,388.00 434.88,388.60 434.74,389.20 434.60,389.80 434.46,390.40 434.32,391.00 434.19,391.60 434.06,392.20 433.93,392.80 433.79,393.40 433.66,394.00 433.53,394.60 433.39,395.20 433.26,395.80 433.13,396.40 433.00,397.00 432.86,397.60 432.73,398.20 432.60,398.80 432.52,399.40 432.60,400.00 432.84,400.60 433.13,401.20 433.43,401.80 433.72,402.40 434.01,403.00 434.31,403.60 434.63,404.20 434.98,404.80 435.33,405.40 435.69,406.00 436.05,406.60 436.40,407.20 436.72,407.80 436.84,408.40 436.62,409.00 436.34,409.60 436.06,410.20 435.78,410.80 435.50,411.40 434.93,412.00 434.36,412.60 433.79,413.20 433.21,413.80 432.64,414.40 432.07,415.00 431.50,415.60Z" fill="#e57c17" stroke="#231f20" stroke-width="0.7" stroke-linejoin="round"/>
<path d="M463.75,343.25 463.13,342.65 462.52,342.05 461.90,341.45 461.29,340.85 460.67,340.25 460.06,339.65 459.58,339.05 459.24,338.45 458.89,337.85 458.55,337.25 458.21,336.65 457.86,336.05 457.55,335.45 457.42,334.85 457.46,334.25 457.53,333.65 457.60,333.05 457.67,332.45 457.75,331.85 457.82,331.25 457.89,330.65 457.96,330.05 458.03,329.45 458.11,328.85 458.18,328.25 458.24,327.65 458.30,327.05 458.35,326.45 458.40,325.85 458.44,325.25 458.49,324.65 458.54,324.05 458.59,323.45 458.64,322.85 458.69,322.25 458.74,321.65 458.78,321.05 458.82,320.45 458.82,319.85 458.79,319.25 458.76,318.65 458.72,318.05 458.69,317.45 458.66,316.85 458.62,316.25 458.59,315.65 458.55,315.05 458.52,314.45 458.48,313.85 458.45,313.25 458.42,312.65 458.38,312.05 458.35,311.45 458.31,310.85 458.27,310.25 458.18,309.65 458.04,309.05 457.87,308.45 457.71,307.85 457.57,307.25 457.43,306.65 457.31,306.05 457.20,305.45 457.10,304.85 457.02,304.25 456.95,303.65 456.89,303.05 456.84,302.45 456.81,301.85 456.79,301.25 456.78,300.65 456.77,300.05 456.77,299.45 456.77,298.85 456.76,298.25 456.76,297.65 456.76,297.05 456.76,296.45 456.76,295.85 456.75,295.25 456.75,294.65 456.75,294.05 456.75,293.85 456.75,294.05 456.75,294.65 456.75,295.25 456.74,295.85 456.74,296.45 456.74,297.05 456.74,297.65 456.74,298.25 456.73,298.85 456.73,299.45 456.73,300.05 456.72,300.65 456.71,301.25 456.69,301.85 456.66,302.45 456.61,303.05 456.55,303.65 456.48,304.25 456.40,304.85 456.30,305.45 456.19,306.05 456.07,306.65 455.93,307.25 455.79,307.85 455.63,308.45 455.46,309.05 455.32,309.65 455.23,310.25 455.19,310.85 455.15,311.45 455.12,312.05 455.08,312.65 455.05,313.25 455.02,313.85 454.98,314.45 454.95,315.05 454.91,315.65 454.88,316.25 454.84,316.85 454.81,317.45 454.78,318.05 454.74,318.65 454.71,319.25 454.68,319.85 454.68,320.45 454.72,321.05 454.76,321.65 454.81,322.25 454.86,322.85 454.91,323.45 454.96,324.05 455.01,324.65 455.06,325.25 455.10,325.85 455.15,326.45 455.20,327.05 455.26,327.65 455.32,328.25 455.39,328.85 455.47,329.45 455.54,330.05 455.61,330.65 455.68,331.25 455.75,331.85 455.83,332.45 455.90,333.05 455.97,333.65 456.04,334.25 456.08,334.85 455.95,335.45 455.64,336.05 455.29,336.65 454.95,337.25 454.61,337.85 454.26,338.45 453.92,339.05 453.44,339.65 452.83,340.25 452.21,340.85 451.60,341.45 450.98,342.05 450.37,342.65 449.75,343.25Z" fill="#d21f35" stroke="#231f20" stroke-width="0.7" stroke-linejoin="round"/>
<path d="M463.75,415.60 463.25,415.00 462.75,414.40 462.25,413.80 461.75,413.20 461.25,412.60 460.75,412.00 460.25,411.40 459.87,410.80 459.50,410.20 459.12,409.60 458.74,409.00 458.37,408.40 458.00,407.80 457.71,407.20 457.69,406.60 457.80,406.00 457.94,405.40 458.08,404.80 458.22,404.20 458.36,403.60 458.50,403.00 458.63,402.40 458.77,401.80 458.91,401.20 459.04,400.60 459.18,400.00 459.32,399.40 459.45,398.80 459.59,398.20 459.72,397.60 459.86,397.00 460.00,396.40 460.13,395.80 460.27,395.20 460.38,394.60 460.42,394.00 460.42,393.40 460.41,392.80 460.39,392.20 460.37,391.60 460.36,391.00 460.34,390.40 460.33,389.80 460.31,389.20 460.29,388.60 460.28,388.00 460.25,387.40 460.20,386.80 460.11,386.20 460.00,385.60 459.89,385.00 459.79,384.40 459.68,383.80 459.57,383.20 459.46,382.60 459.36,382.00 459.25,381.40 459.14,380.80 459.04,380.20 458.93,379.60 458.81,379.00 458.65,378.40 458.45,377.80 458.24,377.20 458.04,376.60 457.86,376.00 457.69,375.40 457.54,374.80 457.40,374.20 457.27,373.60 457.16,373.00 457.06,372.40 456.98,371.80 456.91,371.20 456.86,370.60 456.82,370.00 456.79,369.40 456.78,368.80 456.77,368.20 456.77,367.60 456.76,367.00 456.76,366.40 456.76,365.80 456.76,365.20 456.76,364.60 456.75,364.00 456.75,363.40 456.75,362.80 456.75,362.70 456.75,362.80 456.75,363.40 456.75,364.00 456.74,364.60 456.74,365.20 456.74,365.80 456.74,366.40 456.74,367.00 456.73,367.60 456.73,368.20 456.72,368.80 456.71,369.40 456.68,370.00 456.64,370.60 456.59,371.20 456.52,371.80 456.44,372.40 456.34,373.00 456.23,373.60 456.10,374.20 455.96,374.80 455.81,375.40 455.64,376.00 455.46,376.60 455.26,377.20 455.05,377.80 454.85,378.40 454.69,379.00 454.57,379.60 454.46,380.20 454.36,380.80 454.25,381.40 454.14,382.00 454.04,382.60 453.93,383.20 453.82,383.80 453.71,384.40 453.61,385.00 453.50,385.60 453.39,386.20 453.30,386.80 453.25,387.40 453.22,388.00 453.21,388.60 453.19,389.20 453.17,389.80 453.16,390.40 453.14,391.00 453.13,391.60 453.11,392.20 453.09,392.80 453.08,393.40 453.08,394.00 453.12,394.60 453.23,395.20 453.37,395.80 453.50,396.40 453.64,397.00 453.78,397.60 453.91,398.20 454.05,398.80 454.18,399.40 454.32,400.00 454.46,400.60 454.59,401.20 454.73,401.80 454.87,402.40 455.00,403.00 455.14,403.60 455.28,404.20 455.42,404.80 455.56,405.40 455.70,406.00 455.81,406.60 455.79,407.20 455.50,407.80 455.13,408.40 454.76,409.00 454.38,409.60 454.00,410.20 453.63,410.80 453.25,411.40 452.75,412.00 452.25,412.60 451.75,413.20 451.25,413.80 450.75,414.40 450.25,415.00 449.75,415.60Z" fill="#d21f35" stroke="#231f20" stroke-width="0.7" stroke-linejoin="round"/>
<path d="M482.00,343.25 481.46,342.65 480.92,342.05 480.38,341.45 479.85,340.85 479.31,340.25 478.77,339.65 478.27,339.05 477.80,338.45 477.33,337.85 476.86,337.25 476.41,336.65 476.15,336.05 476.34,335.45 476.61,334.85 476.89,334.25 477.17,333.65 477.44,333.05 477.69,332.45 477.92,331.85 478.15,331.25 478.38,330.65 478.60,330.05 478.83,329.45 479.06,328.85 479.29,328.25 479.52,327.65 479.72,327.05 479.80,326.45 479.76,325.85 479.66,325.25 479.56,324.65 479.45,324.05 479.35,323.45 479.25,322.85 479.14,322.25 479.04,321.65 478.94,321.05 478.83,320.45 478.71,319.85 478.59,319.25 478.46,318.65 478.33,318.05 478.20,317.45 478.07,316.85 477.94,316.25 477.81,315.65 477.69,315.05 477.56,314.45 477.43,313.85 477.30,313.25 477.17,312.65 477.00,312.05 476.74,311.45 476.42,310.85 476.12,310.25 475.85,309.65 475.62,309.05 475.43,308.45 475.27,307.85 475.16,307.25 475.08,306.65 475.04,306.05 475.02,305.45 475.02,304.85 475.01,304.25 475.01,303.65 475.01,303.05 475.01,302.45 475.00,301.85 475.00,301.25 475.00,301.85 474.99,302.45 474.99,303.05 474.99,303.65 474.99,304.25 474.98,304.85 474.98,305.45 474.96,306.05 474.92,306.65 474.84,307.25 474.73,307.85 474.57,308.45 474.38,309.05 474.15,309.65 473.88,310.25 473.58,310.85 473.26,311.45 473.00,312.05 472.83,312.65 472.70,313.25 472.57,313.85 472.44,314.45 472.31,315.05 472.19,315.65 472.06,316.25 471.93,316.85 471.80,317.45 471.67,318.05 471.54,318.65 471.41,319.25 471.29,319.85 471.17,320.45 471.06,321.05 470.96,321.65 470.86,322.25 470.75,322.85 470.65,323.45 470.55,324.05 470.44,324.65 470.34,325.25 470.24,325.85 470.20,326.45 470.28,327.05 470.48,327.65 470.71,328.25 470.94,328.85 471.17,329.45 471.40,330.05 471.62,330.65 471.85,331.25 472.08,331.85 472.31,332.45 472.56,333.05 472.83,333.65 473.11,334.25 473.39,334.85 473.66,335.45 473.85,336.05 473.59,336.65 473.14,337.25 472.67,337.85 472.20,338.45 471.73,339.05 471.23,339.65 470.69,340.25 470.15,340.85 469.62,341.45 469.08,342.05 468.54,342.65 468.00,343.25Z" fill="#7f98d4" stroke="#231f20" stroke-width="0.7" stroke-linejoin="round"/>
<path d="M481.50,415.60 481.00,415.00 480.50,414.40 480.00,413.80 479.50,413.20 479.00,412.60 478.50,412.00 478.00,411.40 477.81,410.80 477.62,410.20 477.44,409.60 477.25,409.00 477.14,408.40 477.42,407.80 477.94,407.20 478.50,406.60 479.06,406.00 479.61,405.40 480.10,404.80 480.51,404.20 480.90,403.60 481.29,403.00 481.67,402.40 482.06,401.80 482.40,401.20 482.57,400.60 482.54,400.00 482.44,399.40 482.32,398.80 482.21,398.20 482.10,397.60 481.99,397.00 481.88,396.40 481.76,395.80 481.65,395.20 481.54,394.60 481.43,394.00 481.32,393.40 481.21,392.80 481.11,392.20 481.00,391.60 480.89,391.00 480.79,390.40 480.68,389.80 480.57,389.20 480.46,388.60 480.36,388.00 480.25,387.40 480.14,386.80 480.02,386.20 479.88,385.60 479.71,385.00 479.53,384.40 479.35,383.80 479.18,383.20 479.00,382.60 478.82,382.00 478.65,381.40 478.47,380.80 478.29,380.20 478.12,379.60 477.94,379.00 477.76,378.40 477.57,377.80 477.33,377.20 477.03,376.60 476.74,376.00 476.48,375.40 476.23,374.80 476.01,374.20 475.81,373.60 475.63,373.00 475.48,372.40 475.35,371.80 475.24,371.20 475.15,370.60 475.09,370.00 475.05,369.40 475.03,368.80 475.02,368.20 475.02,367.60 475.01,367.00 475.01,366.40 475.01,365.80 475.01,365.20 475.01,364.60 475.00,364.00 475.00,363.40 475.00,362.80 475.00,362.70 475.00,362.80 475.00,363.40 475.00,364.00 474.99,364.60 474.99,365.20 474.99,365.80 474.99,366.40 474.99,367.00 474.98,367.60 474.98,368.20 474.97,368.80 474.95,369.40 474.91,370.00 474.85,370.60 474.76,371.20 474.65,371.80 474.52,372.40 474.37,373.00 474.19,373.60 473.99,374.20 473.77,374.80 473.52,375.40 473.26,376.00 472.97,376.60 472.67,377.20 472.43,377.80 472.24,378.40 472.06,379.00 471.88,379.60 471.71,380.20 471.53,380.80 471.35,381.40 471.18,382.00 471.00,382.60 470.82,383.20 470.65,383.80 470.47,384.40 470.29,385.00 470.12,385.60 469.98,386.20 469.86,386.80 469.75,387.40 469.64,388.00 469.54,388.60 469.43,389.20 469.32,389.80 469.21,390.40 469.11,391.00 469.00,391.60 468.89,392.20 468.79,392.80 468.68,393.40 468.57,394.00 468.46,394.60 468.35,395.20 468.24,395.80 468.12,396.40 468.01,397.00 467.90,397.60 467.79,398.20 467.68,398.80 467.56,399.40 467.46,400.00 467.43,400.60 467.60,401.20 467.94,401.80 468.33,402.40 468.71,403.00 469.10,403.60 469.49,404.20 469.90,404.80 470.39,405.40 470.94,406.00 471.50,406.60 472.06,407.20 472.58,407.80 472.86,408.40 472.75,409.00 472.56,409.60 472.38,410.20 472.19,410.80 472.00,411.40 471.50,412.00 471.00,412.60 470.50,413.20 470.00,413.80 469.50,414.40 469.00,415.00 468.50,415.60Z" fill="#7f98d4" stroke="#231f20" stroke-width="0.7" stroke-linejoin="round"/>
<path d="M500.25,343.25 499.63,342.65 499.02,342.05 498.40,341.45 497.79,340.85 497.17,340.25 496.56,339.65 496.14,339.05 495.91,338.45 495.69,337.85 495.46,337.25 495.24,336.65 495.01,336.05 494.79,335.45 494.56,334.85 494.34,334.25 494.12,333.65 493.96,333.05 493.91,332.45 493.94,331.85 493.99,331.25 494.04,330.65 494.09,330.05 494.13,329.45 494.18,328.85 494.23,328.25 494.28,327.65 494.33,327.05 494.38,326.45 494.43,325.85 494.50,325.25 494.60,324.65 494.69,324.05 494.79,323.45 494.89,322.85 494.99,322.25 495.08,321.65 495.18,321.05 495.28,320.45 495.37,319.85 495.47,319.25 495.56,318.65 495.60,318.05 495.57,317.45 495.51,316.85 495.45,316.25 495.38,315.65 495.32,315.05 495.25,314.45 495.19,313.85 495.12,313.25 495.06,312.65 495.00,312.05 494.93,311.45 494.87,310.85 494.80,310.25 494.68,309.65 494.52,309.05 494.34,308.45 494.17,307.85 494.01,307.25 493.87,306.65 493.75,306.05 493.64,305.45 493.54,304.85 493.46,304.25 493.40,303.65 493.34,303.05 493.31,302.45 493.28,301.85 493.27,301.25 493.27,300.65 493.27,300.05 493.27,299.45 493.26,298.85 493.26,298.25 493.26,297.65 493.26,297.05 493.26,296.45 493.26,295.85 493.25,295.25 493.25,294.65 493.25,294.05 493.25,293.85 493.25,294.05 493.25,294.65 493.25,295.25 493.24,295.85 493.24,296.45 493.24,297.05 493.24,297.65 493.24,298.25 493.24,298.85 493.23,299.45 493.23,300.05 493.23,300.65 493.23,301.25 493.22,301.85 493.19,302.45 493.16,303.05 493.10,303.65 493.04,304.25 492.96,304.85 492.86,305.45 492.75,306.05 492.63,306.65 492.49,307.25 492.33,307.85 492.16,308.45 491.98,309.05 491.82,309.65 491.70,310.25 491.63,310.85 491.57,311.45 491.50,312.05 491.44,312.65 491.38,313.25 491.31,313.85 491.25,314.45 491.18,315.05 491.12,315.65 491.05,316.25 490.99,316.85 490.93,317.45 490.90,318.05 490.94,318.65 491.03,319.25 491.13,319.85 491.22,320.45 491.32,321.05 491.42,321.65 491.51,322.25 491.61,322.85 491.71,323.45 491.81,324.05 491.90,324.65 492.00,325.25 492.07,325.85 492.12,326.45 492.17,327.05 492.22,327.65 492.27,328.25 492.32,328.85 492.37,329.45 492.41,330.05 492.46,330.65 492.51,331.25 492.56,331.85 492.59,332.45 492.54,333.05 492.38,333.65 492.16,334.25 491.94,334.85 491.71,335.45 491.49,336.05 491.26,336.65 491.04,337.25 490.81,337.85 490.59,338.45 490.36,339.05 489.94,339.65 489.33,340.25 488.71,340.85 488.10,341.45 487.48,342.05 486.87,342.65 486.25,343.25Z" fill="#2a9a48" stroke="#231f20" stroke-width="0.7" stroke-linejoin="round"/>
<path d="M500.25,415.60 499.75,415.00 499.25,414.40 498.75,413.80 498.25,413.20 497.75,412.60 497.25,412.00 496.75,411.40 496.37,410.80 496.00,410.20 495.62,409.60 495.24,409.00 494.87,408.40 494.50,407.80 494.21,407.20 494.19,406.60 494.30,406.00 494.44,405.40 494.58,404.80 494.72,404.20 494.86,403.60 495.00,403.00 495.13,402.40 495.27,401.80 495.39,401.20 495.51,400.60 495.63,400.00 495.75,399.40 495.87,398.80 495.99,398.20 496.11,397.60 496.23,397.00 496.35,396.40 496.47,395.80 496.59,395.20 496.69,394.60 496.74,394.00 496.75,393.40 496.75,392.80 496.75,392.20 496.75,391.60 496.75,391.00 496.73,390.40 496.67,389.80 496.57,389.20 496.46,388.60 496.36,388.00 496.25,387.40 496.14,386.80 496.04,386.20 495.93,385.60 495.82,385.00 495.71,384.40 495.61,383.80 495.50,383.20 495.39,382.60 495.25,382.00 495.05,381.40 494.81,380.80 494.56,380.20 494.34,379.60 494.14,379.00 493.96,378.40 493.80,377.80 493.66,377.20 493.54,376.60 493.45,376.00 493.38,375.40 493.32,374.80 493.29,374.20 493.27,373.60 493.27,373.00 493.27,372.40 493.26,371.80 493.26,371.20 493.26,370.60 493.26,370.00 493.26,369.40 493.26,368.80 493.25,368.20 493.25,367.60 493.25,367.00 493.25,366.90 493.25,367.00 493.25,367.60 493.25,368.20 493.24,368.80 493.24,369.40 493.24,370.00 493.24,370.60 493.24,371.20 493.24,371.80 493.23,372.40 493.23,373.00 493.23,373.60 493.21,374.20 493.18,374.80 493.12,375.40 493.05,376.00 492.96,376.60 492.84,377.20 492.70,377.80 492.54,378.40 492.36,379.00 492.16,379.60 491.94,380.20 491.69,380.80 491.45,381.40 491.25,382.00 491.11,382.60 491.00,383.20 490.89,383.80 490.79,384.40 490.68,385.00 490.57,385.60 490.46,386.20 490.36,386.80 490.25,387.40 490.14,388.00 490.04,388.60 489.93,389.20 489.83,389.80 489.77,390.40 489.75,391.00 489.75,391.60 489.75,392.20 489.75,392.80 489.75,393.40 489.76,394.00 489.81,394.60 489.91,395.20 490.03,395.80 490.15,396.40 490.27,397.00 490.39,397.60 490.51,398.20 490.63,398.80 490.75,399.40 490.87,400.00 490.99,400.60 491.11,401.20 491.23,401.80 491.37,402.40 491.50,403.00 491.64,403.60 491.78,404.20 491.92,404.80 492.06,405.40 492.20,406.00 492.31,406.60 492.29,407.20 492.00,407.80 491.63,408.40 491.26,409.00 490.88,409.60 490.50,410.20 490.13,410.80 489.75,411.40 489.25,412.00 488.75,412.60 488.25,413.20 487.75,413.80 487.25,414.40 486.75,415.00 486.25,415.60Z" fill="#2a9a48" stroke="#231f20" stroke-width="0.7" stroke-linejoin="round"/>
<rect x="301.2" y="272.3" width="200.90000000000003" height="146.3" fill="none" stroke="#231f20" stroke-width="1.2"/>
<line x1="301.20" y1="345.90" x2="502.10" y2="345.90" stroke="#231f20" stroke-width="1.2" />
<text transform="translate(305.00,281.50) scale(0.92,1)" x="0" y="0" font-size="8.2" text-anchor="start" font-weight="normal" font-style="italic" fill="#231f20" stroke="#231f20" stroke-width="0.25" >Atf4</text>
<text transform="translate(497.60,281.40) scale(0.93,1)" x="0" y="0" font-size="7.8" text-anchor="end" font-weight="normal" font-style="normal" fill="#231f20" stroke="#231f20" stroke-width="0.25" >WT</text>
<text x="499.20" y="355.40" font-size="7.6" text-anchor="end" font-weight="normal" font-style="normal" fill="#231f20" stroke="#231f20" stroke-width="0.25" >W<tspan font-size="5.6" dy="-2.9">41</tspan><tspan dy="2.9">/W</tspan><tspan font-size="5.6" dy="-2.9">41</tspan></text>
<line x1="298.00" y1="343.25" x2="301.20" y2="343.25" stroke="#231f20" stroke-width="1" />
<text transform="translate(295.00,346.15) scale(0.9,1)" x="0" y="0" font-size="8.3" text-anchor="end" font-weight="normal" font-style="normal" fill="#231f20" stroke="#231f20" stroke-width="0.25" >0.0</text>
<line x1="298.00" y1="331.35" x2="301.20" y2="331.35" stroke="#231f20" stroke-width="1" />
<text transform="translate(295.00,334.25) scale(0.9,1)" x="0" y="0" font-size="8.3" text-anchor="end" font-weight="normal" font-style="normal" fill="#231f20" stroke="#231f20" stroke-width="0.25" >0.2</text>
<line x1="298.00" y1="319.45" x2="301.20" y2="319.45" stroke="#231f20" stroke-width="1" />
<text transform="translate(295.00,322.35) scale(0.9,1)" x="0" y="0" font-size="8.3" text-anchor="end" font-weight="normal" font-style="normal" fill="#231f20" stroke="#231f20" stroke-width="0.25" >0.4</text>
<line x1="298.00" y1="307.55" x2="301.20" y2="307.55" stroke="#231f20" stroke-width="1" />
<text transform="translate(295.00,310.45) scale(0.9,1)" x="0" y="0" font-size="8.3" text-anchor="end" font-weight="normal" font-style="normal" fill="#231f20" stroke="#231f20" stroke-width="0.25" >0.6</text>
<line x1="298.00" y1="295.65" x2="301.20" y2="295.65" stroke="#231f20" stroke-width="1" />
<text transform="translate(295.00,298.55) scale(0.9,1)" x="0" y="0" font-size="8.3" text-anchor="end" font-weight="normal" font-style="normal" fill="#231f20" stroke="#231f20" stroke-width="0.25" >0.8</text>
<line x1="298.00" y1="283.75" x2="301.20" y2="283.75" stroke="#231f20" stroke-width="1" />
<text transform="translate(295.00,286.65) scale(0.9,1)" x="0" y="0" font-size="8.3" text-anchor="end" font-weight="normal" font-style="normal" fill="#231f20" stroke="#231f20" stroke-width="0.25" >1.0</text>
<line x1="298.00" y1="415.60" x2="301.20" y2="415.60" stroke="#231f20" stroke-width="1" />
<text transform="translate(295.00,418.50) scale(0.9,1)" x="0" y="0" font-size="8.3" text-anchor="end" font-weight="normal" font-style="normal" fill="#231f20" stroke="#231f20" stroke-width="0.25" >0.0</text>
<line x1="298.00" y1="402.50" x2="301.20" y2="402.50" stroke="#231f20" stroke-width="1" />
<text transform="translate(295.00,405.40) scale(0.9,1)" x="0" y="0" font-size="8.3" text-anchor="end" font-weight="normal" font-style="normal" fill="#231f20" stroke="#231f20" stroke-width="0.25" >0.2</text>
<line x1="298.00" y1="389.40" x2="301.20" y2="389.40" stroke="#231f20" stroke-width="1" />
<text transform="translate(295.00,392.30) scale(0.9,1)" x="0" y="0" font-size="8.3" text-anchor="end" font-weight="normal" font-style="normal" fill="#231f20" stroke="#231f20" stroke-width="0.25" >0.4</text>
<line x1="298.00" y1="376.30" x2="301.20" y2="376.30" stroke="#231f20" stroke-width="1" />
<text transform="translate(295.00,379.20) scale(0.9,1)" x="0" y="0" font-size="8.3" text-anchor="end" font-weight="normal" font-style="normal" fill="#231f20" stroke="#231f20" stroke-width="0.25" >0.6</text>
<line x1="298.00" y1="363.20" x2="301.20" y2="363.20" stroke="#231f20" stroke-width="1" />
<text transform="translate(295.00,366.10) scale(0.9,1)" x="0" y="0" font-size="8.3" text-anchor="end" font-weight="normal" font-style="normal" fill="#231f20" stroke="#231f20" stroke-width="0.25" >0.8</text>
<line x1="310.75" y1="418.60" x2="310.75" y2="421.60" stroke="#231f20" stroke-width="1" />
<text transform="translate(310.75,432.20) scale(0.9,1)" x="0" y="0" font-size="8.3" text-anchor="middle" font-weight="normal" font-style="normal" fill="#231f20" stroke="#231f20" stroke-width="0.25" >1</text>
<line x1="329.00" y1="418.60" x2="329.00" y2="421.60" stroke="#231f20" stroke-width="1" />
<text transform="translate(329.00,432.20) scale(0.9,1)" x="0" y="0" font-size="8.3" text-anchor="middle" font-weight="normal" font-style="normal" fill="#231f20" stroke="#231f20" stroke-width="0.25" >2</text>
<line x1="347.25" y1="418.60" x2="347.25" y2="421.60" stroke="#231f20" stroke-width="1" />
<text transform="translate(347.25,432.20) scale(0.9,1)" x="0" y="0" font-size="8.3" text-anchor="middle" font-weight="normal" font-style="normal" fill="#231f20" stroke="#231f20" stroke-width="0.25" >3</text>
<line x1="365.50" y1="418.60" x2="365.50" y2="421.60" stroke="#231f20" stroke-width="1" />
<text transform="translate(365.50,432.20) scale(0.9,1)" x="0" y="0" font-size="8.3" text-anchor="middle" font-weight="normal" font-style="normal" fill="#231f20" stroke="#231f20" stroke-width="0.25" >4</text>
<line x1="383.75" y1="418.60" x2="383.75" y2="421.60" stroke="#231f20" stroke-width="1" />
<text transform="translate(383.75,432.20) scale(0.9,1)" x="0" y="0" font-size="8.3" text-anchor="middle" font-weight="normal" font-style="normal" fill="#231f20" stroke="#231f20" stroke-width="0.25" >5</text>
<line x1="402.00" y1="418.60" x2="402.00" y2="421.60" stroke="#231f20" stroke-width="1" />
<text transform="translate(402.00,432.20) scale(0.9,1)" x="0" y="0" font-size="8.3" text-anchor="middle" font-weight="normal" font-style="normal" fill="#231f20" stroke="#231f20" stroke-width="0.25" >6</text>
<line x1="420.25" y1="418.60" x2="420.25" y2="421.60" stroke="#231f20" stroke-width="1" />
<text transform="translate(420.25,432.20) scale(0.9,1)" x="0" y="0" font-size="8.3" text-anchor="middle" font-weight="normal" font-style="normal" fill="#231f20" stroke="#231f20" stroke-width="0.25" >7</text>
<line x1="438.50" y1="418.60" x2="438.50" y2="421.60" stroke="#231f20" stroke-width="1" />
<text transform="translate(438.50,432.20) scale(0.9,1)" x="0" y="0" font-size="8.3" text-anchor="middle" font-weight="normal" font-style="normal" fill="#231f20" stroke="#231f20" stroke-width="0.25" >8</text>
<line x1="456.75" y1="418.60" x2="456.75" y2="421.60" stroke="#231f20" stroke-width="1" />
<text transform="translate(456.75,432.20) scale(0.9,1)" x="0" y="0" font-size="8.3" text-anchor="middle" font-weight="normal" font-style="normal" fill="#231f20" stroke="#231f20" stroke-width="0.25" >9</text>
<line x1="475.00" y1="418.60" x2="475.00" y2="421.60" stroke="#231f20" stroke-width="1" />
<text transform="translate(475.00,432.20) scale(0.9,1)" x="0" y="0" font-size="8.3" text-anchor="middle" font-weight="normal" font-style="normal" fill="#231f20" stroke="#231f20" stroke-width="0.25" >10</text>
<line x1="493.25" y1="418.60" x2="493.25" y2="421.60" stroke="#231f20" stroke-width="1" />
<text transform="translate(493.25,432.20) scale(0.9,1)" x="0" y="0" font-size="8.3" text-anchor="middle" font-weight="normal" font-style="normal" fill="#231f20" stroke="#231f20" stroke-width="0.25" >11</text>
<text x="401.65" y="446.40" font-size="10.2" text-anchor="middle" font-weight="normal" font-style="normal" fill="#231f20" stroke="#231f20" stroke-width="0.25" textLength="24.6" lengthAdjust="spacingAndGlyphs" >Cluster</text>
<g transform="translate(277.5,345.4) rotate(-90)">
<text x="0.00" y="0.00" font-size="9.3" text-anchor="middle" font-weight="normal" font-style="normal" fill="#231f20" stroke="#231f20" stroke-width="0.25" textLength="137.5" lengthAdjust="spacingAndGlyphs" >Normalized gene expression (log-scale)</text>
</g>
<text x="8.00" y="474.70" font-size="12" text-anchor="start" font-weight="bold" font-style="normal" fill="#000" stroke="#000" stroke-width="0.25" >F</text>
<path d="M64.30,553.25 62.15,552.65 60.00,552.05 58.21,551.45 57.02,550.85 57.02,550.25 57.02,549.65 57.02,549.05 57.02,548.45 57.02,547.85 57.02,547.25 57.02,546.65 57.02,546.05 57.02,545.45 57.02,544.85 57.02,544.25 57.02,543.65 57.02,543.05 57.02,542.45 57.02,541.85 57.01,541.25 57.01,540.65 57.01,540.05 57.01,539.45 57.01,538.85 57.01,538.25 57.01,537.65 57.01,537.05 57.01,536.45 57.01,535.85 57.01,535.25 57.01,534.65 57.01,534.05 57.01,533.45 57.01,532.85 57.01,532.25 57.01,531.65 57.01,531.05 57.01,530.45 57.01,529.85 57.01,529.25 57.01,528.65 57.01,528.05 57.01,527.45 57.01,526.85 57.01,526.25 57.01,525.65 57.01,525.05 57.01,524.45 57.01,523.85 57.01,523.25 57.01,522.65 57.00,522.05 57.00,521.45 57.00,520.85 57.00,520.25 57.00,519.65 57.00,519.05 57.00,518.45 57.00,517.85 57.00,517.25 57.00,516.65 57.00,516.05 57.00,515.45 57.00,514.85 57.00,514.25 57.00,513.65 57.00,513.05 57.00,512.85 57.00,513.05 57.00,513.65 57.00,514.25 57.00,514.85 57.00,515.45 57.00,516.05 57.00,516.65 57.00,517.25 57.00,517.85 57.00,518.45 57.00,519.05 57.00,519.65 57.00,520.25 57.00,520.85 57.00,521.45 57.00,522.05 56.99,522.65 56.99,523.25 56.99,523.85 56.99,524.45 56.99,525.05 56.99,525.65 56.99,526.25 56.99,526.85 56.99,527.45 56.99,528.05 56.99,528.65 56.99,529.25 56.99,529.85 56.99,530.45 56.99,531.05 56.99,531.65 56.99,532.25 56.99,532.85 56.99,533.45 56.99,534.05 56.99,534.65 56.99,535.25 56.99,535.85 56.99,536.45 56.99,537.05 56.99,537.65 56.99,538.25 56.99,538.85 56.99,539.45 56.99,540.05 56.99,540.65 56.99,541.25 56.98,541.85 56.98,542.45 56.98,543.05 56.98,543.65 56.98,544.25 56.98,544.85 56.98,545.45 56.98,546.05 56.98,546.65 56.98,547.25 56.98,547.85 56.98,548.45 56.98,549.05 56.98,549.65 56.98,550.25 56.98,550.85 55.79,551.45 54.00,552.05 51.85,552.65 49.70,553.25Z" fill="#9cc48e" stroke="#231f20" stroke-width="0.7" stroke-linejoin="round"/>
<path d="M64.00,623.75 62.29,623.15 60.57,622.55 58.51,621.95 57.02,621.35 57.02,620.75 57.02,620.15 57.02,619.55 57.02,618.95 57.02,618.35 57.02,617.75 57.02,617.15 57.02,616.55 57.02,615.95 57.02,615.35 57.02,614.75 57.02,614.15 57.01,613.55 57.01,612.95 57.01,612.35 57.01,611.75 57.01,611.15 57.01,610.55 57.01,609.95 57.01,609.35 57.01,608.75 57.01,608.15 57.01,607.55 57.01,606.95 57.01,606.35 57.01,605.75 57.01,605.15 57.01,604.55 57.01,603.95 57.01,603.35 57.01,602.75 57.01,602.15 57.01,601.55 57.01,600.95 57.01,600.35 57.01,599.75 57.01,599.15 57.01,598.55 57.00,597.95 57.00,597.35 57.00,596.75 57.00,596.15 57.00,595.55 57.00,594.95 57.00,594.35 57.00,593.75 57.00,593.15 57.00,592.55 57.00,591.95 57.00,591.35 57.00,590.75 57.00,590.15 57.00,590.15 57.00,590.15 57.00,590.75 57.00,591.35 57.00,591.95 57.00,592.55 57.00,593.15 57.00,593.75 57.00,594.35 57.00,594.95 57.00,595.55 57.00,596.15 57.00,596.75 57.00,597.35 57.00,597.95 56.99,598.55 56.99,599.15 56.99,599.75 56.99,600.35 56.99,600.95 56.99,601.55 56.99,602.15 56.99,602.75 56.99,603.35 56.99,603.95 56.99,604.55 56.99,605.15 56.99,605.75 56.99,606.35 56.99,606.95 56.99,607.55 56.99,608.15 56.99,608.75 56.99,609.35 56.99,609.95 56.99,610.55 56.99,611.15 56.99,611.75 56.99,612.35 56.99,612.95 56.99,613.55 56.98,614.15 56.98,614.75 56.98,615.35 56.98,615.95 56.98,616.55 56.98,617.15 56.98,617.75 56.98,618.35 56.98,618.95 56.98,619.55 56.98,620.15 56.98,620.75 56.98,621.35 55.49,621.95 53.43,622.55 51.71,623.15 50.00,623.75Z" fill="#9cc48e" stroke="#231f20" stroke-width="0.7" stroke-linejoin="round"/>
<path d="M82.02,553.25 81.03,552.65 80.04,552.05 79.05,551.45 78.36,550.85 77.83,550.25 77.29,549.65 76.76,549.05 76.25,548.45 76.40,547.85 76.56,547.25 76.73,546.65 76.91,546.05 77.09,545.45 77.29,544.85 77.49,544.25 77.69,543.65 77.89,543.05 78.09,542.45 78.29,541.85 78.47,541.25 78.60,540.65 78.65,540.05 78.68,539.45 78.70,538.85 78.73,538.25 78.75,537.65 78.77,537.05 78.80,536.45 78.82,535.85 78.85,535.25 78.87,534.65 78.89,534.05 78.89,533.45 78.85,532.85 78.79,532.25 78.73,531.65 78.66,531.05 78.60,530.45 78.53,529.85 78.47,529.25 78.41,528.65 78.34,528.05 78.28,527.45 78.21,526.85 78.15,526.25 78.08,525.65 78.01,525.05 77.91,524.45 77.81,523.85 77.70,523.25 77.60,522.65 77.49,522.05 77.39,521.45 77.28,520.85 77.18,520.25 77.07,519.65 76.97,519.05 76.86,518.45 76.74,517.85 76.58,517.25 76.40,516.65 76.22,516.05 76.06,515.45 75.91,514.85 75.78,514.25 75.66,513.65 75.56,513.05 75.47,512.45 75.40,511.85 75.34,511.25 75.29,510.65 75.26,510.05 75.25,509.45 75.24,508.85 75.24,508.25 75.24,507.65 75.23,507.05 75.23,506.45 75.23,505.85 75.23,505.25 75.23,504.65 75.23,504.05 75.22,503.45 75.22,502.85 75.22,502.25 75.22,501.75 75.22,502.25 75.22,502.85 75.22,503.45 75.21,504.05 75.21,504.65 75.21,505.25 75.21,505.85 75.21,506.45 75.21,507.05 75.20,507.65 75.20,508.25 75.20,508.85 75.19,509.45 75.18,510.05 75.15,510.65 75.10,511.25 75.04,511.85 74.97,512.45 74.88,513.05 74.78,513.65 74.66,514.25 74.53,514.85 74.38,515.45 74.22,516.05 74.04,516.65 73.86,517.25 73.70,517.85 73.58,518.45 73.47,519.05 73.37,519.65 73.26,520.25 73.16,520.85 73.05,521.45 72.95,522.05 72.84,522.65 72.74,523.25 72.63,523.85 72.53,524.45 72.43,525.05 72.36,525.65 72.29,526.25 72.23,526.85 72.16,527.45 72.10,528.05 72.03,528.65 71.97,529.25 71.91,529.85 71.84,530.45 71.78,531.05 71.71,531.65 71.65,532.25 71.59,532.85 71.55,533.45 71.55,534.05 71.57,534.65 71.59,535.25 71.62,535.85 71.64,536.45 71.67,537.05 71.69,537.65 71.71,538.25 71.74,538.85 71.76,539.45 71.79,540.05 71.84,540.65 71.97,541.25 72.15,541.85 72.35,542.45 72.55,543.05 72.75,543.65 72.95,544.25 73.15,544.85 73.35,545.45 73.53,546.05 73.71,546.65 73.88,547.25 74.04,547.85 74.19,548.45 73.68,549.05 73.15,549.65 72.61,550.25 72.08,550.85 71.39,551.45 70.40,552.05 69.41,552.65 68.42,553.25Z" fill="#c41f7a" stroke="#231f20" stroke-width="0.7" stroke-linejoin="round"/>
<path d="M82.22,623.75 81.39,623.15 80.56,622.55 79.74,621.95 78.91,621.35 78.15,620.75 77.74,620.15 77.33,619.55 76.91,618.95 76.50,618.35 76.15,617.75 76.27,617.15 76.53,616.55 76.80,615.95 77.08,615.35 77.35,614.75 77.59,614.15 77.76,613.55 77.86,612.95 77.95,612.35 78.03,611.75 78.12,611.15 78.21,610.55 78.29,609.95 78.38,609.35 78.46,608.75 78.54,608.15 78.58,607.55 78.56,606.95 78.52,606.35 78.48,605.75 78.43,605.15 78.39,604.55 78.34,603.95 78.30,603.35 78.25,602.75 78.18,602.15 78.11,601.55 78.02,600.95 77.94,600.35 77.85,599.75 77.77,599.15 77.68,598.55 77.60,597.95 77.51,597.35 77.43,596.75 77.34,596.15 77.26,595.55 77.18,594.95 77.08,594.35 76.95,593.75 76.77,593.15 76.57,592.55 76.39,591.95 76.21,591.35 76.05,590.75 75.91,590.15 75.78,589.55 75.66,588.95 75.56,588.35 75.47,587.75 75.40,587.15 75.34,586.55 75.30,585.95 75.27,585.35 75.25,584.75 75.24,584.15 75.24,583.55 75.24,582.95 75.24,582.35 75.24,581.75 75.23,581.15 75.23,580.55 75.23,579.95 75.23,579.35 75.23,578.75 75.23,578.15 75.23,577.55 75.23,576.95 75.23,576.35 75.23,575.75 75.22,575.15 75.22,574.55 75.22,573.95 75.22,573.35 75.22,572.75 75.22,572.15 75.22,572.75 75.22,573.35 75.22,573.95 75.22,574.55 75.22,575.15 75.21,575.75 75.21,576.35 75.21,576.95 75.21,577.55 75.21,578.15 75.21,578.75 75.21,579.35 75.21,579.95 75.21,580.55 75.21,581.15 75.20,581.75 75.20,582.35 75.20,582.95 75.20,583.55 75.20,584.15 75.19,584.75 75.17,585.35 75.14,585.95 75.10,586.55 75.04,587.15 74.97,587.75 74.88,588.35 74.78,588.95 74.66,589.55 74.53,590.15 74.39,590.75 74.23,591.35 74.05,591.95 73.87,592.55 73.67,593.15 73.49,593.75 73.36,594.35 73.26,594.95 73.18,595.55 73.10,596.15 73.01,596.75 72.93,597.35 72.84,597.95 72.76,598.55 72.67,599.15 72.59,599.75 72.50,600.35 72.42,600.95 72.33,601.55 72.26,602.15 72.19,602.75 72.14,603.35 72.10,603.95 72.05,604.55 72.01,605.15 71.96,605.75 71.92,606.35 71.88,606.95 71.86,607.55 71.90,608.15 71.98,608.75 72.06,609.35 72.15,609.95 72.23,610.55 72.32,611.15 72.41,611.75 72.49,612.35 72.58,612.95 72.68,613.55 72.85,614.15 73.09,614.75 73.36,615.35 73.64,615.95 73.91,616.55 74.17,617.15 74.29,617.75 73.94,618.35 73.53,618.95 73.11,619.55 72.70,620.15 72.29,620.75 71.53,621.35 70.70,621.95 69.88,622.55 69.05,623.15 68.22,623.75Z" fill="#c41f7a" stroke="#231f20" stroke-width="0.7" stroke-linejoin="round"/>
<path d="M100.44,553.25 99.90,552.65 99.36,552.05 98.82,551.45 98.29,550.85 97.75,550.25 97.21,549.65 96.62,549.05 95.97,548.45 95.33,547.85 94.69,547.25 94.13,546.65 94.05,546.05 94.04,545.45 94.04,544.85 94.04,544.25 94.04,543.65 94.04,543.05 94.04,542.45 94.04,541.85 94.04,541.25 94.04,540.65 94.04,540.05 94.04,539.45 94.04,538.85 94.04,538.25 94.04,537.65 94.04,537.05 94.04,536.45 94.04,535.85 94.04,535.25 94.04,534.65 94.04,534.05 94.04,533.45 94.04,532.85 94.04,532.25 94.04,531.65 94.04,531.05 94.04,530.45 94.06,529.85 94.08,529.25 94.10,528.65 94.13,528.05 94.15,527.45 94.18,526.85 94.20,526.25 94.23,525.65 94.25,525.05 94.28,524.45 94.30,523.85 94.32,523.25 94.30,522.65 94.26,522.05 94.19,521.45 94.13,520.85 94.07,520.25 94.00,519.65 93.94,519.05 93.88,518.45 93.82,517.85 93.75,517.25 93.69,516.65 93.63,516.05 93.56,515.45 93.51,514.85 93.47,514.25 93.46,513.65 93.46,513.05 93.46,512.45 93.46,511.85 93.46,511.25 93.46,510.65 93.46,510.05 93.45,509.45 93.45,508.85 93.45,508.25 93.45,507.65 93.45,507.05 93.45,506.45 93.45,505.85 93.45,505.25 93.45,504.65 93.45,504.05 93.45,503.45 93.45,502.85 93.45,502.25 93.45,501.65 93.45,501.05 93.44,500.45 93.44,499.85 93.44,499.25 93.44,498.65 93.44,498.05 93.44,497.45 93.44,496.85 93.44,496.25 93.44,495.95 93.44,496.25 93.44,496.85 93.44,497.45 93.44,498.05 93.44,498.65 93.44,499.25 93.44,499.85 93.44,500.45 93.43,501.05 93.43,501.65 93.43,502.25 93.43,502.85 93.43,503.45 93.43,504.05 93.43,504.65 93.43,505.25 93.43,505.85 93.43,506.45 93.43,507.05 93.43,507.65 93.43,508.25 93.43,508.85 93.43,509.45 93.42,510.05 93.42,510.65 93.42,511.25 93.42,511.85 93.42,512.45 93.42,513.05 93.42,513.65 93.41,514.25 93.37,514.85 93.32,515.45 93.25,516.05 93.19,516.65 93.13,517.25 93.06,517.85 93.00,518.45 92.94,519.05 92.88,519.65 92.81,520.25 92.75,520.85 92.69,521.45 92.62,522.05 92.58,522.65 92.56,523.25 92.58,523.85 92.60,524.45 92.63,525.05 92.65,525.65 92.68,526.25 92.70,526.85 92.73,527.45 92.75,528.05 92.78,528.65 92.80,529.25 92.82,529.85 92.84,530.45 92.84,531.05 92.84,531.65 92.84,532.25 92.84,532.85 92.84,533.45 92.84,534.05 92.84,534.65 92.84,535.25 92.84,535.85 92.84,536.45 92.84,537.05 92.84,537.65 92.84,538.25 92.84,538.85 92.84,539.45 92.84,540.05 92.84,540.65 92.84,541.25 92.84,541.85 92.84,542.45 92.84,543.05 92.84,543.65 92.84,544.25 92.84,544.85 92.84,545.45 92.83,546.05 92.75,546.65 92.19,547.25 91.55,547.85 90.91,548.45 90.26,549.05 89.67,549.65 89.13,550.25 88.59,550.85 88.06,551.45 87.52,552.05 86.98,552.65 86.44,553.25Z" fill="#e89c98" stroke="#231f20" stroke-width="0.7" stroke-linejoin="round"/>
<path d="M100.74,623.75 100.17,623.15 99.60,622.55 99.04,621.95 98.47,621.35 97.90,620.75 97.33,620.15 96.77,619.55 96.20,618.95 95.64,618.35 95.20,617.75 94.82,617.15 94.45,616.55 94.08,615.95 93.73,615.35 93.53,614.75 93.50,614.15 93.51,613.55 93.54,612.95 93.56,612.35 93.59,611.75 93.61,611.15 93.63,610.55 93.66,609.95 93.68,609.35 93.70,608.75 93.73,608.15 93.75,607.55 93.77,606.95 93.80,606.35 93.82,605.75 93.84,605.15 93.87,604.55 93.89,603.95 93.91,603.35 93.94,602.75 93.96,602.15 93.99,601.55 94.01,600.95 94.04,600.35 94.08,599.75 94.13,599.15 94.18,598.55 94.23,597.95 94.29,597.35 94.34,596.75 94.39,596.15 94.44,595.55 94.50,594.95 94.55,594.35 94.60,593.75 94.64,593.15 94.63,592.55 94.55,591.95 94.45,591.35 94.35,590.75 94.25,590.15 94.15,589.55 94.05,588.95 93.95,588.35 93.85,587.75 93.75,587.15 93.65,586.55 93.55,585.95 93.48,585.35 93.46,584.75 93.46,584.15 93.46,583.55 93.46,582.95 93.45,582.35 93.45,581.75 93.45,581.15 93.45,580.55 93.45,579.95 93.45,579.35 93.45,578.75 93.45,578.15 93.45,577.55 93.45,576.95 93.45,576.35 93.44,575.75 93.44,575.15 93.44,574.55 93.44,573.95 93.44,573.35 93.44,573.25 93.44,573.35 93.44,573.95 93.44,574.55 93.44,575.15 93.44,575.75 93.43,576.35 93.43,576.95 93.43,577.55 93.43,578.15 93.43,578.75 93.43,579.35 93.43,579.95 93.43,580.55 93.43,581.15 93.43,581.75 93.43,582.35 93.42,582.95 93.42,583.55 93.42,584.15 93.42,584.75 93.40,585.35 93.33,585.95 93.23,586.55 93.13,587.15 93.03,587.75 92.93,588.35 92.83,588.95 92.73,589.55 92.63,590.15 92.53,590.75 92.43,591.35 92.33,591.95 92.25,592.55 92.24,593.15 92.28,593.75 92.33,594.35 92.38,594.95 92.44,595.55 92.49,596.15 92.54,596.75 92.59,597.35 92.65,597.95 92.70,598.55 92.75,599.15 92.80,599.75 92.84,600.35 92.87,600.95 92.89,601.55 92.92,602.15 92.94,602.75 92.97,603.35 92.99,603.95 93.01,604.55 93.04,605.15 93.06,605.75 93.08,606.35 93.11,606.95 93.13,607.55 93.15,608.15 93.18,608.75 93.20,609.35 93.22,609.95 93.25,610.55 93.27,611.15 93.29,611.75 93.32,612.35 93.34,612.95 93.37,613.55 93.38,614.15 93.35,614.75 93.15,615.35 92.80,615.95 92.43,616.55 92.06,617.15 91.68,617.75 91.24,618.35 90.68,618.95 90.11,619.55 89.55,620.15 88.98,620.75 88.41,621.35 87.84,621.95 87.28,622.55 86.71,623.15 86.14,623.75Z" fill="#e89c98" stroke="#231f20" stroke-width="0.7" stroke-linejoin="round"/>
<path d="M119.16,553.25 116.91,552.65 114.66,552.05 112.87,551.45 111.68,550.85 111.68,550.25 111.68,549.65 111.68,549.05 111.68,548.45 111.68,547.85 111.68,547.25 111.68,546.65 111.68,546.05 111.68,545.45 111.68,544.85 111.68,544.25 111.68,543.65 111.67,543.05 111.67,542.45 111.67,541.85 111.67,541.25 111.67,540.65 111.67,540.05 111.67,539.45 111.67,538.85 111.67,538.25 111.67,537.65 111.67,537.05 111.67,536.45 111.67,535.85 111.67,535.25 111.67,534.65 111.67,534.05 111.67,533.45 111.67,532.85 111.67,532.25 111.67,531.65 111.67,531.05 111.67,530.45 111.67,529.85 111.67,529.25 111.67,528.65 111.67,528.05 111.66,527.45 111.66,526.85 111.66,526.25 111.66,525.65 111.66,525.05 111.66,524.45 111.66,523.85 111.66,523.25 111.66,522.65 111.66,522.05 111.66,521.45 111.66,520.85 111.66,520.25 111.66,519.75 111.66,520.25 111.66,520.85 111.66,521.45 111.66,522.05 111.66,522.65 111.66,523.25 111.66,523.85 111.66,524.45 111.66,525.05 111.66,525.65 111.66,526.25 111.66,526.85 111.66,527.45 111.65,528.05 111.65,528.65 111.65,529.25 111.65,529.85 111.65,530.45 111.65,531.05 111.65,531.65 111.65,532.25 111.65,532.85 111.65,533.45 111.65,534.05 111.65,534.65 111.65,535.25 111.65,535.85 111.65,536.45 111.65,537.05 111.65,537.65 111.65,538.25 111.65,538.85 111.65,539.45 111.65,540.05 111.65,540.65 111.65,541.25 111.65,541.85 111.65,542.45 111.65,543.05 111.64,543.65 111.64,544.25 111.64,544.85 111.64,545.45 111.64,546.05 111.64,546.65 111.64,547.25 111.64,547.85 111.64,548.45 111.64,549.05 111.64,549.65 111.64,550.25 111.64,550.85 110.45,551.45 108.66,552.05 106.41,552.65 104.16,553.25Z" fill="#c4a6d8" stroke="#231f20" stroke-width="0.7" stroke-linejoin="round"/>
<path d="M118.66,623.75 116.95,623.15 115.23,622.55 113.17,621.95 111.68,621.35 111.68,620.75 111.68,620.15 111.68,619.55 111.68,618.95 111.68,618.35 111.68,617.75 111.68,617.15 111.68,616.55 111.68,615.95 111.68,615.35 111.68,614.75 111.68,614.15 111.67,613.55 111.67,612.95 111.67,612.35 111.67,611.75 111.67,611.15 111.67,610.55 111.67,609.95 111.67,609.35 111.67,608.75 111.67,608.15 111.67,607.55 111.67,606.95 111.67,606.35 111.67,605.75 111.67,605.15 111.67,604.55 111.67,603.95 111.67,603.35 111.67,602.75 111.67,602.15 111.67,601.55 111.67,600.95 111.67,600.35 111.67,599.75 111.66,599.15 111.66,598.55 111.66,597.95 111.66,597.35 111.66,596.75 111.66,596.15 111.66,595.55 111.66,594.95 111.66,594.35 111.66,593.75 111.66,593.15 111.66,592.55 111.66,591.95 111.66,591.75 111.66,591.95 111.66,592.55 111.66,593.15 111.66,593.75 111.66,594.35 111.66,594.95 111.66,595.55 111.66,596.15 111.66,596.75 111.66,597.35 111.66,597.95 111.66,598.55 111.66,599.15 111.65,599.75 111.65,600.35 111.65,600.95 111.65,601.55 111.65,602.15 111.65,602.75 111.65,603.35 111.65,603.95 111.65,604.55 111.65,605.15 111.65,605.75 111.65,606.35 111.65,606.95 111.65,607.55 111.65,608.15 111.65,608.75 111.65,609.35 111.65,609.95 111.65,610.55 111.65,611.15 111.65,611.75 111.65,612.35 111.65,612.95 111.65,613.55 111.64,614.15 111.64,614.75 111.64,615.35 111.64,615.95 111.64,616.55 111.64,617.15 111.64,617.75 111.64,618.35 111.64,618.95 111.64,619.55 111.64,620.15 111.64,620.75 111.64,621.35 110.15,621.95 108.09,622.55 106.37,623.15 104.66,623.75Z" fill="#c4a6d8" stroke="#231f20" stroke-width="0.7" stroke-linejoin="round"/>
<path d="M132.88,553.25 132.43,552.65 131.98,552.05 131.53,551.45 131.31,550.85 131.20,550.25 131.09,549.65 130.99,549.05 130.90,548.45 131.31,547.85 131.74,547.25 132.17,546.65 132.60,546.05 133.04,545.45 133.50,544.85 133.96,544.25 134.42,543.65 134.88,543.05 135.34,542.45 135.73,541.85 135.99,541.25 136.16,540.65 136.32,540.05 136.47,539.45 136.63,538.85 136.79,538.25 136.94,537.65 137.10,537.05 137.24,536.45 137.33,535.85 137.34,535.25 137.31,534.65 137.28,534.05 137.25,533.45 137.22,532.85 137.19,532.25 137.15,531.65 137.12,531.05 137.06,530.45 136.95,529.85 136.79,529.25 136.61,528.65 136.44,528.05 136.26,527.45 136.08,526.85 135.91,526.25 135.73,525.65 135.56,525.05 135.38,524.45 135.19,523.85 135.00,523.25 134.82,522.65 134.63,522.05 134.44,521.45 134.25,520.85 134.07,520.25 133.88,519.65 133.69,519.05 133.50,518.45 133.32,517.85 133.13,517.25 132.94,516.65 132.75,516.05 132.56,515.45 132.34,514.85 132.07,514.25 131.77,513.65 131.50,513.05 131.24,512.45 131.01,511.85 130.80,511.25 130.61,510.65 130.45,510.05 130.30,509.45 130.18,508.85 130.09,508.25 130.01,507.65 129.95,507.05 129.92,506.45 129.91,505.85 129.90,505.25 129.90,504.65 129.90,504.05 129.89,503.45 129.89,502.85 129.89,502.25 129.89,501.65 129.89,501.05 129.89,500.45 129.88,499.85 129.88,499.25 129.88,498.65 129.88,498.05 129.88,498.05 129.88,498.05 129.88,498.65 129.88,499.25 129.88,499.85 129.87,500.45 129.87,501.05 129.87,501.65 129.87,502.25 129.87,502.85 129.87,503.45 129.86,504.05 129.86,504.65 129.86,505.25 129.85,505.85 129.84,506.45 129.81,507.05 129.75,507.65 129.67,508.25 129.58,508.85 129.46,509.45 129.31,510.05 129.15,510.65 128.96,511.25 128.75,511.85 128.52,512.45 128.26,513.05 127.99,513.65 127.69,514.25 127.42,514.85 127.20,515.45 127.00,516.05 126.82,516.65 126.63,517.25 126.44,517.85 126.25,518.45 126.07,519.05 125.88,519.65 125.69,520.25 125.50,520.85 125.32,521.45 125.13,522.05 124.94,522.65 124.75,523.25 124.57,523.85 124.38,524.45 124.20,525.05 124.03,525.65 123.85,526.25 123.68,526.85 123.50,527.45 123.32,528.05 123.15,528.65 122.97,529.25 122.81,529.85 122.70,530.45 122.64,531.05 122.61,531.65 122.57,532.25 122.54,532.85 122.51,533.45 122.48,534.05 122.45,534.65 122.42,535.25 122.43,535.85 122.52,536.45 122.66,537.05 122.82,537.65 122.97,538.25 123.13,538.85 123.29,539.45 123.44,540.05 123.60,540.65 123.77,541.25 124.03,541.85 124.42,542.45 124.88,543.05 125.34,543.65 125.80,544.25 126.26,544.85 126.72,545.45 127.16,546.05 127.59,546.65 128.02,547.25 128.45,547.85 128.86,548.45 128.77,549.05 128.67,549.65 128.56,550.25 128.45,550.85 128.23,551.45 127.78,552.05 127.33,552.65 126.88,553.25Z" fill="#73308f" stroke="#231f20" stroke-width="0.7" stroke-linejoin="round"/>
<path d="M133.48,623.75 132.97,623.15 132.47,622.55 131.96,621.95 131.59,621.35 131.25,620.75 130.91,620.15 130.82,619.55 131.21,618.95 131.61,618.35 132.01,617.75 132.41,617.15 132.81,616.55 133.21,615.95 133.61,615.35 133.99,614.75 134.36,614.15 134.71,613.55 135.07,612.95 135.43,612.35 135.78,611.75 136.11,611.15 136.34,610.55 136.44,609.95 136.49,609.35 136.54,608.75 136.59,608.15 136.63,607.55 136.68,606.95 136.73,606.35 136.78,605.75 136.82,605.15 136.82,604.55 136.73,603.95 136.58,603.35 136.42,602.75 136.26,602.15 136.10,601.55 135.93,600.95 135.77,600.35 135.61,599.75 135.45,599.15 135.29,598.55 135.12,597.95 134.96,597.35 134.77,596.75 134.58,596.15 134.37,595.55 134.17,594.95 133.97,594.35 133.77,593.75 133.56,593.15 133.36,592.55 133.16,591.95 132.95,591.35 132.75,590.75 132.55,590.15 132.32,589.55 132.07,588.95 131.82,588.35 131.58,587.75 131.36,587.15 131.15,586.55 130.96,585.95 130.78,585.35 130.62,584.75 130.48,584.15 130.35,583.55 130.24,582.95 130.15,582.35 130.07,581.75 130.01,581.15 129.96,580.55 129.93,579.95 129.91,579.35 129.90,578.75 129.90,578.15 129.90,577.55 129.90,576.95 129.90,576.35 129.89,575.75 129.89,575.15 129.89,574.55 129.89,573.95 129.89,573.35 129.89,572.75 129.89,572.15 129.89,571.55 129.89,570.95 129.89,570.35 129.88,569.75 129.88,569.15 129.88,568.55 129.88,567.95 129.88,567.35 129.88,566.85 129.88,567.35 129.88,567.95 129.88,568.55 129.88,569.15 129.88,569.75 129.87,570.35 129.87,570.95 129.87,571.55 129.87,572.15 129.87,572.75 129.87,573.35 129.87,573.95 129.87,574.55 129.87,575.15 129.87,575.75 129.86,576.35 129.86,576.95 129.86,577.55 129.86,578.15 129.86,578.75 129.85,579.35 129.83,579.95 129.80,580.55 129.75,581.15 129.69,581.75 129.61,582.35 129.52,582.95 129.41,583.55 129.28,584.15 129.14,584.75 128.98,585.35 128.80,585.95 128.61,586.55 128.40,587.15 128.18,587.75 127.94,588.35 127.69,588.95 127.44,589.55 127.21,590.15 127.01,590.75 126.81,591.35 126.60,591.95 126.40,592.55 126.20,593.15 125.99,593.75 125.79,594.35 125.59,594.95 125.39,595.55 125.18,596.15 124.99,596.75 124.80,597.35 124.64,597.95 124.47,598.55 124.31,599.15 124.15,599.75 123.99,600.35 123.83,600.95 123.66,601.55 123.50,602.15 123.34,602.75 123.18,603.35 123.03,603.95 122.94,604.55 122.94,605.15 122.98,605.75 123.03,606.35 123.08,606.95 123.13,607.55 123.17,608.15 123.22,608.75 123.27,609.35 123.32,609.95 123.42,610.55 123.65,611.15 123.98,611.75 124.33,612.35 124.69,612.95 125.05,613.55 125.40,614.15 125.77,614.75 126.15,615.35 126.55,615.95 126.95,616.55 127.35,617.15 127.75,617.75 128.15,618.35 128.55,618.95 128.94,619.55 128.85,620.15 128.51,620.75 128.17,621.35 127.80,621.95 127.29,622.55 126.79,623.15 126.28,623.75Z" fill="#73308f" stroke="#231f20" stroke-width="0.7" stroke-linejoin="round"/>
<path d="M155.10,553.25 154.41,552.65 153.72,552.05 153.02,551.45 152.33,550.85 151.64,550.25 150.95,549.65 150.25,549.05 149.54,548.45 148.83,547.85 148.19,547.25 148.13,546.65 148.12,546.05 148.12,545.45 148.12,544.85 148.12,544.25 148.12,543.65 148.12,543.05 148.12,542.45 148.12,541.85 148.12,541.25 148.12,540.65 148.12,540.05 148.12,539.45 148.12,538.85 148.12,538.25 148.12,537.65 148.12,537.05 148.12,536.45 148.11,535.85 148.11,535.25 148.11,534.65 148.11,534.05 148.11,533.45 148.11,532.85 148.11,532.25 148.11,531.65 148.11,531.05 148.11,530.45 148.11,529.85 148.11,529.25 148.11,528.65 148.11,528.05 148.11,527.45 148.11,526.85 148.11,526.25 148.11,525.65 148.11,525.05 148.11,524.45 148.11,523.85 148.11,523.25 148.11,522.65 148.11,522.05 148.11,521.45 148.11,520.85 148.11,520.25 148.11,519.65 148.11,519.05 148.11,518.45 148.11,517.85 148.11,517.25 148.11,516.65 148.11,516.05 148.11,515.45 148.11,514.85 148.10,514.25 148.10,513.65 148.10,513.05 148.10,512.45 148.10,511.85 148.10,511.25 148.10,510.65 148.10,510.05 148.10,509.45 148.10,508.85 148.10,508.25 148.10,507.65 148.10,507.05 148.10,506.45 148.10,505.85 148.10,505.25 148.10,504.65 148.10,504.05 148.10,503.85 148.10,504.05 148.10,504.65 148.10,505.25 148.10,505.85 148.10,506.45 148.10,507.05 148.10,507.65 148.10,508.25 148.10,508.85 148.10,509.45 148.10,510.05 148.10,510.65 148.10,511.25 148.10,511.85 148.10,512.45 148.10,513.05 148.10,513.65 148.10,514.25 148.09,514.85 148.09,515.45 148.09,516.05 148.09,516.65 148.09,517.25 148.09,517.85 148.09,518.45 148.09,519.05 148.09,519.65 148.09,520.25 148.09,520.85 148.09,521.45 148.09,522.05 148.09,522.65 148.09,523.25 148.09,523.85 148.09,524.45 148.09,525.05 148.09,525.65 148.09,526.25 148.09,526.85 148.09,527.45 148.09,528.05 148.09,528.65 148.09,529.25 148.09,529.85 148.09,530.45 148.09,531.05 148.09,531.65 148.09,532.25 148.09,532.85 148.09,533.45 148.09,534.05 148.09,534.65 148.09,535.25 148.09,535.85 148.08,536.45 148.08,537.05 148.08,537.65 148.08,538.25 148.08,538.85 148.08,539.45 148.08,540.05 148.08,540.65 148.08,541.25 148.08,541.85 148.08,542.45 148.08,543.05 148.08,543.65 148.08,544.25 148.08,544.85 148.08,545.45 148.08,546.05 148.07,546.65 148.01,547.25 147.37,547.85 146.66,548.45 145.95,549.05 145.25,549.65 144.56,550.25 143.87,550.85 143.18,551.45 142.48,552.05 141.79,552.65 141.10,553.25Z" fill="#2e1a7a" stroke="#231f20" stroke-width="0.7" stroke-linejoin="round"/>
<path d="M155.10,623.75 154.50,623.15 153.90,622.55 153.30,621.95 152.70,621.35 152.10,620.75 151.50,620.15 150.90,619.55 150.43,618.95 150.08,618.35 149.73,617.75 149.39,617.15 149.04,616.55 148.70,615.95 148.37,615.35 148.17,614.75 148.12,614.15 148.12,613.55 148.12,612.95 148.12,612.35 148.12,611.75 148.12,611.15 148.12,610.55 148.12,609.95 148.12,609.35 148.12,608.75 148.12,608.15 148.12,607.55 148.12,606.95 148.11,606.35 148.11,605.75 148.11,605.15 148.11,604.55 148.11,603.95 148.11,603.35 148.11,602.75 148.11,602.15 148.11,601.55 148.11,600.95 148.11,600.35 148.11,599.75 148.11,599.15 148.11,598.55 148.11,597.95 148.11,597.35 148.11,596.75 148.11,596.15 148.11,595.55 148.11,594.95 148.11,594.35 148.11,593.75 148.11,593.15 148.11,592.55 148.11,591.95 148.11,591.35 148.11,590.75 148.10,590.15 148.10,589.55 148.10,588.95 148.10,588.35 148.10,587.75 148.10,587.15 148.10,586.55 148.10,585.95 148.10,585.35 148.10,584.75 148.10,584.15 148.10,583.55 148.10,582.95 148.10,582.35 148.10,582.25 148.10,582.35 148.10,582.95 148.10,583.55 148.10,584.15 148.10,584.75 148.10,585.35 148.10,585.95 148.10,586.55 148.10,587.15 148.10,587.75 148.10,588.35 148.10,588.95 148.10,589.55 148.10,590.15 148.09,590.75 148.09,591.35 148.09,591.95 148.09,592.55 148.09,593.15 148.09,593.75 148.09,594.35 148.09,594.95 148.09,595.55 148.09,596.15 148.09,596.75 148.09,597.35 148.09,597.95 148.09,598.55 148.09,599.15 148.09,599.75 148.09,600.35 148.09,600.95 148.09,601.55 148.09,602.15 148.09,602.75 148.09,603.35 148.09,603.95 148.09,604.55 148.09,605.15 148.09,605.75 148.09,606.35 148.08,606.95 148.08,607.55 148.08,608.15 148.08,608.75 148.08,609.35 148.08,609.95 148.08,610.55 148.08,611.15 148.08,611.75 148.08,612.35 148.08,612.95 148.08,613.55 148.08,614.15 148.03,614.75 147.83,615.35 147.50,615.95 147.16,616.55 146.81,617.15 146.47,617.75 146.12,618.35 145.77,618.95 145.30,619.55 144.70,620.15 144.10,620.75 143.50,621.35 142.90,621.95 142.30,622.55 141.70,623.15 141.10,623.75Z" fill="#2e1a7a" stroke="#231f20" stroke-width="0.7" stroke-linejoin="round"/>
<path d="M173.52,553.25 172.78,552.65 172.04,552.05 171.30,551.45 170.56,550.85 169.81,550.25 169.13,549.65 168.55,549.05 167.97,548.45 167.40,547.85 166.88,547.25 166.84,546.65 166.84,546.05 166.85,545.45 166.86,544.85 166.87,544.25 166.88,543.65 166.89,543.05 166.89,542.45 166.90,541.85 166.92,541.25 166.94,540.65 166.99,540.05 167.03,539.45 167.08,538.85 167.13,538.25 167.18,537.65 167.23,537.05 167.28,536.45 167.33,535.85 167.37,535.25 167.42,534.65 167.47,534.05 167.47,533.45 167.41,532.85 167.32,532.25 167.22,531.65 167.13,531.05 167.04,530.45 166.96,529.85 166.88,529.25 166.81,528.65 166.75,528.05 166.69,527.45 166.63,526.85 166.58,526.25 166.53,525.65 166.49,525.05 166.45,524.45 166.42,523.85 166.40,523.25 166.38,522.65 166.36,522.05 166.35,521.45 166.34,520.85 166.34,520.25 166.34,519.65 166.34,519.05 166.34,518.45 166.34,517.85 166.34,517.25 166.34,516.65 166.33,516.05 166.33,515.45 166.33,514.85 166.33,514.25 166.33,513.65 166.33,513.05 166.33,512.45 166.33,511.85 166.33,511.25 166.33,510.65 166.33,510.05 166.33,509.45 166.33,508.85 166.32,508.25 166.32,507.65 166.32,507.05 166.32,506.45 166.32,505.85 166.32,505.25 166.32,504.95 166.32,505.25 166.32,505.85 166.32,506.45 166.32,507.05 166.32,507.65 166.32,508.25 166.31,508.85 166.31,509.45 166.31,510.05 166.31,510.65 166.31,511.25 166.31,511.85 166.31,512.45 166.31,513.05 166.31,513.65 166.31,514.25 166.31,514.85 166.31,515.45 166.31,516.05 166.30,516.65 166.30,517.25 166.30,517.85 166.30,518.45 166.30,519.05 166.30,519.65 166.30,520.25 166.30,520.85 166.29,521.45 166.28,522.05 166.26,522.65 166.24,523.25 166.22,523.85 166.19,524.45 166.15,525.05 166.11,525.65 166.06,526.25 166.01,526.85 165.95,527.45 165.89,528.05 165.83,528.65 165.76,529.25 165.68,529.85 165.60,530.45 165.51,531.05 165.42,531.65 165.32,532.25 165.23,532.85 165.17,533.45 165.17,534.05 165.22,534.65 165.27,535.25 165.31,535.85 165.36,536.45 165.41,537.05 165.46,537.65 165.51,538.25 165.56,538.85 165.61,539.45 165.65,540.05 165.70,540.65 165.72,541.25 165.74,541.85 165.75,542.45 165.75,543.05 165.76,543.65 165.77,544.25 165.78,544.85 165.79,545.45 165.80,546.05 165.80,546.65 165.76,547.25 165.24,547.85 164.67,548.45 164.09,549.05 163.51,549.65 162.83,550.25 162.08,550.85 161.34,551.45 160.60,552.05 159.86,552.65 159.12,553.25Z" fill="#e6df3a" stroke="#231f20" stroke-width="0.7" stroke-linejoin="round"/>
<path d="M173.62,623.75 172.98,623.15 172.34,622.55 171.70,621.95 171.06,621.35 170.42,620.75 169.78,620.15 169.14,619.55 168.46,618.95 167.76,618.35 167.06,617.75 166.44,617.15 166.35,616.55 166.34,615.95 166.34,615.35 166.34,614.75 166.34,614.15 166.34,613.55 166.34,612.95 166.34,612.35 166.34,611.75 166.34,611.15 166.34,610.55 166.34,609.95 166.34,609.35 166.34,608.75 166.34,608.15 166.34,607.55 166.34,606.95 166.34,606.35 166.34,605.75 166.34,605.15 166.34,604.55 166.33,603.95 166.33,603.35 166.33,602.75 166.33,602.15 166.33,601.55 166.33,600.95 166.33,600.35 166.33,599.75 166.33,599.15 166.33,598.55 166.33,597.95 166.33,597.35 166.33,596.75 166.33,596.15 166.33,595.55 166.33,594.95 166.33,594.35 166.33,593.75 166.33,593.15 166.33,592.55 166.33,591.95 166.33,591.35 166.33,590.75 166.33,590.15 166.33,589.55 166.33,588.95 166.33,588.35 166.33,587.75 166.33,587.15 166.33,586.55 166.33,585.95 166.33,585.35 166.33,584.75 166.33,584.15 166.33,583.55 166.33,582.95 166.33,582.35 166.33,581.75 166.33,581.15 166.33,580.55 166.33,579.95 166.33,579.35 166.32,578.75 166.32,578.15 166.32,577.55 166.32,576.95 166.32,576.35 166.32,575.75 166.32,575.15 166.32,574.55 166.32,573.95 166.32,573.35 166.32,572.75 166.32,572.15 166.32,571.55 166.32,570.95 166.32,570.35 166.32,569.75 166.32,569.15 166.32,568.55 166.32,567.95 166.32,567.35 166.32,566.75 166.32,566.35 166.32,566.75 166.32,567.35 166.32,567.95 166.32,568.55 166.32,569.15 166.32,569.75 166.32,570.35 166.32,570.95 166.32,571.55 166.32,572.15 166.32,572.75 166.32,573.35 166.32,573.95 166.32,574.55 166.32,575.15 166.32,575.75 166.32,576.35 166.32,576.95 166.32,577.55 166.32,578.15 166.32,578.75 166.31,579.35 166.31,579.95 166.31,580.55 166.31,581.15 166.31,581.75 166.31,582.35 166.31,582.95 166.31,583.55 166.31,584.15 166.31,584.75 166.31,585.35 166.31,585.95 166.31,586.55 166.31,587.15 166.31,587.75 166.31,588.35 166.31,588.95 166.31,589.55 166.31,590.15 166.31,590.75 166.31,591.35 166.31,591.95 166.31,592.55 166.31,593.15 166.31,593.75 166.31,594.35 166.31,594.95 166.31,595.55 166.31,596.15 166.31,596.75 166.31,597.35 166.31,597.95 166.31,598.55 166.31,599.15 166.31,599.75 166.31,600.35 166.31,600.95 166.31,601.55 166.31,602.15 166.31,602.75 166.31,603.35 166.31,603.95 166.30,604.55 166.30,605.15 166.30,605.75 166.30,606.35 166.30,606.95 166.30,607.55 166.30,608.15 166.30,608.75 166.30,609.35 166.30,609.95 166.30,610.55 166.30,611.15 166.30,611.75 166.30,612.35 166.30,612.95 166.30,613.55 166.30,614.15 166.30,614.75 166.30,615.35 166.30,615.95 166.29,616.55 166.20,617.15 165.58,617.75 164.88,618.35 164.18,618.95 163.50,619.55 162.86,620.15 162.22,620.75 161.58,621.35 160.94,621.95 160.30,622.55 159.66,623.15 159.02,623.75Z" fill="#e6df3a" stroke="#231f20" stroke-width="0.7" stroke-linejoin="round"/>
<path d="M191.54,553.25 189.54,552.65 187.54,552.05 185.75,551.45 184.56,550.85 184.56,550.25 184.56,549.65 184.56,549.05 184.56,548.45 184.56,547.85 184.56,547.25 184.56,546.65 184.56,546.05 184.55,545.45 184.55,544.85 184.55,544.25 184.55,543.65 184.55,543.05 184.55,542.45 184.55,541.85 184.55,541.25 184.55,540.65 184.55,540.05 184.55,539.45 184.55,538.85 184.55,538.25 184.55,537.65 184.55,537.05 184.55,536.45 184.54,535.85 184.54,535.25 184.54,534.65 184.54,534.05 184.54,533.45 184.54,532.85 184.54,532.25 184.54,531.65 184.54,531.05 184.54,530.85 184.54,531.05 184.54,531.65 184.54,532.25 184.54,532.85 184.54,533.45 184.54,534.05 184.54,534.65 184.54,535.25 184.54,535.85 184.53,536.45 184.53,537.05 184.53,537.65 184.53,538.25 184.53,538.85 184.53,539.45 184.53,540.05 184.53,540.65 184.53,541.25 184.53,541.85 184.53,542.45 184.53,543.05 184.53,543.65 184.53,544.25 184.53,544.85 184.53,545.45 184.52,546.05 184.52,546.65 184.52,547.25 184.52,547.85 184.52,548.45 184.52,549.05 184.52,549.65 184.52,550.25 184.52,550.85 183.33,551.45 181.54,552.05 179.54,552.65 177.54,553.25Z" fill="#e57c17" stroke="#231f20" stroke-width="0.7" stroke-linejoin="round"/>
<path d="M191.54,623.75 189.83,623.15 188.11,622.55 186.05,621.95 184.56,621.35 184.56,620.75 184.56,620.15 184.56,619.55 184.56,618.95 184.56,618.35 184.56,617.75 184.56,617.15 184.56,616.55 184.56,615.95 184.55,615.35 184.55,614.75 184.55,614.15 184.55,613.55 184.55,612.95 184.55,612.35 184.55,611.75 184.55,611.15 184.55,610.55 184.55,609.95 184.55,609.35 184.55,608.75 184.55,608.15 184.55,607.55 184.55,606.95 184.55,606.35 184.55,605.75 184.55,605.15 184.55,604.55 184.55,603.95 184.55,603.35 184.54,602.75 184.54,602.15 184.54,601.55 184.54,600.95 184.54,600.35 184.54,599.75 184.54,599.15 184.54,598.55 184.54,597.95 184.54,597.35 184.54,597.05 184.54,597.35 184.54,597.95 184.54,598.55 184.54,599.15 184.54,599.75 184.54,600.35 184.54,600.95 184.54,601.55 184.54,602.15 184.54,602.75 184.53,603.35 184.53,603.95 184.53,604.55 184.53,605.15 184.53,605.75 184.53,606.35 184.53,606.95 184.53,607.55 184.53,608.15 184.53,608.75 184.53,609.35 184.53,609.95 184.53,610.55 184.53,611.15 184.53,611.75 184.53,612.35 184.53,612.95 184.53,613.55 184.53,614.15 184.53,614.75 184.53,615.35 184.52,615.95 184.52,616.55 184.52,617.15 184.52,617.75 184.52,618.35 184.52,618.95 184.52,619.55 184.52,620.15 184.52,620.75 184.52,621.35 183.03,621.95 180.97,622.55 179.25,623.15 177.54,623.75Z" fill="#e57c17" stroke="#231f20" stroke-width="0.7" stroke-linejoin="round"/>
<path d="M209.76,553.25 208.72,552.65 207.67,552.05 206.63,551.45 205.57,550.85 204.46,550.25 203.34,549.65 202.78,549.05 202.78,548.45 202.78,547.85 202.78,547.25 202.78,546.65 202.78,546.05 202.78,545.45 202.78,544.85 202.78,544.25 202.78,543.65 202.78,543.05 202.78,542.45 202.78,541.85 202.78,541.25 202.78,540.65 202.77,540.05 202.77,539.45 202.77,538.85 202.77,538.25 202.77,537.65 202.77,537.05 202.77,536.45 202.77,535.85 202.77,535.25 202.77,534.65 202.77,534.05 202.77,533.45 202.77,532.85 202.77,532.25 202.77,531.65 202.77,531.05 202.77,530.45 202.77,529.85 202.77,529.25 202.77,528.65 202.77,528.05 202.77,527.45 202.77,526.85 202.77,526.25 202.77,525.65 202.77,525.05 202.77,524.45 202.77,523.85 202.77,523.25 202.77,522.65 202.77,522.05 202.76,521.45 202.76,520.85 202.76,520.25 202.76,519.65 202.76,519.05 202.76,518.45 202.76,517.85 202.76,517.25 202.76,516.65 202.76,516.05 202.76,515.45 202.76,514.85 202.76,514.25 202.76,513.65 202.76,513.05 202.76,512.85 202.76,513.05 202.76,513.65 202.76,514.25 202.76,514.85 202.76,515.45 202.76,516.05 202.76,516.65 202.76,517.25 202.76,517.85 202.76,518.45 202.76,519.05 202.76,519.65 202.76,520.25 202.76,520.85 202.76,521.45 202.75,522.05 202.75,522.65 202.75,523.25 202.75,523.85 202.75,524.45 202.75,525.05 202.75,525.65 202.75,526.25 202.75,526.85 202.75,527.45 202.75,528.05 202.75,528.65 202.75,529.25 202.75,529.85 202.75,530.45 202.75,531.05 202.75,531.65 202.75,532.25 202.75,532.85 202.75,533.45 202.75,534.05 202.75,534.65 202.75,535.25 202.75,535.85 202.75,536.45 202.75,537.05 202.75,537.65 202.75,538.25 202.75,538.85 202.75,539.45 202.75,540.05 202.74,540.65 202.74,541.25 202.74,541.85 202.74,542.45 202.74,543.05 202.74,543.65 202.74,544.25 202.74,544.85 202.74,545.45 202.74,546.05 202.74,546.65 202.74,547.25 202.74,547.85 202.74,548.45 202.74,549.05 202.18,549.65 201.06,550.25 199.95,550.85 198.89,551.45 197.85,552.05 196.80,552.65 195.76,553.25Z" fill="#d21f35" stroke="#231f20" stroke-width="0.7" stroke-linejoin="round"/>
<path d="M209.76,623.75 208.83,623.15 207.90,622.55 206.97,621.95 206.04,621.35 205.10,620.75 204.17,620.15 203.25,619.55 202.80,618.95 202.78,618.35 202.78,617.75 202.78,617.15 202.78,616.55 202.78,615.95 202.78,615.35 202.78,614.75 202.78,614.15 202.78,613.55 202.78,612.95 202.78,612.35 202.78,611.75 202.77,611.15 202.77,610.55 202.77,609.95 202.77,609.35 202.77,608.75 202.77,608.15 202.77,607.55 202.77,606.95 202.77,606.35 202.77,605.75 202.77,605.15 202.77,604.55 202.77,603.95 202.77,603.35 202.77,602.75 202.77,602.15 202.77,601.55 202.77,600.95 202.77,600.35 202.77,599.75 202.77,599.15 202.77,598.55 202.77,597.95 202.77,597.35 202.77,596.75 202.76,596.15 202.76,595.55 202.76,594.95 202.76,594.35 202.76,593.75 202.76,593.15 202.76,592.55 202.76,591.95 202.76,591.35 202.76,590.75 202.76,590.15 202.76,589.55 202.76,589.15 202.76,589.55 202.76,590.15 202.76,590.75 202.76,591.35 202.76,591.95 202.76,592.55 202.76,593.15 202.76,593.75 202.76,594.35 202.76,594.95 202.76,595.55 202.76,596.15 202.75,596.75 202.75,597.35 202.75,597.95 202.75,598.55 202.75,599.15 202.75,599.75 202.75,600.35 202.75,600.95 202.75,601.55 202.75,602.15 202.75,602.75 202.75,603.35 202.75,603.95 202.75,604.55 202.75,605.15 202.75,605.75 202.75,606.35 202.75,606.95 202.75,607.55 202.75,608.15 202.75,608.75 202.75,609.35 202.75,609.95 202.75,610.55 202.75,611.15 202.74,611.75 202.74,612.35 202.74,612.95 202.74,613.55 202.74,614.15 202.74,614.75 202.74,615.35 202.74,615.95 202.74,616.55 202.74,617.15 202.74,617.75 202.74,618.35 202.72,618.95 202.27,619.55 201.34,620.15 200.41,620.75 199.48,621.35 198.55,621.95 197.62,622.55 196.69,623.15 195.76,623.75Z" fill="#d21f35" stroke="#231f20" stroke-width="0.7" stroke-linejoin="round"/>
<path d="M227.98,553.25 225.98,552.65 223.98,552.05 222.19,551.45 221.00,550.85 221.00,550.25 221.00,549.65 221.00,549.05 221.00,548.45 221.00,547.85 220.99,547.25 220.99,546.65 220.99,546.05 220.99,545.45 220.99,544.85 220.99,544.25 220.99,543.65 220.99,543.05 220.99,542.45 220.99,541.85 220.99,541.25 220.99,540.65 220.99,540.05 220.98,539.45 220.98,538.85 220.98,538.25 220.98,537.65 220.98,537.05 220.98,536.45 220.98,536.15 220.98,536.45 220.98,537.05 220.98,537.65 220.98,538.25 220.98,538.85 220.98,539.45 220.97,540.05 220.97,540.65 220.97,541.25 220.97,541.85 220.97,542.45 220.97,543.05 220.97,543.65 220.97,544.25 220.97,544.85 220.97,545.45 220.97,546.05 220.97,546.65 220.97,547.25 220.96,547.85 220.96,548.45 220.96,549.05 220.96,549.65 220.96,550.25 220.96,550.85 219.77,551.45 217.98,552.05 215.98,552.65 213.98,553.25Z" fill="#7f98d4" stroke="#231f20" stroke-width="0.7" stroke-linejoin="round"/>
<path d="M227.98,623.75 226.48,623.15 224.98,622.55 223.48,621.95 221.66,621.35 221.00,620.75 221.00,620.15 221.00,619.55 221.00,618.95 221.00,618.35 221.00,617.75 221.00,617.15 221.00,616.55 220.99,615.95 220.99,615.35 220.99,614.75 220.99,614.15 220.99,613.55 220.99,612.95 220.99,612.35 220.99,611.75 220.99,611.15 220.99,610.55 220.99,609.95 220.99,609.35 220.99,608.75 220.99,608.15 220.99,607.55 220.99,606.95 220.98,606.35 220.98,605.75 220.98,605.15 220.98,604.55 220.98,603.95 220.98,603.35 220.98,602.75 220.98,602.15 220.98,601.75 220.98,602.15 220.98,602.75 220.98,603.35 220.98,603.95 220.98,604.55 220.98,605.15 220.98,605.75 220.98,606.35 220.97,606.95 220.97,607.55 220.97,608.15 220.97,608.75 220.97,609.35 220.97,609.95 220.97,610.55 220.97,611.15 220.97,611.75 220.97,612.35 220.97,612.95 220.97,613.55 220.97,614.15 220.97,614.75 220.97,615.35 220.97,615.95 220.96,616.55 220.96,617.15 220.96,617.75 220.96,618.35 220.96,618.95 220.96,619.55 220.96,620.15 220.96,620.75 220.30,621.35 218.48,621.95 216.98,622.55 215.48,623.15 213.98,623.75Z" fill="#7f98d4" stroke="#231f20" stroke-width="0.7" stroke-linejoin="round"/>
<path d="M246.20,553.25 245.17,552.65 244.13,552.05 243.10,551.45 242.06,550.85 240.87,550.25 239.22,549.65 239.22,549.05 239.22,548.45 239.22,547.85 239.22,547.25 239.22,546.65 239.22,546.05 239.22,545.45 239.22,544.85 239.22,544.25 239.22,543.65 239.22,543.05 239.21,542.45 239.21,541.85 239.21,541.25 239.21,540.65 239.21,540.05 239.21,539.45 239.21,538.85 239.21,538.25 239.21,537.65 239.21,537.05 239.21,536.45 239.21,535.85 239.21,535.25 239.21,534.65 239.21,534.05 239.21,533.45 239.21,532.85 239.21,532.25 239.21,531.65 239.21,531.05 239.21,530.45 239.21,529.85 239.21,529.25 239.20,528.65 239.20,528.05 239.20,527.45 239.20,526.85 239.20,526.25 239.20,525.65 239.20,525.05 239.20,524.45 239.20,523.85 239.20,523.25 239.20,522.65 239.20,522.35 239.20,522.65 239.20,523.25 239.20,523.85 239.20,524.45 239.20,525.05 239.20,525.65 239.20,526.25 239.20,526.85 239.20,527.45 239.20,528.05 239.20,528.65 239.19,529.25 239.19,529.85 239.19,530.45 239.19,531.05 239.19,531.65 239.19,532.25 239.19,532.85 239.19,533.45 239.19,534.05 239.19,534.65 239.19,535.25 239.19,535.85 239.19,536.45 239.19,537.05 239.19,537.65 239.19,538.25 239.19,538.85 239.19,539.45 239.19,540.05 239.19,540.65 239.19,541.25 239.19,541.85 239.19,542.45 239.18,543.05 239.18,543.65 239.18,544.25 239.18,544.85 239.18,545.45 239.18,546.05 239.18,546.65 239.18,547.25 239.18,547.85 239.18,548.45 239.18,549.05 239.18,549.65 237.53,550.25 236.34,550.85 235.30,551.45 234.27,552.05 233.23,552.65 232.20,553.25Z" fill="#2a9a48" stroke="#231f20" stroke-width="0.7" stroke-linejoin="round"/>
<path d="M246.20,623.75 245.34,623.15 244.49,622.55 243.63,621.95 242.77,621.35 241.91,620.75 241.00,620.15 239.82,619.55 239.24,618.95 239.22,618.35 239.22,617.75 239.22,617.15 239.22,616.55 239.22,615.95 239.22,615.35 239.22,614.75 239.22,614.15 239.22,613.55 239.22,612.95 239.21,612.35 239.21,611.75 239.21,611.15 239.21,610.55 239.21,609.95 239.21,609.35 239.21,608.75 239.21,608.15 239.21,607.55 239.21,606.95 239.21,606.35 239.21,605.75 239.21,605.15 239.21,604.55 239.21,603.95 239.21,603.35 239.21,602.75 239.21,602.15 239.21,601.55 239.21,600.95 239.21,600.35 239.21,599.75 239.21,599.15 239.20,598.55 239.20,597.95 239.20,597.35 239.20,596.75 239.20,596.15 239.20,595.55 239.20,594.95 239.20,594.35 239.20,593.75 239.20,593.15 239.20,592.55 239.20,591.95 239.20,591.75 239.20,591.95 239.20,592.55 239.20,593.15 239.20,593.75 239.20,594.35 239.20,594.95 239.20,595.55 239.20,596.15 239.20,596.75 239.20,597.35 239.20,597.95 239.20,598.55 239.19,599.15 239.19,599.75 239.19,600.35 239.19,600.95 239.19,601.55 239.19,602.15 239.19,602.75 239.19,603.35 239.19,603.95 239.19,604.55 239.19,605.15 239.19,605.75 239.19,606.35 239.19,606.95 239.19,607.55 239.19,608.15 239.19,608.75 239.19,609.35 239.19,609.95 239.19,610.55 239.19,611.15 239.19,611.75 239.19,612.35 239.18,612.95 239.18,613.55 239.18,614.15 239.18,614.75 239.18,615.35 239.18,615.95 239.18,616.55 239.18,617.15 239.18,617.75 239.18,618.35 239.16,618.95 238.58,619.55 237.40,620.15 236.49,620.75 235.63,621.35 234.77,621.95 233.91,622.55 233.06,623.15 232.20,623.75Z" fill="#2a9a48" stroke="#231f20" stroke-width="0.7" stroke-linejoin="round"/>
<rect x="47.8" y="484.0" width="200.10000000000002" height="142.75" fill="none" stroke="#231f20" stroke-width="1.2"/>
<line x1="47.80" y1="555.50" x2="247.90" y2="555.50" stroke="#231f20" stroke-width="1.2" />
<text transform="translate(51.00,493.60) scale(0.92,1)" x="0" y="0" font-size="8.2" text-anchor="start" font-weight="normal" font-style="italic" fill="#231f20" stroke="#231f20" stroke-width="0.25" >Epor</text>
<text transform="translate(244.40,492.90) scale(0.93,1)" x="0" y="0" font-size="7.8" text-anchor="end" font-weight="normal" font-style="normal" fill="#231f20" stroke="#231f20" stroke-width="0.25" >WT</text>
<text x="244.80" y="564.90" font-size="7.6" text-anchor="end" font-weight="normal" font-style="normal" fill="#231f20" stroke="#231f20" stroke-width="0.25" >W<tspan font-size="5.6" dy="-2.9">41</tspan><tspan dy="2.9">/W</tspan><tspan font-size="5.6" dy="-2.9">41</tspan></text>
<line x1="44.60" y1="553.25" x2="47.80" y2="553.25" stroke="#231f20" stroke-width="1" />
<text transform="translate(40.80,556.15) scale(0.9,1)" x="0" y="0" font-size="8.3" text-anchor="end" font-weight="normal" font-style="normal" fill="#231f20" stroke="#231f20" stroke-width="0.25" >0.0</text>
<line x1="44.60" y1="541.75" x2="47.80" y2="541.75" stroke="#231f20" stroke-width="1" />
<text transform="translate(40.80,544.65) scale(0.9,1)" x="0" y="0" font-size="8.3" text-anchor="end" font-weight="normal" font-style="normal" fill="#231f20" stroke="#231f20" stroke-width="0.25" >0.2</text>
<line x1="44.60" y1="530.25" x2="47.80" y2="530.25" stroke="#231f20" stroke-width="1" />
<text transform="translate(40.80,533.15) scale(0.9,1)" x="0" y="0" font-size="8.3" text-anchor="end" font-weight="normal" font-style="normal" fill="#231f20" stroke="#231f20" stroke-width="0.25" >0.4</text>
<line x1="44.60" y1="518.75" x2="47.80" y2="518.75" stroke="#231f20" stroke-width="1" />
<text transform="translate(40.80,521.65) scale(0.9,1)" x="0" y="0" font-size="8.3" text-anchor="end" font-weight="normal" font-style="normal" fill="#231f20" stroke="#231f20" stroke-width="0.25" >0.6</text>
<line x1="44.60" y1="507.25" x2="47.80" y2="507.25" stroke="#231f20" stroke-width="1" />
<text transform="translate(40.80,510.15) scale(0.9,1)" x="0" y="0" font-size="8.3" text-anchor="end" font-weight="normal" font-style="normal" fill="#231f20" stroke="#231f20" stroke-width="0.25" >0.8</text>
<line x1="44.60" y1="495.75" x2="47.80" y2="495.75" stroke="#231f20" stroke-width="1" />
<text transform="translate(40.80,498.65) scale(0.9,1)" x="0" y="0" font-size="8.3" text-anchor="end" font-weight="normal" font-style="normal" fill="#231f20" stroke="#231f20" stroke-width="0.25" >1.0</text>
<line x1="44.60" y1="623.75" x2="47.80" y2="623.75" stroke="#231f20" stroke-width="1" />
<text transform="translate(40.80,626.65) scale(0.9,1)" x="0" y="0" font-size="8.3" text-anchor="end" font-weight="normal" font-style="normal" fill="#231f20" stroke="#231f20" stroke-width="0.25" >0.0</text>
<line x1="44.60" y1="609.85" x2="47.80" y2="609.85" stroke="#231f20" stroke-width="1" />
<text transform="translate(40.80,612.75) scale(0.9,1)" x="0" y="0" font-size="8.3" text-anchor="end" font-weight="normal" font-style="normal" fill="#231f20" stroke="#231f20" stroke-width="0.25" >0.2</text>
<line x1="44.60" y1="595.95" x2="47.80" y2="595.95" stroke="#231f20" stroke-width="1" />
<text transform="translate(40.80,598.85) scale(0.9,1)" x="0" y="0" font-size="8.3" text-anchor="end" font-weight="normal" font-style="normal" fill="#231f20" stroke="#231f20" stroke-width="0.25" >0.4</text>
<line x1="44.60" y1="582.05" x2="47.80" y2="582.05" stroke="#231f20" stroke-width="1" />
<text transform="translate(40.80,584.95) scale(0.9,1)" x="0" y="0" font-size="8.3" text-anchor="end" font-weight="normal" font-style="normal" fill="#231f20" stroke="#231f20" stroke-width="0.25" >0.6</text>
<line x1="44.60" y1="568.15" x2="47.80" y2="568.15" stroke="#231f20" stroke-width="1" />
<text transform="translate(40.80,571.05) scale(0.9,1)" x="0" y="0" font-size="8.3" text-anchor="end" font-weight="normal" font-style="normal" fill="#231f20" stroke="#231f20" stroke-width="0.25" >0.8</text>
<line x1="57.00" y1="626.75" x2="57.00" y2="629.75" stroke="#231f20" stroke-width="1" />
<text transform="translate(57.00,640.35) scale(0.9,1)" x="0" y="0" font-size="8.3" text-anchor="middle" font-weight="normal" font-style="normal" fill="#231f20" stroke="#231f20" stroke-width="0.25" >1</text>
<line x1="75.22" y1="626.75" x2="75.22" y2="629.75" stroke="#231f20" stroke-width="1" />
<text transform="translate(75.22,640.35) scale(0.9,1)" x="0" y="0" font-size="8.3" text-anchor="middle" font-weight="normal" font-style="normal" fill="#231f20" stroke="#231f20" stroke-width="0.25" >2</text>
<line x1="93.44" y1="626.75" x2="93.44" y2="629.75" stroke="#231f20" stroke-width="1" />
<text transform="translate(93.44,640.35) scale(0.9,1)" x="0" y="0" font-size="8.3" text-anchor="middle" font-weight="normal" font-style="normal" fill="#231f20" stroke="#231f20" stroke-width="0.25" >3</text>
<line x1="111.66" y1="626.75" x2="111.66" y2="629.75" stroke="#231f20" stroke-width="1" />
<text transform="translate(111.66,640.35) scale(0.9,1)" x="0" y="0" font-size="8.3" text-anchor="middle" font-weight="normal" font-style="normal" fill="#231f20" stroke="#231f20" stroke-width="0.25" >4</text>
<line x1="129.88" y1="626.75" x2="129.88" y2="629.75" stroke="#231f20" stroke-width="1" />
<text transform="translate(129.88,640.35) scale(0.9,1)" x="0" y="0" font-size="8.3" text-anchor="middle" font-weight="normal" font-style="normal" fill="#231f20" stroke="#231f20" stroke-width="0.25" >5</text>
<line x1="148.10" y1="626.75" x2="148.10" y2="629.75" stroke="#231f20" stroke-width="1" />
<text transform="translate(148.10,640.35) scale(0.9,1)" x="0" y="0" font-size="8.3" text-anchor="middle" font-weight="normal" font-style="normal" fill="#231f20" stroke="#231f20" stroke-width="0.25" >6</text>
<line x1="166.32" y1="626.75" x2="166.32" y2="629.75" stroke="#231f20" stroke-width="1" />
<text transform="translate(166.32,640.35) scale(0.9,1)" x="0" y="0" font-size="8.3" text-anchor="middle" font-weight="normal" font-style="normal" fill="#231f20" stroke="#231f20" stroke-width="0.25" >7</text>
<line x1="184.54" y1="626.75" x2="184.54" y2="629.75" stroke="#231f20" stroke-width="1" />
<text transform="translate(184.54,640.35) scale(0.9,1)" x="0" y="0" font-size="8.3" text-anchor="middle" font-weight="normal" font-style="normal" fill="#231f20" stroke="#231f20" stroke-width="0.25" >8</text>
<line x1="202.76" y1="626.75" x2="202.76" y2="629.75" stroke="#231f20" stroke-width="1" />
<text transform="translate(202.76,640.35) scale(0.9,1)" x="0" y="0" font-size="8.3" text-anchor="middle" font-weight="normal" font-style="normal" fill="#231f20" stroke="#231f20" stroke-width="0.25" >9</text>
<line x1="220.98" y1="626.75" x2="220.98" y2="629.75" stroke="#231f20" stroke-width="1" />
<text transform="translate(220.98,640.35) scale(0.9,1)" x="0" y="0" font-size="8.3" text-anchor="middle" font-weight="normal" font-style="normal" fill="#231f20" stroke="#231f20" stroke-width="0.25" >10</text>
<line x1="239.20" y1="626.75" x2="239.20" y2="629.75" stroke="#231f20" stroke-width="1" />
<text transform="translate(239.20,640.35) scale(0.9,1)" x="0" y="0" font-size="8.3" text-anchor="middle" font-weight="normal" font-style="normal" fill="#231f20" stroke="#231f20" stroke-width="0.25" >11</text>
<text x="147.85" y="654.55" font-size="10.2" text-anchor="middle" font-weight="normal" font-style="normal" fill="#231f20" stroke="#231f20" stroke-width="0.25" textLength="24.6" lengthAdjust="spacingAndGlyphs" >Cluster</text>
<g transform="translate(23.9,555) rotate(-90)">
<text x="0.00" y="0.00" font-size="9.3" text-anchor="middle" font-weight="normal" font-style="normal" fill="#231f20" stroke="#231f20" stroke-width="0.25" textLength="137.5" lengthAdjust="spacingAndGlyphs" >Normalized gene expression (log-scale)</text>
</g>
<text x="264.60" y="474.40" font-size="12" text-anchor="start" font-weight="bold" font-style="normal" fill="#000" stroke="#000" stroke-width="0.25" >G</text>
<path d="M317.75,551.25 316.62,550.65 315.50,550.05 314.38,549.45 313.25,548.85 312.63,548.25 312.01,547.65 311.39,547.05 310.80,546.45 310.77,545.85 310.77,545.25 310.77,544.65 310.77,544.05 310.77,543.45 310.77,542.85 310.77,542.25 310.77,541.65 310.77,541.05 310.77,540.45 310.77,539.85 310.77,539.25 310.77,538.65 310.77,538.05 310.77,537.45 310.77,536.85 310.77,536.25 310.76,535.65 310.76,535.05 310.76,534.45 310.76,533.85 310.76,533.25 310.76,532.65 310.76,532.05 310.76,531.45 310.76,530.85 310.76,530.25 310.76,529.65 310.76,529.05 310.76,528.45 310.76,527.85 310.76,527.25 310.76,526.65 310.76,526.05 310.76,525.45 310.76,524.85 310.76,524.25 310.76,523.65 310.76,523.05 310.76,522.45 310.76,521.85 310.76,521.25 310.76,520.65 310.76,520.05 310.76,519.45 310.76,518.85 310.76,518.25 310.76,517.65 310.76,517.05 310.76,516.45 310.76,515.85 310.76,515.25 310.76,514.65 310.75,514.05 310.75,513.45 310.75,512.85 310.75,512.25 310.75,511.65 310.75,511.05 310.75,510.45 310.75,509.85 310.75,509.25 310.75,508.65 310.75,508.05 310.75,507.45 310.75,506.85 310.75,506.25 310.75,505.65 310.75,505.05 310.75,504.45 310.75,503.95 310.75,504.45 310.75,505.05 310.75,505.65 310.75,506.25 310.75,506.85 310.75,507.45 310.75,508.05 310.75,508.65 310.75,509.25 310.75,509.85 310.75,510.45 310.75,511.05 310.75,511.65 310.75,512.25 310.75,512.85 310.75,513.45 310.75,514.05 310.74,514.65 310.74,515.25 310.74,515.85 310.74,516.45 310.74,517.05 310.74,517.65 310.74,518.25 310.74,518.85 310.74,519.45 310.74,520.05 310.74,520.65 310.74,521.25 310.74,521.85 310.74,522.45 310.74,523.05 310.74,523.65 310.74,524.25 310.74,524.85 310.74,525.45 310.74,526.05 310.74,526.65 310.74,527.25 310.74,527.85 310.74,528.45 310.74,529.05 310.74,529.65 310.74,530.25 310.74,530.85 310.74,531.45 310.74,532.05 310.74,532.65 310.74,533.25 310.74,533.85 310.74,534.45 310.74,535.05 310.74,535.65 310.73,536.25 310.73,536.85 310.73,537.45 310.73,538.05 310.73,538.65 310.73,539.25 310.73,539.85 310.73,540.45 310.73,541.05 310.73,541.65 310.73,542.25 310.73,542.85 310.73,543.45 310.73,544.05 310.73,544.65 310.73,545.25 310.73,545.85 310.70,546.45 310.11,547.05 309.49,547.65 308.87,548.25 308.25,548.85 307.12,549.45 306.00,550.05 304.88,550.65 303.75,551.25Z" fill="#9cc48e" stroke="#231f20" stroke-width="0.7" stroke-linejoin="round"/>
<path d="M317.75,623.75 316.62,623.15 315.50,622.55 314.38,621.95 313.25,621.35 312.54,620.75 311.83,620.15 311.13,619.55 310.78,618.95 310.77,618.35 310.77,617.75 310.77,617.15 310.77,616.55 310.77,615.95 310.77,615.35 310.77,614.75 310.77,614.15 310.77,613.55 310.77,612.95 310.77,612.35 310.77,611.75 310.77,611.15 310.77,610.55 310.77,609.95 310.77,609.35 310.77,608.75 310.77,608.15 310.76,607.55 310.76,606.95 310.76,606.35 310.76,605.75 310.76,605.15 310.76,604.55 310.76,603.95 310.76,603.35 310.76,602.75 310.76,602.15 310.76,601.55 310.76,600.95 310.76,600.35 310.76,599.75 310.76,599.15 310.76,598.55 310.76,597.95 310.76,597.35 310.76,596.75 310.76,596.15 310.76,595.55 310.76,594.95 310.76,594.35 310.76,593.75 310.76,593.15 310.76,592.55 310.76,591.95 310.76,591.35 310.76,590.75 310.76,590.15 310.76,589.55 310.76,588.95 310.76,588.35 310.76,587.75 310.76,587.15 310.76,586.55 310.76,585.95 310.76,585.35 310.75,584.75 310.75,584.15 310.75,583.55 310.75,582.95 310.75,582.35 310.75,581.75 310.75,581.15 310.75,580.55 310.75,579.95 310.75,579.35 310.75,578.75 310.75,578.15 310.75,577.55 310.75,576.95 310.75,576.35 310.75,575.75 310.75,575.15 310.75,574.55 310.75,573.95 310.75,573.35 310.75,573.25 310.75,573.35 310.75,573.95 310.75,574.55 310.75,575.15 310.75,575.75 310.75,576.35 310.75,576.95 310.75,577.55 310.75,578.15 310.75,578.75 310.75,579.35 310.75,579.95 310.75,580.55 310.75,581.15 310.75,581.75 310.75,582.35 310.75,582.95 310.75,583.55 310.75,584.15 310.75,584.75 310.74,585.35 310.74,585.95 310.74,586.55 310.74,587.15 310.74,587.75 310.74,588.35 310.74,588.95 310.74,589.55 310.74,590.15 310.74,590.75 310.74,591.35 310.74,591.95 310.74,592.55 310.74,593.15 310.74,593.75 310.74,594.35 310.74,594.95 310.74,595.55 310.74,596.15 310.74,596.75 310.74,597.35 310.74,597.95 310.74,598.55 310.74,599.15 310.74,599.75 310.74,600.35 310.74,600.95 310.74,601.55 310.74,602.15 310.74,602.75 310.74,603.35 310.74,603.95 310.74,604.55 310.74,605.15 310.74,605.75 310.74,606.35 310.74,606.95 310.74,607.55 310.73,608.15 310.73,608.75 310.73,609.35 310.73,609.95 310.73,610.55 310.73,611.15 310.73,611.75 310.73,612.35 310.73,612.95 310.73,613.55 310.73,614.15 310.73,614.75 310.73,615.35 310.73,615.95 310.73,616.55 310.73,617.15 310.73,617.75 310.73,618.35 310.72,618.95 310.37,619.55 309.67,620.15 308.96,620.75 308.25,621.35 307.12,621.95 306.00,622.55 304.88,623.15 303.75,623.75Z" fill="#9cc48e" stroke="#231f20" stroke-width="0.7" stroke-linejoin="round"/>
<path d="M336.00,551.25 335.38,550.65 334.76,550.05 334.15,549.45 333.53,548.85 332.91,548.25 332.33,547.65 331.83,547.05 331.32,546.45 330.81,545.85 330.31,545.25 329.90,544.65 330.04,544.05 330.26,543.45 330.48,542.85 330.71,542.25 330.94,541.65 331.17,541.05 331.39,540.45 331.62,539.85 331.84,539.25 332.02,538.65 332.16,538.05 332.28,537.45 332.40,536.85 332.53,536.25 332.65,535.65 332.77,535.05 332.89,534.45 333.01,533.85 333.13,533.25 333.25,532.65 333.38,532.05 333.50,531.45 333.60,530.85 333.64,530.25 333.60,529.65 333.52,529.05 333.45,528.45 333.38,527.85 333.30,527.25 333.23,526.65 333.15,526.05 333.07,525.45 333.00,524.85 332.93,524.25 332.85,523.65 332.77,523.05 332.70,522.45 332.62,521.85 332.55,521.25 332.46,520.65 332.36,520.05 332.25,519.45 332.14,518.85 332.04,518.25 331.93,517.65 331.82,517.05 331.71,516.45 331.61,515.85 331.50,515.25 331.39,514.65 331.29,514.05 331.18,513.45 331.06,512.85 330.91,512.25 330.72,511.65 330.52,511.05 330.33,510.45 330.15,509.85 329.99,509.25 329.84,508.65 329.70,508.05 329.57,507.45 329.46,506.85 329.36,506.25 329.28,505.65 329.20,505.05 329.14,504.45 329.09,503.85 329.06,503.25 329.04,502.65 329.03,502.05 329.02,501.45 329.02,500.85 329.02,500.25 329.02,499.65 329.01,499.05 329.01,498.45 329.01,497.85 329.01,497.25 329.01,496.65 329.01,496.05 329.01,495.45 329.01,494.85 329.00,494.25 329.00,493.65 329.00,493.05 329.00,492.45 329.00,492.35 329.00,492.45 329.00,493.05 329.00,493.65 329.00,494.25 328.99,494.85 328.99,495.45 328.99,496.05 328.99,496.65 328.99,497.25 328.99,497.85 328.99,498.45 328.99,499.05 328.98,499.65 328.98,500.25 328.98,500.85 328.98,501.45 328.97,502.05 328.96,502.65 328.94,503.25 328.91,503.85 328.86,504.45 328.80,505.05 328.72,505.65 328.64,506.25 328.54,506.85 328.43,507.45 328.30,508.05 328.16,508.65 328.01,509.25 327.85,509.85 327.67,510.45 327.48,511.05 327.28,511.65 327.09,512.25 326.94,512.85 326.82,513.45 326.71,514.05 326.61,514.65 326.50,515.25 326.39,515.85 326.29,516.45 326.18,517.05 326.07,517.65 325.96,518.25 325.86,518.85 325.75,519.45 325.64,520.05 325.54,520.65 325.45,521.25 325.38,521.85 325.30,522.45 325.23,523.05 325.15,523.65 325.07,524.25 325.00,524.85 324.93,525.45 324.85,526.05 324.77,526.65 324.70,527.25 324.62,527.85 324.55,528.45 324.48,529.05 324.40,529.65 324.36,530.25 324.40,530.85 324.50,531.45 324.62,532.05 324.75,532.65 324.87,533.25 324.99,533.85 325.11,534.45 325.23,535.05 325.35,535.65 325.47,536.25 325.60,536.85 325.72,537.45 325.84,538.05 325.98,538.65 326.16,539.25 326.38,539.85 326.61,540.45 326.83,541.05 327.06,541.65 327.29,542.25 327.52,542.85 327.74,543.45 327.96,544.05 328.10,544.65 327.69,545.25 327.19,545.85 326.68,546.45 326.17,547.05 325.67,547.65 325.09,548.25 324.47,548.85 323.85,549.45 323.24,550.05 322.62,550.65 322.00,551.25Z" fill="#c41f7a" stroke="#231f20" stroke-width="0.7" stroke-linejoin="round"/>
<path d="M336.00,623.75 335.08,623.15 334.15,622.55 333.23,621.95 332.31,621.35 331.60,620.75 331.00,620.15 330.40,619.55 329.82,618.95 329.64,618.35 329.67,617.75 329.71,617.15 329.75,616.55 329.79,615.95 329.85,615.35 329.93,614.75 330.00,614.15 330.08,613.55 330.15,612.95 330.23,612.35 330.31,611.75 330.38,611.15 330.46,610.55 330.54,609.95 330.61,609.35 330.66,608.75 330.65,608.15 330.61,607.55 330.56,606.95 330.51,606.35 330.46,605.75 330.41,605.15 330.36,604.55 330.31,603.95 330.26,603.35 330.21,602.75 330.16,602.15 330.12,601.55 330.07,600.95 330.01,600.35 329.93,599.75 329.84,599.15 329.75,598.55 329.66,597.95 329.58,597.35 329.51,596.75 329.44,596.15 329.37,595.55 329.31,594.95 329.26,594.35 329.21,593.75 329.17,593.15 329.13,592.55 329.10,591.95 329.07,591.35 329.05,590.75 329.04,590.15 329.03,589.55 329.02,588.95 329.02,588.35 329.02,587.75 329.02,587.15 329.02,586.55 329.02,585.95 329.01,585.35 329.01,584.75 329.01,584.15 329.01,583.55 329.01,582.95 329.01,582.35 329.01,581.75 329.01,581.15 329.01,580.55 329.01,579.95 329.00,579.35 329.00,578.75 329.00,578.15 329.00,577.55 329.00,576.95 329.00,577.55 329.00,578.15 329.00,578.75 329.00,579.35 328.99,579.95 328.99,580.55 328.99,581.15 328.99,581.75 328.99,582.35 328.99,582.95 328.99,583.55 328.99,584.15 328.99,584.75 328.99,585.35 328.98,585.95 328.98,586.55 328.98,587.15 328.98,587.75 328.98,588.35 328.98,588.95 328.97,589.55 328.96,590.15 328.95,590.75 328.93,591.35 328.90,591.95 328.87,592.55 328.83,593.15 328.79,593.75 328.74,594.35 328.69,594.95 328.63,595.55 328.56,596.15 328.49,596.75 328.42,597.35 328.34,597.95 328.25,598.55 328.16,599.15 328.07,599.75 327.99,600.35 327.93,600.95 327.88,601.55 327.84,602.15 327.79,602.75 327.74,603.35 327.69,603.95 327.64,604.55 327.59,605.15 327.54,605.75 327.49,606.35 327.44,606.95 327.39,607.55 327.35,608.15 327.34,608.75 327.39,609.35 327.46,609.95 327.54,610.55 327.62,611.15 327.69,611.75 327.77,612.35 327.85,612.95 327.92,613.55 328.00,614.15 328.07,614.75 328.15,615.35 328.21,615.95 328.25,616.55 328.29,617.15 328.33,617.75 328.36,618.35 328.18,618.95 327.60,619.55 327.00,620.15 326.40,620.75 325.69,621.35 324.77,621.95 323.85,622.55 322.92,623.15 322.00,623.75Z" fill="#c41f7a" stroke="#231f20" stroke-width="0.7" stroke-linejoin="round"/>
<path d="M354.25,551.25 353.63,550.65 353.01,550.05 352.40,549.45 351.78,548.85 351.16,548.25 350.53,547.65 349.88,547.05 349.23,546.45 348.57,545.85 347.93,545.25 347.36,544.65 347.30,544.05 347.31,543.45 347.33,542.85 347.35,542.25 347.37,541.65 347.39,541.05 347.41,540.45 347.43,539.85 347.45,539.25 347.47,538.65 347.49,538.05 347.51,537.45 347.53,536.85 347.55,536.25 347.57,535.65 347.59,535.05 347.61,534.45 347.64,533.85 347.66,533.25 347.68,532.65 347.70,532.05 347.72,531.45 347.74,530.85 347.77,530.25 347.82,529.65 347.87,529.05 347.93,528.45 347.98,527.85 348.03,527.25 348.09,526.65 348.14,526.05 348.19,525.45 348.24,524.85 348.30,524.25 348.35,523.65 348.40,523.05 348.45,522.45 348.45,521.85 348.41,521.25 348.33,520.65 348.25,520.05 348.18,519.45 348.10,518.85 348.02,518.25 347.94,517.65 347.87,517.05 347.79,516.45 347.71,515.85 347.63,515.25 347.55,514.65 347.48,514.05 347.40,513.45 347.33,512.85 347.28,512.25 347.27,511.65 347.27,511.05 347.27,510.45 347.27,509.85 347.27,509.25 347.27,508.65 347.27,508.05 347.26,507.45 347.26,506.85 347.26,506.25 347.26,505.65 347.26,505.05 347.26,504.45 347.26,503.85 347.26,503.25 347.26,502.65 347.26,502.05 347.26,501.45 347.26,500.85 347.26,500.25 347.26,499.65 347.26,499.05 347.26,498.45 347.25,497.85 347.25,497.25 347.25,496.65 347.25,496.05 347.25,495.45 347.25,494.85 347.25,494.25 347.25,493.65 347.25,493.35 347.25,493.65 347.25,494.25 347.25,494.85 347.25,495.45 347.25,496.05 347.25,496.65 347.25,497.25 347.25,497.85 347.24,498.45 347.24,499.05 347.24,499.65 347.24,500.25 347.24,500.85 347.24,501.45 347.24,502.05 347.24,502.65 347.24,503.25 347.24,503.85 347.24,504.45 347.24,505.05 347.24,505.65 347.24,506.25 347.24,506.85 347.24,507.45 347.23,508.05 347.23,508.65 347.23,509.25 347.23,509.85 347.23,510.45 347.23,511.05 347.23,511.65 347.22,512.25 347.17,512.85 347.10,513.45 347.02,514.05 346.95,514.65 346.87,515.25 346.79,515.85 346.71,516.45 346.63,517.05 346.56,517.65 346.48,518.25 346.40,518.85 346.32,519.45 346.25,520.05 346.17,520.65 346.09,521.25 346.05,521.85 346.05,522.45 346.10,523.05 346.15,523.65 346.20,524.25 346.26,524.85 346.31,525.45 346.36,526.05 346.41,526.65 346.47,527.25 346.52,527.85 346.57,528.45 346.63,529.05 346.68,529.65 346.73,530.25 346.76,530.85 346.78,531.45 346.80,532.05 346.82,532.65 346.84,533.25 346.86,533.85 346.89,534.45 346.91,535.05 346.93,535.65 346.95,536.25 346.97,536.85 346.99,537.45 347.01,538.05 347.03,538.65 347.05,539.25 347.07,539.85 347.09,540.45 347.11,541.05 347.13,541.65 347.15,542.25 347.17,542.85 347.19,543.45 347.20,544.05 347.14,544.65 346.57,545.25 345.93,545.85 345.27,546.45 344.62,547.05 343.97,547.65 343.34,548.25 342.72,548.85 342.10,549.45 341.49,550.05 340.87,550.65 340.25,551.25Z" fill="#e89c98" stroke="#231f20" stroke-width="0.7" stroke-linejoin="round"/>
<path d="M354.25,623.75 353.51,623.15 352.77,622.55 352.03,621.95 351.30,621.35 350.58,620.75 349.88,620.15 349.18,619.55 348.49,618.95 348.00,618.35 347.60,617.75 347.31,617.15 347.27,616.55 347.27,615.95 347.27,615.35 347.27,614.75 347.27,614.15 347.27,613.55 347.27,612.95 347.27,612.35 347.27,611.75 347.27,611.15 347.27,610.55 347.27,609.95 347.27,609.35 347.27,608.75 347.27,608.15 347.27,607.55 347.27,606.95 347.27,606.35 347.26,605.75 347.26,605.15 347.26,604.55 347.26,603.95 347.26,603.35 347.26,602.75 347.26,602.15 347.26,601.55 347.26,600.95 347.26,600.35 347.26,599.75 347.26,599.15 347.26,598.55 347.26,597.95 347.26,597.35 347.26,596.75 347.26,596.15 347.26,595.55 347.26,594.95 347.26,594.35 347.26,593.75 347.26,593.15 347.26,592.55 347.26,591.95 347.26,591.35 347.26,590.75 347.26,590.15 347.26,589.55 347.26,588.95 347.26,588.35 347.26,587.75 347.26,587.15 347.26,586.55 347.26,585.95 347.26,585.35 347.26,584.75 347.25,584.15 347.25,583.55 347.25,582.95 347.25,582.35 347.25,581.75 347.25,581.15 347.25,580.55 347.25,579.95 347.25,579.35 347.25,578.75 347.25,578.15 347.25,577.55 347.25,576.95 347.25,576.35 347.25,575.75 347.25,575.15 347.25,574.55 347.25,573.95 347.25,573.35 347.25,573.25 347.25,573.35 347.25,573.95 347.25,574.55 347.25,575.15 347.25,575.75 347.25,576.35 347.25,576.95 347.25,577.55 347.25,578.15 347.25,578.75 347.25,579.35 347.25,579.95 347.25,580.55 347.25,581.15 347.25,581.75 347.25,582.35 347.25,582.95 347.25,583.55 347.25,584.15 347.24,584.75 347.24,585.35 347.24,585.95 347.24,586.55 347.24,587.15 347.24,587.75 347.24,588.35 347.24,588.95 347.24,589.55 347.24,590.15 347.24,590.75 347.24,591.35 347.24,591.95 347.24,592.55 347.24,593.15 347.24,593.75 347.24,594.35 347.24,594.95 347.24,595.55 347.24,596.15 347.24,596.75 347.24,597.35 347.24,597.95 347.24,598.55 347.24,599.15 347.24,599.75 347.24,600.35 347.24,600.95 347.24,601.55 347.24,602.15 347.24,602.75 347.24,603.35 347.24,603.95 347.24,604.55 347.24,605.15 347.24,605.75 347.23,606.35 347.23,606.95 347.23,607.55 347.23,608.15 347.23,608.75 347.23,609.35 347.23,609.95 347.23,610.55 347.23,611.15 347.23,611.75 347.23,612.35 347.23,612.95 347.23,613.55 347.23,614.15 347.23,614.75 347.23,615.35 347.23,615.95 347.23,616.55 347.19,617.15 346.90,617.75 346.50,618.35 346.01,618.95 345.32,619.55 344.62,620.15 343.92,620.75 343.20,621.35 342.47,621.95 341.73,622.55 340.99,623.15 340.25,623.75Z" fill="#e89c98" stroke="#231f20" stroke-width="0.7" stroke-linejoin="round"/>
<path d="M372.50,551.25 371.00,550.65 369.50,550.05 368.00,549.45 367.06,548.85 366.40,548.25 365.74,547.65 365.52,547.05 365.52,546.45 365.52,545.85 365.52,545.25 365.52,544.65 365.52,544.05 365.52,543.45 365.52,542.85 365.52,542.25 365.52,541.65 365.52,541.05 365.52,540.45 365.52,539.85 365.52,539.25 365.51,538.65 365.51,538.05 365.51,537.45 365.51,536.85 365.51,536.25 365.51,535.65 365.51,535.05 365.51,534.45 365.51,533.85 365.51,533.25 365.51,532.65 365.51,532.05 365.51,531.45 365.51,530.85 365.51,530.25 365.51,529.65 365.51,529.05 365.51,528.45 365.51,527.85 365.51,527.25 365.51,526.65 365.51,526.05 365.51,525.45 365.51,524.85 365.51,524.25 365.51,523.65 365.51,523.05 365.51,522.45 365.51,521.85 365.51,521.25 365.50,520.65 365.50,520.05 365.50,519.45 365.50,518.85 365.50,518.25 365.50,517.65 365.50,517.05 365.50,516.45 365.50,515.85 365.50,515.25 365.50,514.65 365.50,514.05 365.50,513.45 365.50,512.85 365.50,512.45 365.50,512.85 365.50,513.45 365.50,514.05 365.50,514.65 365.50,515.25 365.50,515.85 365.50,516.45 365.50,517.05 365.50,517.65 365.50,518.25 365.50,518.85 365.50,519.45 365.50,520.05 365.50,520.65 365.49,521.25 365.49,521.85 365.49,522.45 365.49,523.05 365.49,523.65 365.49,524.25 365.49,524.85 365.49,525.45 365.49,526.05 365.49,526.65 365.49,527.25 365.49,527.85 365.49,528.45 365.49,529.05 365.49,529.65 365.49,530.25 365.49,530.85 365.49,531.45 365.49,532.05 365.49,532.65 365.49,533.25 365.49,533.85 365.49,534.45 365.49,535.05 365.49,535.65 365.49,536.25 365.49,536.85 365.49,537.45 365.49,538.05 365.49,538.65 365.48,539.25 365.48,539.85 365.48,540.45 365.48,541.05 365.48,541.65 365.48,542.25 365.48,542.85 365.48,543.45 365.48,544.05 365.48,544.65 365.48,545.25 365.48,545.85 365.48,546.45 365.48,547.05 365.26,547.65 364.60,548.25 363.94,548.85 363.00,549.45 361.50,550.05 360.00,550.65 358.50,551.25Z" fill="#c4a6d8" stroke="#231f20" stroke-width="0.7" stroke-linejoin="round"/>
<path d="M372.50,623.75 370.92,623.15 369.34,622.55 367.76,621.95 366.92,621.35 366.22,620.75 365.52,620.15 365.52,619.55 365.52,618.95 365.52,618.35 365.52,617.75 365.52,617.15 365.52,616.55 365.52,615.95 365.52,615.35 365.52,614.75 365.52,614.15 365.52,613.55 365.52,612.95 365.52,612.35 365.52,611.75 365.52,611.15 365.52,610.55 365.51,609.95 365.51,609.35 365.51,608.75 365.51,608.15 365.51,607.55 365.51,606.95 365.51,606.35 365.51,605.75 365.51,605.15 365.51,604.55 365.51,603.95 365.51,603.35 365.51,602.75 365.51,602.15 365.51,601.55 365.51,600.95 365.51,600.35 365.51,599.75 365.51,599.15 365.51,598.55 365.51,597.95 365.51,597.35 365.51,596.75 365.51,596.15 365.51,595.55 365.51,594.95 365.51,594.35 365.51,593.75 365.51,593.15 365.51,592.55 365.51,591.95 365.51,591.35 365.51,590.75 365.51,590.15 365.50,589.55 365.50,588.95 365.50,588.35 365.50,587.75 365.50,587.15 365.50,586.55 365.50,585.95 365.50,585.35 365.50,584.75 365.50,584.15 365.50,583.55 365.50,582.95 365.50,582.35 365.50,581.75 365.50,581.15 365.50,580.55 365.50,579.95 365.50,579.55 365.50,579.95 365.50,580.55 365.50,581.15 365.50,581.75 365.50,582.35 365.50,582.95 365.50,583.55 365.50,584.15 365.50,584.75 365.50,585.35 365.50,585.95 365.50,586.55 365.50,587.15 365.50,587.75 365.50,588.35 365.50,588.95 365.50,589.55 365.49,590.15 365.49,590.75 365.49,591.35 365.49,591.95 365.49,592.55 365.49,593.15 365.49,593.75 365.49,594.35 365.49,594.95 365.49,595.55 365.49,596.15 365.49,596.75 365.49,597.35 365.49,597.95 365.49,598.55 365.49,599.15 365.49,599.75 365.49,600.35 365.49,600.95 365.49,601.55 365.49,602.15 365.49,602.75 365.49,603.35 365.49,603.95 365.49,604.55 365.49,605.15 365.49,605.75 365.49,606.35 365.49,606.95 365.49,607.55 365.49,608.15 365.49,608.75 365.49,609.35 365.49,609.95 365.48,610.55 365.48,611.15 365.48,611.75 365.48,612.35 365.48,612.95 365.48,613.55 365.48,614.15 365.48,614.75 365.48,615.35 365.48,615.95 365.48,616.55 365.48,617.15 365.48,617.75 365.48,618.35 365.48,618.95 365.48,619.55 365.48,620.15 364.78,620.75 364.08,621.35 363.24,621.95 361.66,622.55 360.08,623.15 358.50,623.75Z" fill="#c4a6d8" stroke="#231f20" stroke-width="0.7" stroke-linejoin="round"/>
<path d="M386.35,551.25 386.12,550.65 385.89,550.05 385.67,549.45 385.44,548.85 385.23,548.25 385.14,547.65 385.04,547.05 384.94,546.45 384.85,545.85 384.79,545.25 385.08,544.65 385.41,544.05 385.73,543.45 386.06,542.85 386.39,542.25 386.72,541.65 387.05,541.05 387.38,540.45 387.70,539.85 388.02,539.25 388.30,538.65 388.52,538.05 388.73,537.45 388.94,536.85 389.15,536.25 389.35,535.65 389.56,535.05 389.77,534.45 389.98,533.85 390.18,533.25 390.39,532.65 390.60,532.05 390.80,531.45 390.98,530.85 391.03,530.25 390.95,529.65 390.80,529.05 390.65,528.45 390.50,527.85 390.35,527.25 390.20,526.65 390.05,526.05 389.90,525.45 389.75,524.85 389.60,524.25 389.45,523.65 389.30,523.05 389.15,522.45 389.00,521.85 388.84,521.25 388.66,520.65 388.45,520.05 388.22,519.45 387.99,518.85 387.77,518.25 387.54,517.65 387.31,517.05 387.09,516.45 386.86,515.85 386.63,515.25 386.40,514.65 386.18,514.05 385.94,513.45 385.70,512.85 385.45,512.25 385.22,511.65 385.01,511.05 384.81,510.45 384.64,509.85 384.47,509.25 384.33,508.65 384.20,508.05 384.09,507.45 384.00,506.85 383.92,506.25 383.86,505.65 383.82,505.05 383.79,504.45 383.78,503.85 383.77,503.25 383.77,502.65 383.77,502.05 383.76,501.45 383.76,500.85 383.76,500.25 383.76,499.65 383.76,499.05 383.76,498.45 383.75,497.85 383.75,497.25 383.75,496.65 383.75,496.05 383.75,496.05 383.75,496.05 383.75,496.65 383.75,497.25 383.75,497.85 383.74,498.45 383.74,499.05 383.74,499.65 383.74,500.25 383.74,500.85 383.74,501.45 383.73,502.05 383.73,502.65 383.73,503.25 383.72,503.85 383.71,504.45 383.68,505.05 383.64,505.65 383.58,506.25 383.50,506.85 383.41,507.45 383.30,508.05 383.17,508.65 383.03,509.25 382.86,509.85 382.69,510.45 382.49,511.05 382.28,511.65 382.05,512.25 381.80,512.85 381.56,513.45 381.32,514.05 381.10,514.65 380.87,515.25 380.64,515.85 380.41,516.45 380.19,517.05 379.96,517.65 379.73,518.25 379.51,518.85 379.28,519.45 379.05,520.05 378.84,520.65 378.66,521.25 378.50,521.85 378.35,522.45 378.20,523.05 378.05,523.65 377.90,524.25 377.75,524.85 377.60,525.45 377.45,526.05 377.30,526.65 377.15,527.25 377.00,527.85 376.85,528.45 376.70,529.05 376.55,529.65 376.47,530.25 376.52,530.85 376.70,531.45 376.90,532.05 377.11,532.65 377.32,533.25 377.52,533.85 377.73,534.45 377.94,535.05 378.15,535.65 378.35,536.25 378.56,536.85 378.77,537.45 378.98,538.05 379.20,538.65 379.48,539.25 379.80,539.85 380.12,540.45 380.45,541.05 380.78,541.65 381.11,542.25 381.44,542.85 381.77,543.45 382.09,544.05 382.42,544.65 382.71,545.25 382.65,545.85 382.56,546.45 382.46,547.05 382.36,547.65 382.27,548.25 382.06,548.85 381.83,549.45 381.61,550.05 381.38,550.65 381.15,551.25Z" fill="#73308f" stroke="#231f20" stroke-width="0.7" stroke-linejoin="round"/>
<path d="M390.75,623.75 389.75,623.15 388.75,622.55 387.75,621.95 386.75,621.35 386.18,620.75 385.61,620.15 385.04,619.55 384.91,618.95 385.18,618.35 385.46,617.75 385.76,617.15 386.09,616.55 386.42,615.95 386.75,615.35 387.09,614.75 387.42,614.15 387.75,613.55 387.98,612.95 388.01,612.35 387.91,611.75 387.77,611.15 387.64,610.55 387.51,609.95 387.37,609.35 387.24,608.75 387.11,608.15 386.97,607.55 386.84,606.95 386.70,606.35 386.56,605.75 386.42,605.15 386.28,604.55 386.14,603.95 386.00,603.35 385.86,602.75 385.72,602.15 385.58,601.55 385.44,600.95 385.29,600.35 385.14,599.75 384.98,599.15 384.83,598.55 384.69,597.95 384.56,597.35 384.44,596.75 384.33,596.15 384.23,595.55 384.14,594.95 384.06,594.35 383.99,593.75 383.93,593.15 383.88,592.55 383.84,591.95 383.81,591.35 383.79,590.75 383.78,590.15 383.77,589.55 383.77,588.95 383.77,588.35 383.77,587.75 383.77,587.15 383.76,586.55 383.76,585.95 383.76,585.35 383.76,584.75 383.76,584.15 383.76,583.55 383.76,582.95 383.76,582.35 383.76,581.75 383.76,581.15 383.75,580.55 383.75,579.95 383.75,579.35 383.75,578.75 383.75,578.15 383.75,577.95 383.75,578.15 383.75,578.75 383.75,579.35 383.75,579.95 383.75,580.55 383.74,581.15 383.74,581.75 383.74,582.35 383.74,582.95 383.74,583.55 383.74,584.15 383.74,584.75 383.74,585.35 383.74,585.95 383.74,586.55 383.73,587.15 383.73,587.75 383.73,588.35 383.73,588.95 383.73,589.55 383.72,590.15 383.71,590.75 383.69,591.35 383.66,591.95 383.62,592.55 383.57,593.15 383.51,593.75 383.44,594.35 383.36,594.95 383.27,595.55 383.17,596.15 383.06,596.75 382.94,597.35 382.81,597.95 382.67,598.55 382.52,599.15 382.36,599.75 382.21,600.35 382.06,600.95 381.92,601.55 381.78,602.15 381.64,602.75 381.50,603.35 381.36,603.95 381.22,604.55 381.08,605.15 380.94,605.75 380.80,606.35 380.66,606.95 380.53,607.55 380.39,608.15 380.26,608.75 380.13,609.35 379.99,609.95 379.86,610.55 379.73,611.15 379.59,611.75 379.49,612.35 379.52,612.95 379.75,613.55 380.08,614.15 380.41,614.75 380.75,615.35 381.08,615.95 381.41,616.55 381.74,617.15 382.04,617.75 382.32,618.35 382.59,618.95 382.46,619.55 381.89,620.15 381.32,620.75 380.75,621.35 379.75,621.95 378.75,622.55 377.75,623.15 376.75,623.75Z" fill="#73308f" stroke="#231f20" stroke-width="0.7" stroke-linejoin="round"/>
<path d="M409.00,551.25 407.83,550.65 406.65,550.05 405.48,549.45 404.39,548.85 403.71,548.25 403.03,547.65 402.36,547.05 402.05,546.45 402.09,545.85 402.13,545.25 402.17,544.65 402.22,544.05 402.26,543.45 402.31,542.85 402.35,542.25 402.39,541.65 402.44,541.05 402.48,540.45 402.53,539.85 402.57,539.25 402.62,538.65 402.66,538.05 402.71,537.45 402.76,536.85 402.81,536.25 402.86,535.65 402.91,535.05 402.96,534.45 403.01,533.85 403.05,533.25 403.10,532.65 403.15,532.05 403.15,531.45 403.10,530.85 403.01,530.25 402.91,529.65 402.82,529.05 402.72,528.45 402.63,527.85 402.53,527.25 402.43,526.65 402.34,526.05 402.24,525.45 402.15,524.85 402.07,524.25 402.03,523.65 402.02,523.05 402.02,522.45 402.02,521.85 402.02,521.25 402.02,520.65 402.02,520.05 402.02,519.45 402.02,518.85 402.02,518.25 402.01,517.65 402.01,517.05 402.01,516.45 402.01,515.85 402.01,515.25 402.01,514.65 402.01,514.05 402.01,513.45 402.01,512.85 402.01,512.25 402.01,511.65 402.01,511.05 402.01,510.45 402.01,509.85 402.01,509.25 402.01,508.65 402.01,508.05 402.01,507.45 402.01,506.85 402.01,506.25 402.01,505.65 402.00,505.05 402.00,504.45 402.00,503.85 402.00,503.25 402.00,502.65 402.00,502.05 402.00,501.45 402.00,500.85 402.00,500.25 402.00,499.65 402.00,499.25 402.00,499.65 402.00,500.25 402.00,500.85 402.00,501.45 402.00,502.05 402.00,502.65 402.00,503.25 402.00,503.85 402.00,504.45 402.00,505.05 401.99,505.65 401.99,506.25 401.99,506.85 401.99,507.45 401.99,508.05 401.99,508.65 401.99,509.25 401.99,509.85 401.99,510.45 401.99,511.05 401.99,511.65 401.99,512.25 401.99,512.85 401.99,513.45 401.99,514.05 401.99,514.65 401.99,515.25 401.99,515.85 401.99,516.45 401.99,517.05 401.99,517.65 401.98,518.25 401.98,518.85 401.98,519.45 401.98,520.05 401.98,520.65 401.98,521.25 401.98,521.85 401.98,522.45 401.98,523.05 401.97,523.65 401.93,524.25 401.85,524.85 401.76,525.45 401.66,526.05 401.57,526.65 401.47,527.25 401.37,527.85 401.28,528.45 401.18,529.05 401.09,529.65 400.99,530.25 400.90,530.85 400.85,531.45 400.85,532.05 400.90,532.65 400.95,533.25 400.99,533.85 401.04,534.45 401.09,535.05 401.14,535.65 401.19,536.25 401.24,536.85 401.29,537.45 401.34,538.05 401.38,538.65 401.43,539.25 401.47,539.85 401.52,540.45 401.56,541.05 401.61,541.65 401.65,542.25 401.69,542.85 401.74,543.45 401.78,544.05 401.83,544.65 401.87,545.25 401.91,545.85 401.95,546.45 401.64,547.05 400.97,547.65 400.29,548.25 399.61,548.85 398.52,549.45 397.35,550.05 396.17,550.65 395.00,551.25Z" fill="#2e1a7a" stroke="#231f20" stroke-width="0.7" stroke-linejoin="round"/>
<path d="M409.00,623.75 408.15,623.15 407.31,622.55 406.46,621.95 405.61,621.35 404.76,620.75 404.03,620.15 403.53,619.55 403.03,618.95 402.53,618.35 402.07,617.75 402.03,617.15 402.02,616.55 402.02,615.95 402.02,615.35 402.02,614.75 402.02,614.15 402.02,613.55 402.02,612.95 402.02,612.35 402.02,611.75 402.02,611.15 402.02,610.55 402.02,609.95 402.02,609.35 402.02,608.75 402.02,608.15 402.02,607.55 402.01,606.95 402.01,606.35 402.01,605.75 402.01,605.15 402.01,604.55 402.01,603.95 402.01,603.35 402.01,602.75 402.01,602.15 402.01,601.55 402.01,600.95 402.01,600.35 402.01,599.75 402.01,599.15 402.01,598.55 402.01,597.95 402.01,597.35 402.01,596.75 402.01,596.15 402.01,595.55 402.01,594.95 402.01,594.35 402.01,593.75 402.01,593.15 402.01,592.55 402.01,591.95 402.01,591.35 402.01,590.75 402.01,590.15 402.01,589.55 402.01,588.95 402.01,588.35 402.01,587.75 402.01,587.15 402.00,586.55 402.00,585.95 402.00,585.35 402.00,584.75 402.00,584.15 402.00,583.55 402.00,582.95 402.00,582.35 402.00,581.75 402.00,581.15 402.00,580.55 402.00,579.95 402.00,579.35 402.00,578.75 402.00,578.15 402.00,577.55 402.00,576.95 402.00,576.45 402.00,576.95 402.00,577.55 402.00,578.15 402.00,578.75 402.00,579.35 402.00,579.95 402.00,580.55 402.00,581.15 402.00,581.75 402.00,582.35 402.00,582.95 402.00,583.55 402.00,584.15 402.00,584.75 402.00,585.35 402.00,585.95 402.00,586.55 401.99,587.15 401.99,587.75 401.99,588.35 401.99,588.95 401.99,589.55 401.99,590.15 401.99,590.75 401.99,591.35 401.99,591.95 401.99,592.55 401.99,593.15 401.99,593.75 401.99,594.35 401.99,594.95 401.99,595.55 401.99,596.15 401.99,596.75 401.99,597.35 401.99,597.95 401.99,598.55 401.99,599.15 401.99,599.75 401.99,600.35 401.99,600.95 401.99,601.55 401.99,602.15 401.99,602.75 401.99,603.35 401.99,603.95 401.99,604.55 401.99,605.15 401.99,605.75 401.99,606.35 401.99,606.95 401.98,607.55 401.98,608.15 401.98,608.75 401.98,609.35 401.98,609.95 401.98,610.55 401.98,611.15 401.98,611.75 401.98,612.35 401.98,612.95 401.98,613.55 401.98,614.15 401.98,614.75 401.98,615.35 401.98,615.95 401.98,616.55 401.97,617.15 401.93,617.75 401.47,618.35 400.97,618.95 400.47,619.55 399.97,620.15 399.24,620.75 398.39,621.35 397.54,621.95 396.69,622.55 395.85,623.15 395.00,623.75Z" fill="#2e1a7a" stroke="#231f20" stroke-width="0.7" stroke-linejoin="round"/>
<path d="M427.25,551.25 425.73,550.65 424.22,550.05 422.70,549.45 421.88,548.85 421.19,548.25 420.50,547.65 420.27,547.05 420.27,546.45 420.27,545.85 420.27,545.25 420.27,544.65 420.27,544.05 420.27,543.45 420.27,542.85 420.27,542.25 420.27,541.65 420.27,541.05 420.27,540.45 420.27,539.85 420.27,539.25 420.27,538.65 420.26,538.05 420.26,537.45 420.26,536.85 420.26,536.25 420.26,535.65 420.26,535.05 420.26,534.45 420.26,533.85 420.26,533.25 420.26,532.65 420.26,532.05 420.26,531.45 420.26,530.85 420.26,530.25 420.26,529.65 420.26,529.05 420.26,528.45 420.26,527.85 420.26,527.25 420.26,526.65 420.26,526.05 420.26,525.45 420.26,524.85 420.26,524.25 420.26,523.65 420.26,523.05 420.26,522.45 420.26,521.85 420.26,521.25 420.25,520.65 420.25,520.05 420.25,519.45 420.25,518.85 420.25,518.25 420.25,517.65 420.25,517.05 420.25,516.45 420.25,515.85 420.25,515.25 420.25,514.65 420.25,514.05 420.25,513.45 420.25,512.85 420.25,512.25 420.25,511.95 420.25,512.25 420.25,512.85 420.25,513.45 420.25,514.05 420.25,514.65 420.25,515.25 420.25,515.85 420.25,516.45 420.25,517.05 420.25,517.65 420.25,518.25 420.25,518.85 420.25,519.45 420.25,520.05 420.25,520.65 420.24,521.25 420.24,521.85 420.24,522.45 420.24,523.05 420.24,523.65 420.24,524.25 420.24,524.85 420.24,525.45 420.24,526.05 420.24,526.65 420.24,527.25 420.24,527.85 420.24,528.45 420.24,529.05 420.24,529.65 420.24,530.25 420.24,530.85 420.24,531.45 420.24,532.05 420.24,532.65 420.24,533.25 420.24,533.85 420.24,534.45 420.24,535.05 420.24,535.65 420.24,536.25 420.24,536.85 420.24,537.45 420.24,538.05 420.23,538.65 420.23,539.25 420.23,539.85 420.23,540.45 420.23,541.05 420.23,541.65 420.23,542.25 420.23,542.85 420.23,543.45 420.23,544.05 420.23,544.65 420.23,545.25 420.23,545.85 420.23,546.45 420.23,547.05 420.00,547.65 419.31,548.25 418.62,548.85 417.80,549.45 416.28,550.05 414.77,550.65 413.25,551.25Z" fill="#e6df3a" stroke="#231f20" stroke-width="0.7" stroke-linejoin="round"/>
<path d="M427.25,623.75 425.75,623.15 424.25,622.55 422.75,621.95 421.81,621.35 421.15,620.75 420.49,620.15 420.27,619.55 420.27,618.95 420.27,618.35 420.27,617.75 420.27,617.15 420.27,616.55 420.27,615.95 420.27,615.35 420.27,614.75 420.27,614.15 420.27,613.55 420.27,612.95 420.27,612.35 420.27,611.75 420.27,611.15 420.26,610.55 420.26,609.95 420.26,609.35 420.26,608.75 420.26,608.15 420.26,607.55 420.26,606.95 420.26,606.35 420.26,605.75 420.26,605.15 420.26,604.55 420.26,603.95 420.26,603.35 420.26,602.75 420.26,602.15 420.26,601.55 420.26,600.95 420.26,600.35 420.26,599.75 420.26,599.15 420.26,598.55 420.26,597.95 420.26,597.35 420.26,596.75 420.26,596.15 420.26,595.55 420.26,594.95 420.26,594.35 420.26,593.75 420.25,593.15 420.25,592.55 420.25,591.95 420.25,591.35 420.25,590.75 420.25,590.15 420.25,589.55 420.25,588.95 420.25,588.35 420.25,587.75 420.25,587.15 420.25,586.55 420.25,585.95 420.25,585.35 420.25,584.75 420.25,584.35 420.25,584.75 420.25,585.35 420.25,585.95 420.25,586.55 420.25,587.15 420.25,587.75 420.25,588.35 420.25,588.95 420.25,589.55 420.25,590.15 420.25,590.75 420.25,591.35 420.25,591.95 420.25,592.55 420.25,593.15 420.24,593.75 420.24,594.35 420.24,594.95 420.24,595.55 420.24,596.15 420.24,596.75 420.24,597.35 420.24,597.95 420.24,598.55 420.24,599.15 420.24,599.75 420.24,600.35 420.24,600.95 420.24,601.55 420.24,602.15 420.24,602.75 420.24,603.35 420.24,603.95 420.24,604.55 420.24,605.15 420.24,605.75 420.24,606.35 420.24,606.95 420.24,607.55 420.24,608.15 420.24,608.75 420.24,609.35 420.24,609.95 420.24,610.55 420.23,611.15 420.23,611.75 420.23,612.35 420.23,612.95 420.23,613.55 420.23,614.15 420.23,614.75 420.23,615.35 420.23,615.95 420.23,616.55 420.23,617.15 420.23,617.75 420.23,618.35 420.23,618.95 420.23,619.55 420.01,620.15 419.35,620.75 418.69,621.35 417.75,621.95 416.25,622.55 414.75,623.15 413.25,623.75Z" fill="#e6df3a" stroke="#231f20" stroke-width="0.7" stroke-linejoin="round"/>
<path d="M445.50,551.25 443.98,550.65 442.47,550.05 440.95,549.45 440.13,548.85 439.44,548.25 438.75,547.65 438.52,547.05 438.52,546.45 438.52,545.85 438.52,545.25 438.52,544.65 438.52,544.05 438.52,543.45 438.52,542.85 438.52,542.25 438.52,541.65 438.52,541.05 438.52,540.45 438.52,539.85 438.54,539.25 438.60,538.65 438.67,538.05 438.75,537.45 438.82,536.85 438.90,536.25 438.97,535.65 439.03,535.05 439.03,534.45 438.96,533.85 438.86,533.25 438.76,532.65 438.66,532.05 438.57,531.45 438.53,530.85 438.52,530.25 438.52,529.65 438.52,529.05 438.51,528.45 438.51,527.85 438.51,527.25 438.51,526.65 438.51,526.05 438.51,525.45 438.51,524.85 438.51,524.25 438.50,523.65 438.50,523.05 438.50,522.45 438.50,521.85 438.50,521.45 438.50,521.85 438.50,522.45 438.50,523.05 438.50,523.65 438.49,524.25 438.49,524.85 438.49,525.45 438.49,526.05 438.49,526.65 438.49,527.25 438.49,527.85 438.49,528.45 438.48,529.05 438.48,529.65 438.48,530.25 438.47,530.85 438.43,531.45 438.34,532.05 438.24,532.65 438.14,533.25 438.04,533.85 437.97,534.45 437.97,535.05 438.03,535.65 438.10,536.25 438.18,536.85 438.25,537.45 438.33,538.05 438.40,538.65 438.46,539.25 438.48,539.85 438.48,540.45 438.48,541.05 438.48,541.65 438.48,542.25 438.48,542.85 438.48,543.45 438.48,544.05 438.48,544.65 438.48,545.25 438.48,545.85 438.48,546.45 438.48,547.05 438.25,547.65 437.56,548.25 436.87,548.85 436.05,549.45 434.53,550.05 433.02,550.65 431.50,551.25Z" fill="#e57c17" stroke="#231f20" stroke-width="0.7" stroke-linejoin="round"/>
<path d="M445.50,623.75 443.92,623.15 442.34,622.55 440.76,621.95 439.92,621.35 439.22,620.75 438.52,620.15 438.52,619.55 438.52,618.95 438.52,618.35 438.52,617.75 438.52,617.15 438.52,616.55 438.52,615.95 438.52,615.35 438.52,614.75 438.52,614.15 438.52,613.55 438.52,612.95 438.51,612.35 438.51,611.75 438.51,611.15 438.51,610.55 438.51,609.95 438.51,609.35 438.51,608.75 438.51,608.15 438.51,607.55 438.51,606.95 438.51,606.35 438.51,605.75 438.51,605.15 438.51,604.55 438.51,603.95 438.51,603.35 438.51,602.75 438.51,602.15 438.51,601.55 438.51,600.95 438.51,600.35 438.51,599.75 438.51,599.15 438.51,598.55 438.51,597.95 438.50,597.35 438.50,596.75 438.50,596.15 438.50,595.55 438.50,594.95 438.50,594.35 438.50,593.75 438.50,593.15 438.50,592.55 438.50,591.95 438.50,591.35 438.50,590.75 438.50,590.15 438.50,590.15 438.50,590.15 438.50,590.75 438.50,591.35 438.50,591.95 438.50,592.55 438.50,593.15 438.50,593.75 438.50,594.35 438.50,594.95 438.50,595.55 438.50,596.15 438.50,596.75 438.50,597.35 438.49,597.95 438.49,598.55 438.49,599.15 438.49,599.75 438.49,600.35 438.49,600.95 438.49,601.55 438.49,602.15 438.49,602.75 438.49,603.35 438.49,603.95 438.49,604.55 438.49,605.15 438.49,605.75 438.49,606.35 438.49,606.95 438.49,607.55 438.49,608.15 438.49,608.75 438.49,609.35 438.49,609.95 438.49,610.55 438.49,611.15 438.49,611.75 438.49,612.35 438.48,612.95 438.48,613.55 438.48,614.15 438.48,614.75 438.48,615.35 438.48,615.95 438.48,616.55 438.48,617.15 438.48,617.75 438.48,618.35 438.48,618.95 438.48,619.55 438.48,620.15 437.78,620.75 437.08,621.35 436.24,621.95 434.66,622.55 433.08,623.15 431.50,623.75Z" fill="#e57c17" stroke="#231f20" stroke-width="0.7" stroke-linejoin="round"/>
<path d="M463.75,551.25 463.23,550.65 462.72,550.05 462.20,549.45 461.68,548.85 461.15,548.25 460.57,547.65 459.99,547.05 459.41,546.45 458.83,545.85 458.29,545.25 458.09,544.65 457.91,544.05 457.74,543.45 457.58,542.85 457.44,542.25 457.42,541.65 457.47,541.05 457.54,540.45 457.62,539.85 457.69,539.25 457.76,538.65 457.84,538.05 457.91,537.45 457.98,536.85 458.06,536.25 458.13,535.65 458.20,535.05 458.27,534.45 458.33,533.85 458.40,533.25 458.46,532.65 458.53,532.05 458.59,531.45 458.65,530.85 458.72,530.25 458.78,529.65 458.84,529.05 458.91,528.45 458.97,527.85 459.03,527.25 459.09,526.65 459.11,526.05 459.07,525.45 459.01,524.85 458.95,524.25 458.88,523.65 458.82,523.05 458.75,522.45 458.69,521.85 458.62,521.25 458.56,520.65 458.50,520.05 458.43,519.45 458.37,518.85 458.30,518.25 458.21,517.65 458.08,517.05 457.94,516.45 457.81,515.85 457.68,515.25 457.57,514.65 457.46,514.05 457.36,513.45 457.27,512.85 457.18,512.25 457.11,511.65 457.04,511.05 456.98,510.45 456.92,509.85 456.88,509.25 456.84,508.65 456.81,508.05 456.79,507.45 456.78,506.85 456.77,506.25 456.77,505.65 456.77,505.05 456.77,504.45 456.77,503.85 456.76,503.25 456.76,502.65 456.76,502.05 456.76,501.45 456.76,500.85 456.76,500.25 456.76,499.65 456.76,499.05 456.75,498.45 456.75,497.85 456.75,497.25 456.75,496.65 456.75,496.55 456.75,496.65 456.75,497.25 456.75,497.85 456.75,498.45 456.74,499.05 456.74,499.65 456.74,500.25 456.74,500.85 456.74,501.45 456.74,502.05 456.74,502.65 456.74,503.25 456.73,503.85 456.73,504.45 456.73,505.05 456.73,505.65 456.73,506.25 456.72,506.85 456.71,507.45 456.69,508.05 456.66,508.65 456.62,509.25 456.58,509.85 456.52,510.45 456.46,511.05 456.39,511.65 456.32,512.25 456.23,512.85 456.14,513.45 456.04,514.05 455.93,514.65 455.82,515.25 455.69,515.85 455.56,516.45 455.42,517.05 455.29,517.65 455.20,518.25 455.13,518.85 455.07,519.45 455.00,520.05 454.94,520.65 454.88,521.25 454.81,521.85 454.75,522.45 454.68,523.05 454.62,523.65 454.55,524.25 454.49,524.85 454.43,525.45 454.39,526.05 454.41,526.65 454.47,527.25 454.53,527.85 454.59,528.45 454.66,529.05 454.72,529.65 454.78,530.25 454.85,530.85 454.91,531.45 454.97,532.05 455.04,532.65 455.10,533.25 455.17,533.85 455.23,534.45 455.30,535.05 455.37,535.65 455.44,536.25 455.52,536.85 455.59,537.45 455.66,538.05 455.74,538.65 455.81,539.25 455.88,539.85 455.96,540.45 456.03,541.05 456.08,541.65 456.06,542.25 455.92,542.85 455.76,543.45 455.59,544.05 455.41,544.65 455.21,545.25 454.67,545.85 454.09,546.45 453.51,547.05 452.93,547.65 452.35,548.25 451.82,548.85 451.30,549.45 450.78,550.05 450.27,550.65 449.75,551.25Z" fill="#d21f35" stroke="#231f20" stroke-width="0.7" stroke-linejoin="round"/>
<path d="M464.05,623.75 463.57,623.15 463.09,622.55 462.61,621.95 462.13,621.35 461.65,620.75 461.17,620.15 460.69,619.55 460.20,618.95 459.72,618.35 459.24,617.75 458.79,617.15 458.53,616.55 458.30,615.95 458.07,615.35 457.85,614.75 457.66,614.15 457.57,613.55 457.55,612.95 457.55,612.35 457.55,611.75 457.55,611.15 457.55,610.55 457.55,609.95 457.55,609.35 457.55,608.75 457.55,608.15 457.55,607.55 457.56,606.95 457.58,606.35 457.63,605.75 457.68,605.15 457.74,604.55 457.80,603.95 457.85,603.35 457.91,602.75 457.97,602.15 458.03,601.55 458.08,600.95 458.14,600.35 458.20,599.75 458.25,599.15 458.30,598.55 458.28,597.95 458.18,597.35 458.07,596.75 457.95,596.15 457.84,595.55 457.74,594.95 457.64,594.35 457.54,593.75 457.45,593.15 457.37,592.55 457.29,591.95 457.22,591.35 457.15,590.75 457.09,590.15 457.04,589.55 456.99,588.95 456.94,588.35 456.90,587.75 456.87,587.15 456.84,586.55 456.82,585.95 456.80,585.35 456.79,584.75 456.78,584.15 456.77,583.55 456.77,582.95 456.77,582.35 456.77,581.75 456.77,581.15 456.77,580.55 456.77,579.95 456.77,579.35 456.76,578.75 456.76,578.15 456.76,577.55 456.76,576.95 456.76,576.35 456.76,575.75 456.76,575.15 456.76,574.55 456.76,573.95 456.76,573.35 456.76,572.75 456.76,572.15 456.76,571.55 456.76,570.95 456.76,570.35 456.76,569.75 456.75,569.15 456.75,568.55 456.75,567.95 456.75,567.35 456.75,566.75 456.75,566.15 456.75,565.55 456.75,564.95 456.75,564.75 456.75,564.95 456.75,565.55 456.75,566.15 456.75,566.75 456.75,567.35 456.75,567.95 456.75,568.55 456.75,569.15 456.74,569.75 456.74,570.35 456.74,570.95 456.74,571.55 456.74,572.15 456.74,572.75 456.74,573.35 456.74,573.95 456.74,574.55 456.74,575.15 456.74,575.75 456.74,576.35 456.74,576.95 456.74,577.55 456.74,578.15 456.74,578.75 456.73,579.35 456.73,579.95 456.73,580.55 456.73,581.15 456.73,581.75 456.73,582.35 456.73,582.95 456.73,583.55 456.72,584.15 456.71,584.75 456.70,585.35 456.68,585.95 456.66,586.55 456.63,587.15 456.60,587.75 456.56,588.35 456.51,588.95 456.46,589.55 456.41,590.15 456.35,590.75 456.28,591.35 456.21,591.95 456.13,592.55 456.05,593.15 455.96,593.75 455.86,594.35 455.76,594.95 455.66,595.55 455.55,596.15 455.43,596.75 455.32,597.35 455.22,597.95 455.20,598.55 455.25,599.15 455.30,599.75 455.36,600.35 455.42,600.95 455.47,601.55 455.53,602.15 455.59,602.75 455.65,603.35 455.70,603.95 455.76,604.55 455.82,605.15 455.87,605.75 455.92,606.35 455.94,606.95 455.95,607.55 455.95,608.15 455.95,608.75 455.95,609.35 455.95,609.95 455.95,610.55 455.95,611.15 455.95,611.75 455.95,612.35 455.95,612.95 455.93,613.55 455.84,614.15 455.65,614.75 455.43,615.35 455.20,615.95 454.97,616.55 454.71,617.15 454.26,617.75 453.78,618.35 453.30,618.95 452.81,619.55 452.33,620.15 451.85,620.75 451.37,621.35 450.89,621.95 450.41,622.55 449.93,623.15 449.45,623.75Z" fill="#d21f35" stroke="#231f20" stroke-width="0.7" stroke-linejoin="round"/>
<path d="M482.00,551.25 480.48,550.65 478.97,550.05 477.45,549.45 476.63,548.85 475.94,548.25 475.25,547.65 475.02,547.05 475.02,546.45 475.02,545.85 475.02,545.25 475.02,544.65 475.02,544.05 475.02,543.45 475.02,542.85 475.02,542.25 475.02,541.65 475.02,541.05 475.02,540.45 475.01,539.85 475.01,539.25 475.01,538.65 475.01,538.05 475.01,537.45 475.01,536.85 475.01,536.25 475.01,535.65 475.01,535.05 475.01,534.45 475.01,533.85 475.01,533.25 475.01,532.65 475.01,532.05 475.01,531.45 475.01,530.85 475.01,530.25 475.01,529.65 475.01,529.05 475.01,528.45 475.01,527.85 475.01,527.25 475.01,526.65 475.01,526.05 475.01,525.45 475.01,524.85 475.00,524.25 475.00,523.65 475.00,523.05 475.00,522.45 475.00,521.85 475.00,521.25 475.00,520.65 475.00,520.05 475.00,519.45 475.00,518.85 475.00,518.25 475.00,517.65 475.00,517.15 475.00,517.65 475.00,518.25 475.00,518.85 475.00,519.45 475.00,520.05 475.00,520.65 475.00,521.25 475.00,521.85 475.00,522.45 475.00,523.05 475.00,523.65 475.00,524.25 474.99,524.85 474.99,525.45 474.99,526.05 474.99,526.65 474.99,527.25 474.99,527.85 474.99,528.45 474.99,529.05 474.99,529.65 474.99,530.25 474.99,530.85 474.99,531.45 474.99,532.05 474.99,532.65 474.99,533.25 474.99,533.85 474.99,534.45 474.99,535.05 474.99,535.65 474.99,536.25 474.99,536.85 474.99,537.45 474.99,538.05 474.99,538.65 474.99,539.25 474.99,539.85 474.98,540.45 474.98,541.05 474.98,541.65 474.98,542.25 474.98,542.85 474.98,543.45 474.98,544.05 474.98,544.65 474.98,545.25 474.98,545.85 474.98,546.45 474.98,547.05 474.75,547.65 474.06,548.25 473.37,548.85 472.55,549.45 471.03,550.05 469.52,550.65 468.00,551.25Z" fill="#7f98d4" stroke="#231f20" stroke-width="0.7" stroke-linejoin="round"/>
<path d="M482.00,623.75 480.33,623.15 478.67,622.55 477.00,621.95 476.15,621.35 475.30,620.75 475.02,620.15 475.02,619.55 475.02,618.95 475.02,618.35 475.02,617.75 475.02,617.15 475.02,616.55 475.02,615.95 475.02,615.35 475.02,614.75 475.02,614.15 475.02,613.55 475.02,612.95 475.02,612.35 475.02,611.75 475.01,611.15 475.01,610.55 475.01,609.95 475.01,609.35 475.01,608.75 475.01,608.15 475.01,607.55 475.01,606.95 475.01,606.35 475.01,605.75 475.01,605.15 475.01,604.55 475.01,603.95 475.01,603.35 475.01,602.75 475.01,602.15 475.01,601.55 475.01,600.95 475.01,600.35 475.01,599.75 475.01,599.15 475.01,598.55 475.01,597.95 475.01,597.35 475.01,596.75 475.01,596.15 475.01,595.55 475.01,594.95 475.01,594.35 475.01,593.75 475.00,593.15 475.00,592.55 475.00,591.95 475.00,591.35 475.00,590.75 475.00,590.15 475.00,589.55 475.00,588.95 475.00,588.35 475.00,587.75 475.00,587.15 475.00,586.55 475.00,585.95 475.00,585.35 475.00,584.75 475.00,584.35 475.00,584.75 475.00,585.35 475.00,585.95 475.00,586.55 475.00,587.15 475.00,587.75 475.00,588.35 475.00,588.95 475.00,589.55 475.00,590.15 475.00,590.75 475.00,591.35 475.00,591.95 475.00,592.55 475.00,593.15 474.99,593.75 474.99,594.35 474.99,594.95 474.99,595.55 474.99,596.15 474.99,596.75 474.99,597.35 474.99,597.95 474.99,598.55 474.99,599.15 474.99,599.75 474.99,600.35 474.99,600.95 474.99,601.55 474.99,602.15 474.99,602.75 474.99,603.35 474.99,603.95 474.99,604.55 474.99,605.15 474.99,605.75 474.99,606.35 474.99,606.95 474.99,607.55 474.99,608.15 474.99,608.75 474.99,609.35 474.99,609.95 474.99,610.55 474.99,611.15 474.98,611.75 474.98,612.35 474.98,612.95 474.98,613.55 474.98,614.15 474.98,614.75 474.98,615.35 474.98,615.95 474.98,616.55 474.98,617.15 474.98,617.75 474.98,618.35 474.98,618.95 474.98,619.55 474.98,620.15 474.70,620.75 473.85,621.35 473.00,621.95 471.33,622.55 469.67,623.15 468.00,623.75Z" fill="#7f98d4" stroke="#231f20" stroke-width="0.7" stroke-linejoin="round"/>
<path d="M500.25,551.25 499.02,550.65 497.80,550.05 496.57,549.45 495.50,548.85 494.76,548.25 494.01,547.65 493.28,547.05 493.27,546.45 493.27,545.85 493.27,545.25 493.27,544.65 493.27,544.05 493.27,543.45 493.27,542.85 493.27,542.25 493.27,541.65 493.27,541.05 493.27,540.45 493.27,539.85 493.26,539.25 493.26,538.65 493.26,538.05 493.26,537.45 493.26,536.85 493.26,536.25 493.26,535.65 493.26,535.05 493.26,534.45 493.26,533.85 493.26,533.25 493.26,532.65 493.26,532.05 493.26,531.45 493.26,530.85 493.26,530.25 493.26,529.65 493.26,529.05 493.26,528.45 493.26,527.85 493.26,527.25 493.26,526.65 493.26,526.05 493.26,525.45 493.26,524.85 493.25,524.25 493.25,523.65 493.25,523.05 493.25,522.45 493.25,521.85 493.25,521.25 493.25,520.65 493.25,520.05 493.25,519.45 493.25,518.85 493.25,518.25 493.25,517.65 493.25,517.15 493.25,517.65 493.25,518.25 493.25,518.85 493.25,519.45 493.25,520.05 493.25,520.65 493.25,521.25 493.25,521.85 493.25,522.45 493.25,523.05 493.25,523.65 493.25,524.25 493.24,524.85 493.24,525.45 493.24,526.05 493.24,526.65 493.24,527.25 493.24,527.85 493.24,528.45 493.24,529.05 493.24,529.65 493.24,530.25 493.24,530.85 493.24,531.45 493.24,532.05 493.24,532.65 493.24,533.25 493.24,533.85 493.24,534.45 493.24,535.05 493.24,535.65 493.24,536.25 493.24,536.85 493.24,537.45 493.24,538.05 493.24,538.65 493.24,539.25 493.23,539.85 493.23,540.45 493.23,541.05 493.23,541.65 493.23,542.25 493.23,542.85 493.23,543.45 493.23,544.05 493.23,544.65 493.23,545.25 493.23,545.85 493.23,546.45 493.22,547.05 492.49,547.65 491.74,548.25 491.00,548.85 489.93,549.45 488.70,550.05 487.48,550.65 486.25,551.25Z" fill="#2a9a48" stroke="#231f20" stroke-width="0.7" stroke-linejoin="round"/>
<path d="M500.25,623.75 499.42,623.15 498.58,622.55 497.75,621.95 496.92,621.35 496.17,620.75 495.41,620.15 494.65,619.55 494.06,618.95 493.49,618.35 493.29,617.75 493.27,617.15 493.27,616.55 493.27,615.95 493.27,615.35 493.27,614.75 493.27,614.15 493.27,613.55 493.27,612.95 493.27,612.35 493.27,611.75 493.27,611.15 493.27,610.55 493.26,609.95 493.26,609.35 493.26,608.75 493.26,608.15 493.26,607.55 493.26,606.95 493.26,606.35 493.26,605.75 493.26,605.15 493.26,604.55 493.26,603.95 493.26,603.35 493.26,602.75 493.26,602.15 493.26,601.55 493.26,600.95 493.26,600.35 493.26,599.75 493.26,599.15 493.26,598.55 493.26,597.95 493.26,597.35 493.26,596.75 493.26,596.15 493.26,595.55 493.26,594.95 493.26,594.35 493.25,593.75 493.25,593.15 493.25,592.55 493.25,591.95 493.25,591.35 493.25,590.75 493.25,590.15 493.25,589.55 493.25,588.95 493.25,588.35 493.25,587.75 493.25,587.15 493.25,586.55 493.25,585.95 493.25,585.85 493.25,585.95 493.25,586.55 493.25,587.15 493.25,587.75 493.25,588.35 493.25,588.95 493.25,589.55 493.25,590.15 493.25,590.75 493.25,591.35 493.25,591.95 493.25,592.55 493.25,593.15 493.25,593.75 493.24,594.35 493.24,594.95 493.24,595.55 493.24,596.15 493.24,596.75 493.24,597.35 493.24,597.95 493.24,598.55 493.24,599.15 493.24,599.75 493.24,600.35 493.24,600.95 493.24,601.55 493.24,602.15 493.24,602.75 493.24,603.35 493.24,603.95 493.24,604.55 493.24,605.15 493.24,605.75 493.24,606.35 493.24,606.95 493.24,607.55 493.24,608.15 493.24,608.75 493.24,609.35 493.24,609.95 493.23,610.55 493.23,611.15 493.23,611.75 493.23,612.35 493.23,612.95 493.23,613.55 493.23,614.15 493.23,614.75 493.23,615.35 493.23,615.95 493.23,616.55 493.23,617.15 493.21,617.75 493.01,618.35 492.44,618.95 491.85,619.55 491.09,620.15 490.33,620.75 489.58,621.35 488.75,621.95 487.92,622.55 487.08,623.15 486.25,623.75Z" fill="#2a9a48" stroke="#231f20" stroke-width="0.7" stroke-linejoin="round"/>
<rect x="301.2" y="480.5" width="200.90000000000003" height="146.25" fill="none" stroke="#231f20" stroke-width="1.2"/>
<line x1="301.20" y1="553.80" x2="502.10" y2="553.80" stroke="#231f20" stroke-width="1.2" />
<text transform="translate(305.00,489.50) scale(0.92,1)" x="0" y="0" font-size="8.2" text-anchor="start" font-weight="normal" font-style="italic" fill="#231f20" stroke="#231f20" stroke-width="0.25" >Casp3</text>
<text transform="translate(497.60,489.50) scale(0.93,1)" x="0" y="0" font-size="7.8" text-anchor="end" font-weight="normal" font-style="normal" fill="#231f20" stroke="#231f20" stroke-width="0.25" >WT</text>
<text x="499.20" y="563.40" font-size="7.6" text-anchor="end" font-weight="normal" font-style="normal" fill="#231f20" stroke="#231f20" stroke-width="0.25" >W<tspan font-size="5.6" dy="-2.9">41</tspan><tspan dy="2.9">/W</tspan><tspan font-size="5.6" dy="-2.9">41</tspan></text>
<line x1="298.00" y1="551.25" x2="301.20" y2="551.25" stroke="#231f20" stroke-width="1" />
<text transform="translate(295.00,554.15) scale(0.9,1)" x="0" y="0" font-size="8.3" text-anchor="end" font-weight="normal" font-style="normal" fill="#231f20" stroke="#231f20" stroke-width="0.25" >0.0</text>
<line x1="298.00" y1="540.25" x2="301.20" y2="540.25" stroke="#231f20" stroke-width="1" />
<text transform="translate(295.00,543.15) scale(0.9,1)" x="0" y="0" font-size="8.3" text-anchor="end" font-weight="normal" font-style="normal" fill="#231f20" stroke="#231f20" stroke-width="0.25" >0.2</text>
<line x1="298.00" y1="529.25" x2="301.20" y2="529.25" stroke="#231f20" stroke-width="1" />
<text transform="translate(295.00,532.15) scale(0.9,1)" x="0" y="0" font-size="8.3" text-anchor="end" font-weight="normal" font-style="normal" fill="#231f20" stroke="#231f20" stroke-width="0.25" >0.4</text>
<line x1="298.00" y1="518.25" x2="301.20" y2="518.25" stroke="#231f20" stroke-width="1" />
<text transform="translate(295.00,521.15) scale(0.9,1)" x="0" y="0" font-size="8.3" text-anchor="end" font-weight="normal" font-style="normal" fill="#231f20" stroke="#231f20" stroke-width="0.25" >0.6</text>
<line x1="298.00" y1="507.25" x2="301.20" y2="507.25" stroke="#231f20" stroke-width="1" />
<text transform="translate(295.00,510.15) scale(0.9,1)" x="0" y="0" font-size="8.3" text-anchor="end" font-weight="normal" font-style="normal" fill="#231f20" stroke="#231f20" stroke-width="0.25" >0.8</text>
<line x1="298.00" y1="496.25" x2="301.20" y2="496.25" stroke="#231f20" stroke-width="1" />
<text transform="translate(295.00,499.15) scale(0.9,1)" x="0" y="0" font-size="8.3" text-anchor="end" font-weight="normal" font-style="normal" fill="#231f20" stroke="#231f20" stroke-width="0.25" >1.0</text>
<line x1="298.00" y1="623.75" x2="301.20" y2="623.75" stroke="#231f20" stroke-width="1" />
<text transform="translate(295.00,626.65) scale(0.9,1)" x="0" y="0" font-size="8.3" text-anchor="end" font-weight="normal" font-style="normal" fill="#231f20" stroke="#231f20" stroke-width="0.25" >0.0</text>
<line x1="298.00" y1="607.15" x2="301.20" y2="607.15" stroke="#231f20" stroke-width="1" />
<text transform="translate(295.00,610.05) scale(0.9,1)" x="0" y="0" font-size="8.3" text-anchor="end" font-weight="normal" font-style="normal" fill="#231f20" stroke="#231f20" stroke-width="0.25" >0.2</text>
<line x1="298.00" y1="590.55" x2="301.20" y2="590.55" stroke="#231f20" stroke-width="1" />
<text transform="translate(295.00,593.45) scale(0.9,1)" x="0" y="0" font-size="8.3" text-anchor="end" font-weight="normal" font-style="normal" fill="#231f20" stroke="#231f20" stroke-width="0.25" >0.4</text>
<line x1="298.00" y1="573.95" x2="301.20" y2="573.95" stroke="#231f20" stroke-width="1" />
<text transform="translate(295.00,576.85) scale(0.9,1)" x="0" y="0" font-size="8.3" text-anchor="end" font-weight="normal" font-style="normal" fill="#231f20" stroke="#231f20" stroke-width="0.25" >0.6</text>
<line x1="310.75" y1="626.75" x2="310.75" y2="629.75" stroke="#231f20" stroke-width="1" />
<text transform="translate(310.75,640.35) scale(0.9,1)" x="0" y="0" font-size="8.3" text-anchor="middle" font-weight="normal" font-style="normal" fill="#231f20" stroke="#231f20" stroke-width="0.25" >1</text>
<line x1="329.00" y1="626.75" x2="329.00" y2="629.75" stroke="#231f20" stroke-width="1" />
<text transform="translate(329.00,640.35) scale(0.9,1)" x="0" y="0" font-size="8.3" text-anchor="middle" font-weight="normal" font-style="normal" fill="#231f20" stroke="#231f20" stroke-width="0.25" >2</text>
<line x1="347.25" y1="626.75" x2="347.25" y2="629.75" stroke="#231f20" stroke-width="1" />
<text transform="translate(347.25,640.35) scale(0.9,1)" x="0" y="0" font-size="8.3" text-anchor="middle" font-weight="normal" font-style="normal" fill="#231f20" stroke="#231f20" stroke-width="0.25" >3</text>
<line x1="365.50" y1="626.75" x2="365.50" y2="629.75" stroke="#231f20" stroke-width="1" />
<text transform="translate(365.50,640.35) scale(0.9,1)" x="0" y="0" font-size="8.3" text-anchor="middle" font-weight="normal" font-style="normal" fill="#231f20" stroke="#231f20" stroke-width="0.25" >4</text>
<line x1="383.75" y1="626.75" x2="383.75" y2="629.75" stroke="#231f20" stroke-width="1" />
<text transform="translate(383.75,640.35) scale(0.9,1)" x="0" y="0" font-size="8.3" text-anchor="middle" font-weight="normal" font-style="normal" fill="#231f20" stroke="#231f20" stroke-width="0.25" >5</text>
<line x1="402.00" y1="626.75" x2="402.00" y2="629.75" stroke="#231f20" stroke-width="1" />
<text transform="translate(402.00,640.35) scale(0.9,1)" x="0" y="0" font-size="8.3" text-anchor="middle" font-weight="normal" font-style="normal" fill="#231f20" stroke="#231f20" stroke-width="0.25" >6</text>
<line x1="420.25" y1="626.75" x2="420.25" y2="629.75" stroke="#231f20" stroke-width="1" />
<text transform="translate(420.25,640.35) scale(0.9,1)" x="0" y="0" font-size="8.3" text-anchor="middle" font-weight="normal" font-style="normal" fill="#231f20" stroke="#231f20" stroke-width="0.25" >7</text>
<line x1="438.50" y1="626.75" x2="438.50" y2="629.75" stroke="#231f20" stroke-width="1" />
<text transform="translate(438.50,640.35) scale(0.9,1)" x="0" y="0" font-size="8.3" text-anchor="middle" font-weight="normal" font-style="normal" fill="#231f20" stroke="#231f20" stroke-width="0.25" >8</text>
<line x1="456.75" y1="626.75" x2="456.75" y2="629.75" stroke="#231f20" stroke-width="1" />
<text transform="translate(456.75,640.35) scale(0.9,1)" x="0" y="0" font-size="8.3" text-anchor="middle" font-weight="normal" font-style="normal" fill="#231f20" stroke="#231f20" stroke-width="0.25" >9</text>
<line x1="475.00" y1="626.75" x2="475.00" y2="629.75" stroke="#231f20" stroke-width="1" />
<text transform="translate(475.00,640.35) scale(0.9,1)" x="0" y="0" font-size="8.3" text-anchor="middle" font-weight="normal" font-style="normal" fill="#231f20" stroke="#231f20" stroke-width="0.25" >10</text>
<line x1="493.25" y1="626.75" x2="493.25" y2="629.75" stroke="#231f20" stroke-width="1" />
<text transform="translate(493.25,640.35) scale(0.9,1)" x="0" y="0" font-size="8.3" text-anchor="middle" font-weight="normal" font-style="normal" fill="#231f20" stroke="#231f20" stroke-width="0.25" >11</text>
<text x="401.65" y="654.55" font-size="10.2" text-anchor="middle" font-weight="normal" font-style="normal" fill="#231f20" stroke="#231f20" stroke-width="0.25" textLength="24.6" lengthAdjust="spacingAndGlyphs" >Cluster</text>
<g transform="translate(277.5,553) rotate(-90)">
<text x="0.00" y="0.00" font-size="9.3" text-anchor="middle" font-weight="normal" font-style="normal" fill="#231f20" stroke="#231f20" stroke-width="0.25" textLength="137.5" lengthAdjust="spacingAndGlyphs" >Normalized gene expression (log-scale)</text>
</g>
</svg></body></html>
